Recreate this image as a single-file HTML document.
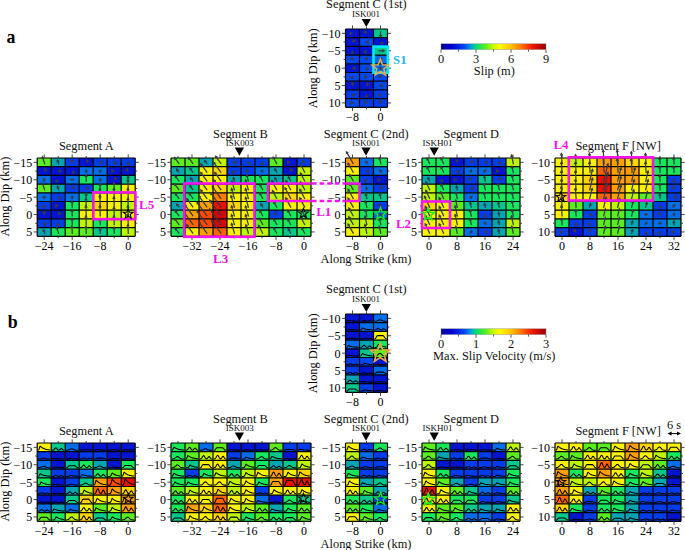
<!DOCTYPE html>
<html><head><meta charset="utf-8"><style>
html,body{margin:0;padding:0;background:#fff;}
svg{display:block;}
text{font-family:"Liberation Serif",serif;}
</style></head><body>
<svg width="685" height="550" viewBox="0 0 685 550">
<defs><linearGradient id="cbg" x1="0" x2="1" y1="0" y2="0"><stop offset="0.000" stop-color="rgb(0,0,150)"/><stop offset="0.100" stop-color="rgb(0,0,210)"/><stop offset="0.220" stop-color="rgb(0,70,245)"/><stop offset="0.280" stop-color="rgb(0,150,230)"/><stop offset="0.330" stop-color="rgb(0,220,120)"/><stop offset="0.420" stop-color="rgb(80,240,30)"/><stop offset="0.500" stop-color="rgb(200,250,0)"/><stop offset="0.560" stop-color="rgb(255,250,0)"/><stop offset="0.660" stop-color="rgb(255,200,0)"/><stop offset="0.760" stop-color="rgb(255,120,0)"/><stop offset="0.870" stop-color="rgb(240,20,0)"/><stop offset="1.000" stop-color="rgb(150,0,0)"/></linearGradient></defs>
<rect width="685" height="550" fill="#fff"/>
<rect x="345.50" y="29.00" width="14.00" height="8.70" fill="rgb(0,20,210)"/>
<rect x="359.50" y="29.00" width="14.00" height="8.70" fill="rgb(0,20,210)"/>
<rect x="373.50" y="29.00" width="14.00" height="8.70" fill="rgb(0,200,140)"/>
<rect x="345.50" y="37.70" width="14.00" height="8.70" fill="rgb(0,20,210)"/>
<rect x="359.50" y="37.70" width="14.00" height="8.70" fill="rgb(0,72,242)"/>
<rect x="373.50" y="37.70" width="14.00" height="8.70" fill="rgb(0,20,210)"/>
<rect x="345.50" y="46.40" width="14.00" height="8.70" fill="rgb(0,20,210)"/>
<rect x="359.50" y="46.40" width="14.00" height="8.70" fill="rgb(0,20,210)"/>
<rect x="373.50" y="46.40" width="14.00" height="8.70" fill="rgb(0,200,140)"/>
<rect x="345.50" y="55.10" width="14.00" height="8.70" fill="rgb(0,72,242)"/>
<rect x="359.50" y="55.10" width="14.00" height="8.70" fill="rgb(0,72,242)"/>
<rect x="373.50" y="55.10" width="14.00" height="8.70" fill="rgb(0,110,235)"/>
<rect x="345.50" y="63.80" width="14.00" height="8.70" fill="rgb(0,20,210)"/>
<rect x="359.50" y="63.80" width="14.00" height="8.70" fill="rgb(0,72,242)"/>
<rect x="373.50" y="63.80" width="14.00" height="8.70" fill="rgb(0,110,235)"/>
<rect x="345.50" y="72.50" width="14.00" height="8.70" fill="rgb(0,72,242)"/>
<rect x="359.50" y="72.50" width="14.00" height="8.70" fill="rgb(0,72,242)"/>
<rect x="373.50" y="72.50" width="14.00" height="8.70" fill="rgb(0,72,242)"/>
<rect x="345.50" y="81.20" width="14.00" height="8.70" fill="rgb(0,20,210)"/>
<rect x="359.50" y="81.20" width="14.00" height="8.70" fill="rgb(0,20,210)"/>
<rect x="373.50" y="81.20" width="14.00" height="8.70" fill="rgb(0,72,242)"/>
<rect x="345.50" y="89.90" width="14.00" height="8.70" fill="rgb(0,60,233)"/>
<rect x="359.50" y="89.90" width="14.00" height="8.70" fill="rgb(0,20,210)"/>
<rect x="373.50" y="89.90" width="14.00" height="8.70" fill="rgb(0,60,233)"/>
<rect x="345.50" y="98.60" width="14.00" height="8.70" fill="rgb(0,72,242)"/>
<rect x="359.50" y="98.60" width="14.00" height="8.70" fill="rgb(0,60,233)"/>
<rect x="373.50" y="98.60" width="14.00" height="8.70" fill="rgb(0,60,233)"/>
<path d="M345.50 29.00V107.30M359.50 29.00V107.30M373.50 29.00V107.30M387.50 29.00V107.30M345.50 29.00H387.50M345.50 37.70H387.50M345.50 46.40H387.50M345.50 55.10H387.50M345.50 63.80H387.50M345.50 72.50H387.50M345.50 81.20H387.50M345.50 89.90H387.50M345.50 98.60H387.50M345.50 107.30H387.50" stroke="#000" stroke-width="1.2" fill="none"/>
<path d="M345.50 33.35h-3.60M387.50 33.35h3.60M345.50 42.05h-2.00M387.50 42.05h2.00M345.50 50.75h-3.60M387.50 50.75h3.60M345.50 59.45h-2.00M387.50 59.45h2.00M345.50 68.15h-3.60M387.50 68.15h3.60M345.50 76.85h-2.00M387.50 76.85h2.00M345.50 85.55h-3.60M387.50 85.55h3.60M345.50 94.25h-2.00M387.50 94.25h2.00M345.50 102.95h-3.60M387.50 102.95h3.60M352.50 29.00v-3.60M352.50 107.30v3.60M366.50 29.00v-2.00M366.50 107.30v2.00M380.50 29.00v-3.60M380.50 107.30v3.60" stroke="#333" stroke-width="0.9" fill="none"/>
<text x="340.50" y="37.85" text-anchor="end" font-size="12">&#8722;10</text>
<text x="340.50" y="55.25" text-anchor="end" font-size="12">&#8722;5</text>
<text x="340.50" y="72.65" text-anchor="end" font-size="12">0</text>
<text x="340.50" y="90.05" text-anchor="end" font-size="12">5</text>
<text x="340.50" y="107.45" text-anchor="end" font-size="12">10</text>
<text x="352.50" y="121.30" text-anchor="middle" font-size="12">&#8722;8</text>
<text x="380.50" y="121.30" text-anchor="middle" font-size="12">0</text>
<polygon points="353.35,33.35 349.55,35.44 349.55,31.26" fill="rgb(58,58,64)"/>
<polygon points="367.10,33.95 362.94,32.74 365.89,29.79" fill="rgb(58,58,64)"/>
<line x1="380.50" y1="31.35" x2="380.50" y2="36.18" stroke="rgb(58,58,64)" stroke-width="1.25"/><polygon points="380.50,38.18 378.74,34.98 382.26,34.98" fill="rgb(58,58,64)"/>
<polygon points="351.90,42.65 353.11,38.49 356.06,41.44" fill="rgb(58,58,64)"/>
<polygon points="364.83,42.05 368.63,39.96 368.63,44.14" fill="rgb(58,58,64)"/>
<polygon points="379.90,41.45 384.06,42.66 381.11,45.61" fill="rgb(58,58,64)"/>
<polygon points="352.50,49.90 354.59,53.70 350.41,53.70" fill="rgb(58,58,64)"/>
<polygon points="367.10,50.15 365.89,54.31 362.94,51.36" fill="rgb(58,58,64)"/>
<line x1="378.50" y1="50.75" x2="383.33" y2="50.75" stroke="rgb(58,58,64)" stroke-width="1.25"/><polygon points="385.33,50.75 382.13,52.51 382.13,48.99" fill="rgb(58,58,64)"/>
<polygon points="353.68,60.63 349.51,59.42 352.47,56.46" fill="rgb(58,58,64)"/>
<polygon points="366.50,61.12 364.41,57.32 368.59,57.32" fill="rgb(58,58,64)"/>
<line x1="381.91" y1="58.04" x2="380.15" y2="59.80" stroke="rgb(58,58,64)" stroke-width="1.25"/><polygon points="378.73,61.22 379.75,57.71 382.24,60.20" fill="rgb(58,58,64)"/>
<polygon points="351.65,68.15 355.45,66.06 355.45,70.24" fill="rgb(58,58,64)"/>
<polygon points="365.32,66.97 369.49,68.18 366.53,71.14" fill="rgb(58,58,64)"/>
<line x1="380.50" y1="70.15" x2="380.50" y2="67.65" stroke="rgb(58,58,64)" stroke-width="1.25"/><polygon points="380.50,65.65 382.26,68.85 378.74,68.85" fill="rgb(58,58,64)"/>
<polygon points="353.68,75.67 352.47,79.84 349.51,76.88" fill="rgb(58,58,64)"/>
<polygon points="368.17,76.85 364.37,78.94 364.37,74.76" fill="rgb(58,58,64)"/>
<polygon points="381.68,78.03 377.51,76.82 380.47,73.86" fill="rgb(58,58,64)"/>
<polygon points="352.50,86.40 350.41,82.60 354.59,82.60" fill="rgb(58,58,64)"/>
<polygon points="365.90,86.15 367.11,81.99 370.06,84.94" fill="rgb(58,58,64)"/>
<polygon points="378.83,85.55 382.63,83.46 382.63,87.64" fill="rgb(58,58,64)"/>
<polygon points="351.49,93.24 355.65,94.45 352.70,97.40" fill="rgb(58,58,64)"/>
<polygon points="366.50,93.40 368.59,97.20 364.41,97.20" fill="rgb(58,58,64)"/>
<polygon points="381.51,93.24 380.30,97.40 377.35,94.45" fill="rgb(58,58,64)"/>
<polygon points="354.17,102.95 350.37,105.04 350.37,100.86" fill="rgb(58,58,64)"/>
<polygon points="367.51,103.96 363.35,102.75 366.30,99.80" fill="rgb(58,58,64)"/>
<polygon points="380.50,104.38 378.41,100.58 382.59,100.58" fill="rgb(58,58,64)"/>
<rect x="37.20" y="158.00" width="14.00" height="8.70" fill="rgb(90,238,30)"/>
<rect x="51.20" y="158.00" width="14.00" height="8.70" fill="rgb(0,165,180)"/>
<rect x="65.20" y="158.00" width="14.00" height="8.70" fill="rgb(0,60,233)"/>
<rect x="79.20" y="158.00" width="14.00" height="8.70" fill="rgb(0,20,210)"/>
<rect x="93.20" y="158.00" width="14.00" height="8.70" fill="rgb(0,60,233)"/>
<rect x="107.20" y="158.00" width="14.00" height="8.70" fill="rgb(0,60,233)"/>
<rect x="121.20" y="158.00" width="14.00" height="8.70" fill="rgb(0,60,233)"/>
<rect x="37.20" y="166.70" width="14.00" height="8.70" fill="rgb(0,20,210)"/>
<rect x="51.20" y="166.70" width="14.00" height="8.70" fill="rgb(0,20,210)"/>
<rect x="65.20" y="166.70" width="14.00" height="8.70" fill="rgb(0,20,210)"/>
<rect x="79.20" y="166.70" width="14.00" height="8.70" fill="rgb(0,110,235)"/>
<rect x="93.20" y="166.70" width="14.00" height="8.70" fill="rgb(0,110,235)"/>
<rect x="107.20" y="166.70" width="14.00" height="8.70" fill="rgb(0,20,210)"/>
<rect x="121.20" y="166.70" width="14.00" height="8.70" fill="rgb(0,20,210)"/>
<rect x="37.20" y="175.40" width="14.00" height="8.70" fill="rgb(0,110,235)"/>
<rect x="51.20" y="175.40" width="14.00" height="8.70" fill="rgb(0,20,210)"/>
<rect x="65.20" y="175.40" width="14.00" height="8.70" fill="rgb(0,110,235)"/>
<rect x="79.20" y="175.40" width="14.00" height="8.70" fill="rgb(22,232,92)"/>
<rect x="93.20" y="175.40" width="14.00" height="8.70" fill="rgb(0,110,235)"/>
<rect x="107.20" y="175.40" width="14.00" height="8.70" fill="rgb(0,20,210)"/>
<rect x="121.20" y="175.40" width="14.00" height="8.70" fill="rgb(0,200,140)"/>
<rect x="37.20" y="184.10" width="14.00" height="8.70" fill="rgb(90,238,30)"/>
<rect x="51.20" y="184.10" width="14.00" height="8.70" fill="rgb(0,165,180)"/>
<rect x="65.20" y="184.10" width="14.00" height="8.70" fill="rgb(0,60,233)"/>
<rect x="79.20" y="184.10" width="14.00" height="8.70" fill="rgb(0,60,233)"/>
<rect x="93.20" y="184.10" width="14.00" height="8.70" fill="rgb(22,232,92)"/>
<rect x="107.20" y="184.10" width="14.00" height="8.70" fill="rgb(90,238,30)"/>
<rect x="121.20" y="184.10" width="14.00" height="8.70" fill="rgb(250,242,0)"/>
<rect x="37.20" y="192.80" width="14.00" height="8.70" fill="rgb(0,110,235)"/>
<rect x="51.20" y="192.80" width="14.00" height="8.70" fill="rgb(0,60,233)"/>
<rect x="65.20" y="192.80" width="14.00" height="8.70" fill="rgb(0,110,235)"/>
<rect x="79.20" y="192.80" width="14.00" height="8.70" fill="rgb(0,200,140)"/>
<rect x="93.20" y="192.80" width="14.00" height="8.70" fill="rgb(250,242,0)"/>
<rect x="107.20" y="192.80" width="14.00" height="8.70" fill="rgb(250,242,0)"/>
<rect x="121.20" y="192.80" width="14.00" height="8.70" fill="rgb(250,242,0)"/>
<rect x="37.20" y="201.50" width="14.00" height="8.70" fill="rgb(0,60,233)"/>
<rect x="51.20" y="201.50" width="14.00" height="8.70" fill="rgb(0,20,210)"/>
<rect x="65.20" y="201.50" width="14.00" height="8.70" fill="rgb(22,232,92)"/>
<rect x="79.20" y="201.50" width="14.00" height="8.70" fill="rgb(190,245,0)"/>
<rect x="93.20" y="201.50" width="14.00" height="8.70" fill="rgb(255,212,0)"/>
<rect x="107.20" y="201.50" width="14.00" height="8.70" fill="rgb(250,242,0)"/>
<rect x="121.20" y="201.50" width="14.00" height="8.70" fill="rgb(190,245,0)"/>
<rect x="37.20" y="210.20" width="14.00" height="8.70" fill="rgb(0,20,210)"/>
<rect x="51.20" y="210.20" width="14.00" height="8.70" fill="rgb(0,20,210)"/>
<rect x="65.20" y="210.20" width="14.00" height="8.70" fill="rgb(22,232,92)"/>
<rect x="79.20" y="210.20" width="14.00" height="8.70" fill="rgb(250,242,0)"/>
<rect x="93.20" y="210.20" width="14.00" height="8.70" fill="rgb(250,242,0)"/>
<rect x="107.20" y="210.20" width="14.00" height="8.70" fill="rgb(190,245,0)"/>
<rect x="121.20" y="210.20" width="14.00" height="8.70" fill="rgb(250,242,0)"/>
<rect x="37.20" y="218.90" width="14.00" height="8.70" fill="rgb(0,60,233)"/>
<rect x="51.20" y="218.90" width="14.00" height="8.70" fill="rgb(0,60,233)"/>
<rect x="65.20" y="218.90" width="14.00" height="8.70" fill="rgb(22,232,92)"/>
<rect x="79.20" y="218.90" width="14.00" height="8.70" fill="rgb(190,245,0)"/>
<rect x="93.20" y="218.90" width="14.00" height="8.70" fill="rgb(22,232,92)"/>
<rect x="107.20" y="218.90" width="14.00" height="8.70" fill="rgb(190,245,0)"/>
<rect x="121.20" y="218.90" width="14.00" height="8.70" fill="rgb(250,242,0)"/>
<rect x="37.20" y="227.60" width="14.00" height="8.70" fill="rgb(0,165,180)"/>
<rect x="51.20" y="227.60" width="14.00" height="8.70" fill="rgb(22,232,92)"/>
<rect x="65.20" y="227.60" width="14.00" height="8.70" fill="rgb(90,238,30)"/>
<rect x="79.20" y="227.60" width="14.00" height="8.70" fill="rgb(90,238,30)"/>
<rect x="93.20" y="227.60" width="14.00" height="8.70" fill="rgb(0,200,140)"/>
<rect x="107.20" y="227.60" width="14.00" height="8.70" fill="rgb(22,232,92)"/>
<rect x="121.20" y="227.60" width="14.00" height="8.70" fill="rgb(190,245,0)"/>
<path d="M37.20 158.00V236.30M51.20 158.00V236.30M65.20 158.00V236.30M79.20 158.00V236.30M93.20 158.00V236.30M107.20 158.00V236.30M121.20 158.00V236.30M135.20 158.00V236.30M37.20 158.00H135.20M37.20 166.70H135.20M37.20 175.40H135.20M37.20 184.10H135.20M37.20 192.80H135.20M37.20 201.50H135.20M37.20 210.20H135.20M37.20 218.90H135.20M37.20 227.60H135.20M37.20 236.30H135.20" stroke="#000" stroke-width="1.2" fill="none"/>
<path d="M37.20 162.35h-3.60M135.20 162.35h3.60M37.20 171.05h-2.00M135.20 171.05h2.00M37.20 179.75h-3.60M135.20 179.75h3.60M37.20 188.45h-2.00M135.20 188.45h2.00M37.20 197.15h-3.60M135.20 197.15h3.60M37.20 205.85h-2.00M135.20 205.85h2.00M37.20 214.55h-3.60M135.20 214.55h3.60M37.20 223.25h-2.00M135.20 223.25h2.00M37.20 231.95h-3.60M135.20 231.95h3.60M44.20 158.00v-3.60M44.20 236.30v3.60M58.20 158.00v-2.00M58.20 236.30v2.00M72.20 158.00v-3.60M72.20 236.30v3.60M86.20 158.00v-2.00M86.20 236.30v2.00M100.20 158.00v-3.60M100.20 236.30v3.60M114.20 158.00v-2.00M114.20 236.30v2.00M128.20 158.00v-3.60M128.20 236.30v3.60" stroke="#333" stroke-width="0.9" fill="none"/>
<text x="32.20" y="166.85" text-anchor="end" font-size="12">&#8722;15</text>
<text x="32.20" y="184.25" text-anchor="end" font-size="12">&#8722;10</text>
<text x="32.20" y="201.65" text-anchor="end" font-size="12">&#8722;5</text>
<text x="32.20" y="219.05" text-anchor="end" font-size="12">0</text>
<text x="32.20" y="236.45" text-anchor="end" font-size="12">5</text>
<text x="44.20" y="250.30" text-anchor="middle" font-size="12">&#8722;24</text>
<text x="72.20" y="250.30" text-anchor="middle" font-size="12">&#8722;16</text>
<text x="100.20" y="250.30" text-anchor="middle" font-size="12">&#8722;8</text>
<text x="128.20" y="250.30" text-anchor="middle" font-size="12">0</text>
<line x1="44.82" y1="164.25" x2="42.60" y2="157.44" stroke="rgb(58,58,64)" stroke-width="1.25"/><polygon points="41.99,155.53 44.65,158.03 41.30,159.12" fill="rgb(58,58,64)"/>
<line x1="58.82" y1="164.25" x2="57.68" y2="160.76" stroke="rgb(58,58,64)" stroke-width="1.25"/><polygon points="57.07,158.86 59.73,161.36 56.38,162.45" fill="rgb(58,58,64)"/>
<polygon points="72.20,163.78 70.11,159.98 74.29,159.98" fill="rgb(58,58,64)"/>
<polygon points="85.60,162.95 86.81,158.79 89.76,161.74" fill="rgb(58,58,64)"/>
<polygon points="98.77,162.35 102.57,160.26 102.57,164.44" fill="rgb(58,58,64)"/>
<polygon points="113.19,161.34 117.35,162.55 114.40,165.50" fill="rgb(58,58,64)"/>
<polygon points="128.20,160.92 130.29,164.72 126.11,164.72" fill="rgb(58,58,64)"/>
<polygon points="43.60,171.65 44.81,167.49 47.76,170.44" fill="rgb(58,58,64)"/>
<polygon points="57.35,171.05 61.15,168.96 61.15,173.14" fill="rgb(58,58,64)"/>
<polygon points="71.60,170.45 75.76,171.66 72.81,174.61" fill="rgb(58,58,64)"/>
<line x1="86.20" y1="173.05" x2="86.20" y2="170.55" stroke="rgb(58,58,64)" stroke-width="1.25"/><polygon points="86.20,168.55 87.96,171.75 84.44,171.75" fill="rgb(58,58,64)"/>
<line x1="98.79" y1="172.46" x2="100.55" y2="170.70" stroke="rgb(58,58,64)" stroke-width="1.25"/><polygon points="101.97,169.28 100.95,172.79 98.46,170.30" fill="rgb(58,58,64)"/>
<polygon points="115.05,171.05 111.25,173.14 111.25,168.96" fill="rgb(58,58,64)"/>
<polygon points="128.80,171.65 124.64,170.44 127.59,167.49" fill="rgb(58,58,64)"/>
<line x1="44.20" y1="181.75" x2="44.20" y2="179.25" stroke="rgb(58,58,64)" stroke-width="1.25"/><polygon points="44.20,177.25 45.96,180.45 42.44,180.45" fill="rgb(58,58,64)"/>
<polygon points="58.80,179.15 57.59,183.31 54.64,180.36" fill="rgb(58,58,64)"/>
<line x1="70.20" y1="179.75" x2="72.70" y2="179.75" stroke="rgb(58,58,64)" stroke-width="1.25"/><polygon points="74.70,179.75 71.50,181.51 71.50,177.99" fill="rgb(58,58,64)"/>
<line x1="86.27" y1="181.75" x2="86.06" y2="175.75" stroke="rgb(58,58,64)" stroke-width="1.25"/><polygon points="85.99,173.75 87.86,176.89 84.34,177.01" fill="rgb(58,58,64)"/>
<line x1="100.20" y1="177.75" x2="100.20" y2="180.25" stroke="rgb(58,58,64)" stroke-width="1.25"/><polygon points="100.20,182.25 98.44,179.05 101.96,179.05" fill="rgb(58,58,64)"/>
<polygon points="113.60,180.35 114.81,176.19 117.76,179.14" fill="rgb(58,58,64)"/>
<line x1="128.27" y1="181.75" x2="128.10" y2="176.92" stroke="rgb(58,58,64)" stroke-width="1.25"/><polygon points="128.03,174.92 129.90,178.06 126.38,178.18" fill="rgb(58,58,64)"/>
<line x1="44.82" y1="190.35" x2="42.60" y2="183.54" stroke="rgb(58,58,64)" stroke-width="1.25"/><polygon points="41.99,181.63 44.65,184.13 41.30,185.22" fill="rgb(58,58,64)"/>
<line x1="58.82" y1="190.35" x2="57.68" y2="186.86" stroke="rgb(58,58,64)" stroke-width="1.25"/><polygon points="57.07,184.96 59.73,187.46 56.38,188.55" fill="rgb(58,58,64)"/>
<polygon points="71.19,189.46 72.40,185.30 75.35,188.25" fill="rgb(58,58,64)"/>
<polygon points="84.77,188.45 88.57,186.36 88.57,190.54" fill="rgb(58,58,64)"/>
<line x1="100.27" y1="190.45" x2="100.06" y2="184.45" stroke="rgb(58,58,64)" stroke-width="1.25"/><polygon points="99.99,182.45 101.86,185.59 98.34,185.71" fill="rgb(58,58,64)"/>
<line x1="114.27" y1="190.45" x2="114.02" y2="183.29" stroke="rgb(58,58,64)" stroke-width="1.25"/><polygon points="113.95,181.29 115.82,184.42 112.30,184.55" fill="rgb(58,58,64)"/>
<line x1="128.27" y1="190.45" x2="127.91" y2="180.25" stroke="rgb(58,58,64)" stroke-width="1.25"/><polygon points="127.84,178.26 129.71,181.39 126.20,181.52" fill="rgb(58,58,64)"/>
<line x1="46.20" y1="197.15" x2="43.70" y2="197.15" stroke="rgb(58,58,64)" stroke-width="1.25"/><polygon points="41.70,197.15 44.90,195.39 44.90,198.91" fill="rgb(58,58,64)"/>
<polygon points="57.19,196.14 61.35,197.35 58.40,200.30" fill="rgb(58,58,64)"/>
<line x1="72.20" y1="199.15" x2="72.20" y2="196.65" stroke="rgb(58,58,64)" stroke-width="1.25"/><polygon points="72.20,194.65 73.96,197.85 70.44,197.85" fill="rgb(58,58,64)"/>
<line x1="86.27" y1="199.15" x2="86.10" y2="194.32" stroke="rgb(58,58,64)" stroke-width="1.25"/><polygon points="86.03,192.32 87.90,195.46 84.38,195.58" fill="rgb(58,58,64)"/>
<line x1="100.27" y1="199.15" x2="99.91" y2="188.95" stroke="rgb(58,58,64)" stroke-width="1.25"/><polygon points="99.84,186.96 101.71,190.09 98.20,190.22" fill="rgb(58,58,64)"/>
<line x1="114.27" y1="199.15" x2="113.91" y2="188.95" stroke="rgb(58,58,64)" stroke-width="1.25"/><polygon points="113.84,186.96 115.71,190.09 112.20,190.22" fill="rgb(58,58,64)"/>
<line x1="128.27" y1="199.15" x2="127.91" y2="188.95" stroke="rgb(58,58,64)" stroke-width="1.25"/><polygon points="127.84,186.96 129.71,190.09 126.20,190.22" fill="rgb(58,58,64)"/>
<polygon points="45.21,204.84 44.00,209.00 41.05,206.05" fill="rgb(58,58,64)"/>
<polygon points="59.05,205.85 55.25,207.94 55.25,203.76" fill="rgb(58,58,64)"/>
<line x1="72.27" y1="207.85" x2="72.06" y2="201.85" stroke="rgb(58,58,64)" stroke-width="1.25"/><polygon points="71.99,199.85 73.86,202.99 70.34,203.11" fill="rgb(58,58,64)"/>
<line x1="86.27" y1="207.85" x2="85.96" y2="199.05" stroke="rgb(58,58,64)" stroke-width="1.25"/><polygon points="85.89,197.06 87.76,200.19 84.25,200.31" fill="rgb(58,58,64)"/>
<line x1="100.27" y1="207.85" x2="99.86" y2="196.02" stroke="rgb(58,58,64)" stroke-width="1.25"/><polygon points="99.79,194.02 101.66,197.16 98.14,197.28" fill="rgb(58,58,64)"/>
<line x1="114.27" y1="207.85" x2="113.91" y2="197.65" stroke="rgb(58,58,64)" stroke-width="1.25"/><polygon points="113.84,195.66 115.71,198.79 112.20,198.92" fill="rgb(58,58,64)"/>
<line x1="128.27" y1="207.85" x2="127.96" y2="199.05" stroke="rgb(58,58,64)" stroke-width="1.25"/><polygon points="127.89,197.06 129.76,200.19 126.25,200.31" fill="rgb(58,58,64)"/>
<polygon points="44.20,215.40 42.11,211.60 46.29,211.60" fill="rgb(58,58,64)"/>
<polygon points="57.60,215.15 58.81,210.99 61.76,213.94" fill="rgb(58,58,64)"/>
<line x1="72.27" y1="216.55" x2="72.06" y2="210.55" stroke="rgb(58,58,64)" stroke-width="1.25"/><polygon points="71.99,208.55 73.86,211.69 70.34,211.81" fill="rgb(58,58,64)"/>
<line x1="86.27" y1="216.55" x2="85.91" y2="206.35" stroke="rgb(58,58,64)" stroke-width="1.25"/><polygon points="85.84,204.36 87.71,207.49 84.20,207.62" fill="rgb(58,58,64)"/>
<line x1="100.27" y1="216.55" x2="99.91" y2="206.35" stroke="rgb(58,58,64)" stroke-width="1.25"/><polygon points="99.84,204.36 101.71,207.49 98.20,207.62" fill="rgb(58,58,64)"/>
<line x1="114.27" y1="216.55" x2="113.96" y2="207.75" stroke="rgb(58,58,64)" stroke-width="1.25"/><polygon points="113.89,205.76 115.76,208.89 112.25,209.01" fill="rgb(58,58,64)"/>
<line x1="128.27" y1="216.55" x2="127.91" y2="206.35" stroke="rgb(58,58,64)" stroke-width="1.25"/><polygon points="127.84,204.36 129.71,207.49 126.20,207.62" fill="rgb(58,58,64)"/>
<polygon points="43.19,222.24 47.35,223.45 44.40,226.40" fill="rgb(58,58,64)"/>
<polygon points="58.20,221.82 60.29,225.62 56.11,225.62" fill="rgb(58,58,64)"/>
<line x1="72.27" y1="225.25" x2="72.06" y2="219.25" stroke="rgb(58,58,64)" stroke-width="1.25"/><polygon points="71.99,217.25 73.86,220.39 70.34,220.51" fill="rgb(58,58,64)"/>
<line x1="86.27" y1="225.25" x2="85.96" y2="216.45" stroke="rgb(58,58,64)" stroke-width="1.25"/><polygon points="85.89,214.46 87.76,217.59 84.25,217.71" fill="rgb(58,58,64)"/>
<line x1="100.27" y1="225.25" x2="100.06" y2="219.25" stroke="rgb(58,58,64)" stroke-width="1.25"/><polygon points="99.99,217.25 101.86,220.39 98.34,220.51" fill="rgb(58,58,64)"/>
<line x1="114.27" y1="225.25" x2="113.96" y2="216.45" stroke="rgb(58,58,64)" stroke-width="1.25"/><polygon points="113.89,214.46 115.76,217.59 112.25,217.71" fill="rgb(58,58,64)"/>
<line x1="128.27" y1="225.25" x2="127.91" y2="215.05" stroke="rgb(58,58,64)" stroke-width="1.25"/><polygon points="127.84,213.06 129.71,216.19 126.20,216.32" fill="rgb(58,58,64)"/>
<line x1="44.82" y1="233.85" x2="43.68" y2="230.36" stroke="rgb(58,58,64)" stroke-width="1.25"/><polygon points="43.07,228.46 45.73,230.96 42.38,232.05" fill="rgb(58,58,64)"/>
<line x1="58.82" y1="233.85" x2="56.96" y2="228.15" stroke="rgb(58,58,64)" stroke-width="1.25"/><polygon points="56.35,226.24 59.01,228.74 55.66,229.83" fill="rgb(58,58,64)"/>
<line x1="72.27" y1="233.95" x2="72.02" y2="226.79" stroke="rgb(58,58,64)" stroke-width="1.25"/><polygon points="71.95,224.79 73.82,227.92 70.30,228.05" fill="rgb(58,58,64)"/>
<line x1="86.27" y1="233.95" x2="86.02" y2="226.79" stroke="rgb(58,58,64)" stroke-width="1.25"/><polygon points="85.95,224.79 87.82,227.92 84.30,228.05" fill="rgb(58,58,64)"/>
<line x1="100.27" y1="233.95" x2="100.10" y2="229.12" stroke="rgb(58,58,64)" stroke-width="1.25"/><polygon points="100.03,227.12 101.90,230.26 98.38,230.38" fill="rgb(58,58,64)"/>
<line x1="114.27" y1="233.95" x2="114.06" y2="227.95" stroke="rgb(58,58,64)" stroke-width="1.25"/><polygon points="113.99,225.95 115.86,229.09 112.34,229.21" fill="rgb(58,58,64)"/>
<line x1="128.27" y1="233.95" x2="127.96" y2="225.15" stroke="rgb(58,58,64)" stroke-width="1.25"/><polygon points="127.89,223.16 129.76,226.29 126.25,226.41" fill="rgb(58,58,64)"/>
<rect x="171.00" y="158.00" width="14.00" height="8.70" fill="rgb(90,238,30)"/>
<rect x="185.00" y="158.00" width="14.00" height="8.70" fill="rgb(90,238,30)"/>
<rect x="199.00" y="158.00" width="14.00" height="8.70" fill="rgb(0,165,180)"/>
<rect x="213.00" y="158.00" width="14.00" height="8.70" fill="rgb(190,245,0)"/>
<rect x="227.00" y="158.00" width="14.00" height="8.70" fill="rgb(0,60,233)"/>
<rect x="241.00" y="158.00" width="14.00" height="8.70" fill="rgb(0,60,233)"/>
<rect x="255.00" y="158.00" width="14.00" height="8.70" fill="rgb(0,60,233)"/>
<rect x="269.00" y="158.00" width="14.00" height="8.70" fill="rgb(90,238,30)"/>
<rect x="283.00" y="158.00" width="14.00" height="8.70" fill="rgb(0,20,210)"/>
<rect x="297.00" y="158.00" width="14.00" height="8.70" fill="rgb(0,60,233)"/>
<rect x="171.00" y="166.70" width="14.00" height="8.70" fill="rgb(0,165,180)"/>
<rect x="185.00" y="166.70" width="14.00" height="8.70" fill="rgb(0,200,140)"/>
<rect x="199.00" y="166.70" width="14.00" height="8.70" fill="rgb(250,242,0)"/>
<rect x="213.00" y="166.70" width="14.00" height="8.70" fill="rgb(255,212,0)"/>
<rect x="227.00" y="166.70" width="14.00" height="8.70" fill="rgb(0,60,233)"/>
<rect x="241.00" y="166.70" width="14.00" height="8.70" fill="rgb(0,60,233)"/>
<rect x="255.00" y="166.70" width="14.00" height="8.70" fill="rgb(0,110,235)"/>
<rect x="269.00" y="166.70" width="14.00" height="8.70" fill="rgb(0,165,180)"/>
<rect x="283.00" y="166.70" width="14.00" height="8.70" fill="rgb(0,20,210)"/>
<rect x="297.00" y="166.70" width="14.00" height="8.70" fill="rgb(190,245,0)"/>
<rect x="171.00" y="175.40" width="14.00" height="8.70" fill="rgb(22,232,92)"/>
<rect x="185.00" y="175.40" width="14.00" height="8.70" fill="rgb(0,165,180)"/>
<rect x="199.00" y="175.40" width="14.00" height="8.70" fill="rgb(250,242,0)"/>
<rect x="213.00" y="175.40" width="14.00" height="8.70" fill="rgb(250,242,0)"/>
<rect x="227.00" y="175.40" width="14.00" height="8.70" fill="rgb(0,165,180)"/>
<rect x="241.00" y="175.40" width="14.00" height="8.70" fill="rgb(22,232,92)"/>
<rect x="255.00" y="175.40" width="14.00" height="8.70" fill="rgb(22,232,92)"/>
<rect x="269.00" y="175.40" width="14.00" height="8.70" fill="rgb(0,165,180)"/>
<rect x="283.00" y="175.40" width="14.00" height="8.70" fill="rgb(0,200,140)"/>
<rect x="297.00" y="175.40" width="14.00" height="8.70" fill="rgb(190,245,0)"/>
<rect x="171.00" y="184.10" width="14.00" height="8.70" fill="rgb(90,238,30)"/>
<rect x="185.00" y="184.10" width="14.00" height="8.70" fill="rgb(0,200,140)"/>
<rect x="199.00" y="184.10" width="14.00" height="8.70" fill="rgb(250,242,0)"/>
<rect x="213.00" y="184.10" width="14.00" height="8.70" fill="rgb(255,212,0)"/>
<rect x="227.00" y="184.10" width="14.00" height="8.70" fill="rgb(190,245,0)"/>
<rect x="241.00" y="184.10" width="14.00" height="8.70" fill="rgb(250,242,0)"/>
<rect x="255.00" y="184.10" width="14.00" height="8.70" fill="rgb(22,232,92)"/>
<rect x="269.00" y="184.10" width="14.00" height="8.70" fill="rgb(250,242,0)"/>
<rect x="283.00" y="184.10" width="14.00" height="8.70" fill="rgb(250,242,0)"/>
<rect x="297.00" y="184.10" width="14.00" height="8.70" fill="rgb(190,245,0)"/>
<rect x="171.00" y="192.80" width="14.00" height="8.70" fill="rgb(22,232,92)"/>
<rect x="185.00" y="192.80" width="14.00" height="8.70" fill="rgb(22,232,92)"/>
<rect x="199.00" y="192.80" width="14.00" height="8.70" fill="rgb(250,242,0)"/>
<rect x="213.00" y="192.80" width="14.00" height="8.70" fill="rgb(255,125,0)"/>
<rect x="227.00" y="192.80" width="14.00" height="8.70" fill="rgb(250,242,0)"/>
<rect x="241.00" y="192.80" width="14.00" height="8.70" fill="rgb(250,242,0)"/>
<rect x="255.00" y="192.80" width="14.00" height="8.70" fill="rgb(22,232,92)"/>
<rect x="269.00" y="192.80" width="14.00" height="8.70" fill="rgb(190,245,0)"/>
<rect x="283.00" y="192.80" width="14.00" height="8.70" fill="rgb(255,212,0)"/>
<rect x="297.00" y="192.80" width="14.00" height="8.70" fill="rgb(250,242,0)"/>
<rect x="171.00" y="201.50" width="14.00" height="8.70" fill="rgb(0,165,180)"/>
<rect x="185.00" y="201.50" width="14.00" height="8.70" fill="rgb(250,242,0)"/>
<rect x="199.00" y="201.50" width="14.00" height="8.70" fill="rgb(255,160,0)"/>
<rect x="213.00" y="201.50" width="14.00" height="8.70" fill="rgb(235,15,0)"/>
<rect x="227.00" y="201.50" width="14.00" height="8.70" fill="rgb(255,212,0)"/>
<rect x="241.00" y="201.50" width="14.00" height="8.70" fill="rgb(250,242,0)"/>
<rect x="255.00" y="201.50" width="14.00" height="8.70" fill="rgb(0,165,180)"/>
<rect x="269.00" y="201.50" width="14.00" height="8.70" fill="rgb(22,232,92)"/>
<rect x="283.00" y="201.50" width="14.00" height="8.70" fill="rgb(250,242,0)"/>
<rect x="297.00" y="201.50" width="14.00" height="8.70" fill="rgb(250,242,0)"/>
<rect x="171.00" y="210.20" width="14.00" height="8.70" fill="rgb(22,232,92)"/>
<rect x="185.00" y="210.20" width="14.00" height="8.70" fill="rgb(255,160,0)"/>
<rect x="199.00" y="210.20" width="14.00" height="8.70" fill="rgb(255,72,0)"/>
<rect x="213.00" y="210.20" width="14.00" height="8.70" fill="rgb(218,0,0)"/>
<rect x="227.00" y="210.20" width="14.00" height="8.70" fill="rgb(250,242,0)"/>
<rect x="241.00" y="210.20" width="14.00" height="8.70" fill="rgb(250,242,0)"/>
<rect x="255.00" y="210.20" width="14.00" height="8.70" fill="rgb(22,232,92)"/>
<rect x="269.00" y="210.20" width="14.00" height="8.70" fill="rgb(0,60,233)"/>
<rect x="283.00" y="210.20" width="14.00" height="8.70" fill="rgb(22,232,92)"/>
<rect x="297.00" y="210.20" width="14.00" height="8.70" fill="rgb(22,232,92)"/>
<rect x="171.00" y="218.90" width="14.00" height="8.70" fill="rgb(90,238,30)"/>
<rect x="185.00" y="218.90" width="14.00" height="8.70" fill="rgb(255,100,0)"/>
<rect x="199.00" y="218.90" width="14.00" height="8.70" fill="rgb(255,72,0)"/>
<rect x="213.00" y="218.90" width="14.00" height="8.70" fill="rgb(218,0,0)"/>
<rect x="227.00" y="218.90" width="14.00" height="8.70" fill="rgb(250,242,0)"/>
<rect x="241.00" y="218.90" width="14.00" height="8.70" fill="rgb(250,242,0)"/>
<rect x="255.00" y="218.90" width="14.00" height="8.70" fill="rgb(90,238,30)"/>
<rect x="269.00" y="218.90" width="14.00" height="8.70" fill="rgb(22,232,92)"/>
<rect x="283.00" y="218.90" width="14.00" height="8.70" fill="rgb(22,232,92)"/>
<rect x="297.00" y="218.90" width="14.00" height="8.70" fill="rgb(190,245,0)"/>
<rect x="171.00" y="227.60" width="14.00" height="8.70" fill="rgb(22,232,92)"/>
<rect x="185.00" y="227.60" width="14.00" height="8.70" fill="rgb(250,242,0)"/>
<rect x="199.00" y="227.60" width="14.00" height="8.70" fill="rgb(255,160,0)"/>
<rect x="213.00" y="227.60" width="14.00" height="8.70" fill="rgb(255,100,0)"/>
<rect x="227.00" y="227.60" width="14.00" height="8.70" fill="rgb(250,242,0)"/>
<rect x="241.00" y="227.60" width="14.00" height="8.70" fill="rgb(190,245,0)"/>
<rect x="255.00" y="227.60" width="14.00" height="8.70" fill="rgb(190,245,0)"/>
<rect x="269.00" y="227.60" width="14.00" height="8.70" fill="rgb(22,232,92)"/>
<rect x="283.00" y="227.60" width="14.00" height="8.70" fill="rgb(0,200,140)"/>
<rect x="297.00" y="227.60" width="14.00" height="8.70" fill="rgb(22,232,92)"/>
<path d="M171.00 158.00V236.30M185.00 158.00V236.30M199.00 158.00V236.30M213.00 158.00V236.30M227.00 158.00V236.30M241.00 158.00V236.30M255.00 158.00V236.30M269.00 158.00V236.30M283.00 158.00V236.30M297.00 158.00V236.30M311.00 158.00V236.30M171.00 158.00H311.00M171.00 166.70H311.00M171.00 175.40H311.00M171.00 184.10H311.00M171.00 192.80H311.00M171.00 201.50H311.00M171.00 210.20H311.00M171.00 218.90H311.00M171.00 227.60H311.00M171.00 236.30H311.00" stroke="#000" stroke-width="1.2" fill="none"/>
<path d="M171.00 162.35h-3.60M311.00 162.35h3.60M171.00 171.05h-2.00M311.00 171.05h2.00M171.00 179.75h-3.60M311.00 179.75h3.60M171.00 188.45h-2.00M311.00 188.45h2.00M171.00 197.15h-3.60M311.00 197.15h3.60M171.00 205.85h-2.00M311.00 205.85h2.00M171.00 214.55h-3.60M311.00 214.55h3.60M171.00 223.25h-2.00M311.00 223.25h2.00M171.00 231.95h-3.60M311.00 231.95h3.60M178.00 158.00v-2.00M178.00 236.30v2.00M192.00 158.00v-3.60M192.00 236.30v3.60M206.00 158.00v-2.00M206.00 236.30v2.00M220.00 158.00v-3.60M220.00 236.30v3.60M234.00 158.00v-2.00M234.00 236.30v2.00M248.00 158.00v-3.60M248.00 236.30v3.60M262.00 158.00v-2.00M262.00 236.30v2.00M276.00 158.00v-3.60M276.00 236.30v3.60M290.00 158.00v-2.00M290.00 236.30v2.00M304.00 158.00v-3.60M304.00 236.30v3.60" stroke="#333" stroke-width="0.9" fill="none"/>
<text x="166.00" y="166.85" text-anchor="end" font-size="12">&#8722;15</text>
<text x="166.00" y="184.25" text-anchor="end" font-size="12">&#8722;10</text>
<text x="166.00" y="201.65" text-anchor="end" font-size="12">&#8722;5</text>
<text x="166.00" y="219.05" text-anchor="end" font-size="12">0</text>
<text x="166.00" y="236.45" text-anchor="end" font-size="12">5</text>
<text x="192.00" y="250.30" text-anchor="middle" font-size="12">&#8722;32</text>
<text x="220.00" y="250.30" text-anchor="middle" font-size="12">&#8722;24</text>
<text x="248.00" y="250.30" text-anchor="middle" font-size="12">&#8722;16</text>
<text x="276.00" y="250.30" text-anchor="middle" font-size="12">&#8722;8</text>
<text x="304.00" y="250.30" text-anchor="middle" font-size="12">0</text>
<line x1="179.18" y1="163.97" x2="174.96" y2="158.17" stroke="rgb(58,58,64)" stroke-width="1.25"/><polygon points="173.79,156.55 177.09,158.11 174.24,160.18" fill="rgb(58,58,64)"/>
<line x1="193.18" y1="163.97" x2="188.96" y2="158.17" stroke="rgb(58,58,64)" stroke-width="1.25"/><polygon points="187.79,156.55 191.09,158.11 188.24,160.18" fill="rgb(58,58,64)"/>
<line x1="207.18" y1="163.97" x2="205.02" y2="161.00" stroke="rgb(58,58,64)" stroke-width="1.25"/><polygon points="203.84,159.38 207.15,160.94 204.30,163.01" fill="rgb(58,58,64)"/>
<line x1="221.18" y1="163.97" x2="216.00" y2="156.85" stroke="rgb(58,58,64)" stroke-width="1.25"/><polygon points="214.83,155.23 218.13,156.79 215.28,158.85" fill="rgb(58,58,64)"/>
<polygon points="232.57,162.35 236.37,160.26 236.37,164.44" fill="rgb(58,58,64)"/>
<polygon points="246.99,161.34 251.15,162.55 248.20,165.50" fill="rgb(58,58,64)"/>
<polygon points="262.00,160.92 264.09,164.72 259.91,164.72" fill="rgb(58,58,64)"/>
<line x1="276.94" y1="164.12" x2="273.57" y2="157.79" stroke="rgb(58,58,64)" stroke-width="1.25"/><polygon points="272.64,156.02 275.69,158.02 272.58,159.67" fill="rgb(58,58,64)"/>
<polygon points="290.85,162.35 287.05,164.44 287.05,160.26" fill="rgb(58,58,64)"/>
<polygon points="305.01,163.36 300.85,162.15 303.80,159.20" fill="rgb(58,58,64)"/>
<line x1="179.18" y1="172.67" x2="177.02" y2="169.70" stroke="rgb(58,58,64)" stroke-width="1.25"/><polygon points="175.84,168.08 179.15,169.64 176.30,171.71" fill="rgb(58,58,64)"/>
<line x1="193.18" y1="172.67" x2="190.33" y2="168.76" stroke="rgb(58,58,64)" stroke-width="1.25"/><polygon points="189.16,167.14 192.46,168.69 189.62,170.76" fill="rgb(58,58,64)"/>
<line x1="207.18" y1="172.67" x2="201.18" y2="164.42" stroke="rgb(58,58,64)" stroke-width="1.25"/><polygon points="200.00,162.80 203.31,164.35 200.46,166.42" fill="rgb(58,58,64)"/>
<line x1="221.18" y1="172.67" x2="214.22" y2="163.09" stroke="rgb(58,58,64)" stroke-width="1.25"/><polygon points="213.04,161.48 216.35,163.03 213.50,165.10" fill="rgb(58,58,64)"/>
<polygon points="235.01,170.04 233.80,174.20 230.85,171.25" fill="rgb(58,58,64)"/>
<polygon points="249.43,171.05 245.63,173.14 245.63,168.96" fill="rgb(58,58,64)"/>
<line x1="260.59" y1="169.64" x2="262.35" y2="171.40" stroke="rgb(58,58,64)" stroke-width="1.25"/><polygon points="263.77,172.82 260.26,171.80 262.75,169.31" fill="rgb(58,58,64)"/>
<line x1="276.94" y1="172.82" x2="275.22" y2="169.58" stroke="rgb(58,58,64)" stroke-width="1.25"/><polygon points="274.28,167.81 277.33,169.81 274.23,171.46" fill="rgb(58,58,64)"/>
<polygon points="289.40,171.65 290.61,167.49 293.56,170.44" fill="rgb(58,58,64)"/>
<line x1="304.94" y1="172.82" x2="300.81" y2="165.05" stroke="rgb(58,58,64)" stroke-width="1.25"/><polygon points="299.87,163.28 302.92,165.28 299.82,166.93" fill="rgb(58,58,64)"/>
<line x1="179.18" y1="181.37" x2="175.65" y2="176.51" stroke="rgb(58,58,64)" stroke-width="1.25"/><polygon points="174.47,174.90 177.78,176.45 174.93,178.52" fill="rgb(58,58,64)"/>
<line x1="193.18" y1="181.37" x2="191.02" y2="178.40" stroke="rgb(58,58,64)" stroke-width="1.25"/><polygon points="189.84,176.78 193.15,178.34 190.30,180.41" fill="rgb(58,58,64)"/>
<line x1="207.18" y1="181.37" x2="201.18" y2="173.12" stroke="rgb(58,58,64)" stroke-width="1.25"/><polygon points="200.00,171.50 203.31,173.05 200.46,175.12" fill="rgb(58,58,64)"/>
<line x1="221.18" y1="181.37" x2="215.18" y2="173.12" stroke="rgb(58,58,64)" stroke-width="1.25"/><polygon points="214.00,171.50 217.31,173.05 214.46,175.12" fill="rgb(58,58,64)"/>
<line x1="234.55" y1="181.67" x2="233.54" y2="178.15" stroke="rgb(58,58,64)" stroke-width="1.25"/><polygon points="232.99,176.23 235.56,178.82 232.18,179.79" fill="rgb(58,58,64)"/>
<line x1="248.55" y1="181.67" x2="246.90" y2="175.90" stroke="rgb(58,58,64)" stroke-width="1.25"/><polygon points="246.35,173.98 248.92,176.57 245.54,177.54" fill="rgb(58,58,64)"/>
<line x1="262.94" y1="181.52" x2="260.12" y2="176.22" stroke="rgb(58,58,64)" stroke-width="1.25"/><polygon points="259.18,174.45 262.24,176.45 259.13,178.10" fill="rgb(58,58,64)"/>
<line x1="276.94" y1="181.52" x2="275.22" y2="178.28" stroke="rgb(58,58,64)" stroke-width="1.25"/><polygon points="274.28,176.51 277.33,178.51 274.23,180.16" fill="rgb(58,58,64)"/>
<line x1="290.94" y1="181.52" x2="288.67" y2="177.25" stroke="rgb(58,58,64)" stroke-width="1.25"/><polygon points="287.73,175.48 290.79,177.48 287.68,179.13" fill="rgb(58,58,64)"/>
<line x1="304.94" y1="181.52" x2="300.81" y2="173.75" stroke="rgb(58,58,64)" stroke-width="1.25"/><polygon points="299.87,171.98 302.92,173.98 299.82,175.63" fill="rgb(58,58,64)"/>
<line x1="179.18" y1="190.07" x2="174.96" y2="184.27" stroke="rgb(58,58,64)" stroke-width="1.25"/><polygon points="173.79,182.65 177.09,184.21 174.24,186.28" fill="rgb(58,58,64)"/>
<line x1="193.18" y1="190.07" x2="190.33" y2="186.16" stroke="rgb(58,58,64)" stroke-width="1.25"/><polygon points="189.16,184.54 192.46,186.09 189.62,188.16" fill="rgb(58,58,64)"/>
<line x1="207.18" y1="190.07" x2="201.18" y2="181.82" stroke="rgb(58,58,64)" stroke-width="1.25"/><polygon points="200.00,180.20 203.31,181.75 200.46,183.82" fill="rgb(58,58,64)"/>
<line x1="221.18" y1="190.07" x2="214.22" y2="180.49" stroke="rgb(58,58,64)" stroke-width="1.25"/><polygon points="213.04,178.88 216.35,180.43 213.50,182.50" fill="rgb(58,58,64)"/>
<line x1="234.55" y1="190.37" x2="232.13" y2="181.91" stroke="rgb(58,58,64)" stroke-width="1.25"/><polygon points="231.57,179.99 234.15,182.58 230.76,183.55" fill="rgb(58,58,64)"/>
<line x1="248.55" y1="190.37" x2="245.74" y2="180.57" stroke="rgb(58,58,64)" stroke-width="1.25"/><polygon points="245.19,178.65 247.76,181.24 244.38,182.21" fill="rgb(58,58,64)"/>
<line x1="262.94" y1="190.22" x2="260.12" y2="184.92" stroke="rgb(58,58,64)" stroke-width="1.25"/><polygon points="259.18,183.15 262.24,185.15 259.13,186.80" fill="rgb(58,58,64)"/>
<line x1="276.94" y1="190.22" x2="272.15" y2="181.21" stroke="rgb(58,58,64)" stroke-width="1.25"/><polygon points="271.21,179.44 274.27,181.44 271.16,183.10" fill="rgb(58,58,64)"/>
<line x1="290.94" y1="190.22" x2="286.15" y2="181.21" stroke="rgb(58,58,64)" stroke-width="1.25"/><polygon points="285.21,179.44 288.27,181.44 285.16,183.10" fill="rgb(58,58,64)"/>
<line x1="304.94" y1="190.22" x2="300.81" y2="182.45" stroke="rgb(58,58,64)" stroke-width="1.25"/><polygon points="299.87,180.68 302.92,182.68 299.82,184.33" fill="rgb(58,58,64)"/>
<line x1="179.18" y1="198.77" x2="175.65" y2="193.91" stroke="rgb(58,58,64)" stroke-width="1.25"/><polygon points="174.47,192.30 177.78,193.85 174.93,195.92" fill="rgb(58,58,64)"/>
<line x1="193.18" y1="198.77" x2="189.65" y2="193.91" stroke="rgb(58,58,64)" stroke-width="1.25"/><polygon points="188.47,192.30 191.78,193.85 188.93,195.92" fill="rgb(58,58,64)"/>
<line x1="207.18" y1="198.77" x2="201.18" y2="190.52" stroke="rgb(58,58,64)" stroke-width="1.25"/><polygon points="200.00,188.90 203.31,190.45 200.46,192.52" fill="rgb(58,58,64)"/>
<line x1="221.18" y1="198.77" x2="212.71" y2="187.12" stroke="rgb(58,58,64)" stroke-width="1.25"/><polygon points="211.54,185.50 214.84,187.05 211.99,189.12" fill="rgb(58,58,64)"/>
<line x1="234.55" y1="199.07" x2="231.74" y2="189.27" stroke="rgb(58,58,64)" stroke-width="1.25"/><polygon points="231.19,187.35 233.76,189.94 230.38,190.91" fill="rgb(58,58,64)"/>
<line x1="248.55" y1="199.07" x2="245.74" y2="189.27" stroke="rgb(58,58,64)" stroke-width="1.25"/><polygon points="245.19,187.35 247.76,189.94 244.38,190.91" fill="rgb(58,58,64)"/>
<line x1="262.94" y1="198.92" x2="260.12" y2="193.62" stroke="rgb(58,58,64)" stroke-width="1.25"/><polygon points="259.18,191.85 262.24,193.85 259.13,195.50" fill="rgb(58,58,64)"/>
<line x1="276.94" y1="198.92" x2="272.81" y2="191.15" stroke="rgb(58,58,64)" stroke-width="1.25"/><polygon points="271.87,189.38 274.92,191.38 271.82,193.03" fill="rgb(58,58,64)"/>
<line x1="290.94" y1="198.92" x2="285.38" y2="188.47" stroke="rgb(58,58,64)" stroke-width="1.25"/><polygon points="284.44,186.70 287.50,188.70 284.39,190.35" fill="rgb(58,58,64)"/>
<line x1="304.94" y1="198.92" x2="300.15" y2="189.91" stroke="rgb(58,58,64)" stroke-width="1.25"/><polygon points="299.21,188.14 302.27,190.14 299.16,191.80" fill="rgb(58,58,64)"/>
<line x1="179.18" y1="207.47" x2="177.02" y2="204.50" stroke="rgb(58,58,64)" stroke-width="1.25"/><polygon points="175.84,202.88 179.15,204.44 176.30,206.51" fill="rgb(58,58,64)"/>
<line x1="193.18" y1="207.47" x2="187.18" y2="199.22" stroke="rgb(58,58,64)" stroke-width="1.25"/><polygon points="186.00,197.60 189.31,199.15 186.46,201.22" fill="rgb(58,58,64)"/>
<line x1="207.18" y1="207.47" x2="199.26" y2="196.57" stroke="rgb(58,58,64)" stroke-width="1.25"/><polygon points="198.08,194.96 201.39,196.51 198.54,198.58" fill="rgb(58,58,64)"/>
<line x1="221.18" y1="207.47" x2="210.79" y2="193.18" stroke="rgb(58,58,64)" stroke-width="1.25"/><polygon points="209.62,191.56 212.92,193.11 210.07,195.18" fill="rgb(58,58,64)"/>
<line x1="234.55" y1="207.77" x2="231.29" y2="196.40" stroke="rgb(58,58,64)" stroke-width="1.25"/><polygon points="230.74,194.48 233.31,197.07 229.93,198.04" fill="rgb(58,58,64)"/>
<line x1="248.55" y1="207.77" x2="245.74" y2="197.97" stroke="rgb(58,58,64)" stroke-width="1.25"/><polygon points="245.19,196.05 247.76,198.64 244.38,199.61" fill="rgb(58,58,64)"/>
<line x1="262.94" y1="207.62" x2="261.22" y2="204.38" stroke="rgb(58,58,64)" stroke-width="1.25"/><polygon points="260.28,202.61 263.33,204.61 260.23,206.26" fill="rgb(58,58,64)"/>
<line x1="276.94" y1="207.62" x2="274.12" y2="202.32" stroke="rgb(58,58,64)" stroke-width="1.25"/><polygon points="273.18,200.55 276.24,202.55 273.13,204.20" fill="rgb(58,58,64)"/>
<line x1="290.94" y1="207.62" x2="286.15" y2="198.61" stroke="rgb(58,58,64)" stroke-width="1.25"/><polygon points="285.21,196.84 288.27,198.84 285.16,200.50" fill="rgb(58,58,64)"/>
<line x1="304.94" y1="207.62" x2="300.15" y2="198.61" stroke="rgb(58,58,64)" stroke-width="1.25"/><polygon points="299.21,196.84 302.27,198.84 299.16,200.50" fill="rgb(58,58,64)"/>
<line x1="179.18" y1="216.17" x2="175.65" y2="211.31" stroke="rgb(58,58,64)" stroke-width="1.25"/><polygon points="174.47,209.70 177.78,211.25 174.93,213.32" fill="rgb(58,58,64)"/>
<line x1="193.18" y1="216.17" x2="185.26" y2="205.27" stroke="rgb(58,58,64)" stroke-width="1.25"/><polygon points="184.08,203.66 187.39,205.21 184.54,207.28" fill="rgb(58,58,64)"/>
<line x1="207.18" y1="216.17" x2="197.48" y2="202.82" stroke="rgb(58,58,64)" stroke-width="1.25"/><polygon points="196.30,201.20 199.61,202.76 196.76,204.82" fill="rgb(58,58,64)"/>
<line x1="221.18" y1="216.17" x2="209.97" y2="200.74" stroke="rgb(58,58,64)" stroke-width="1.25"/><polygon points="208.79,199.12 212.10,200.68 209.25,202.75" fill="rgb(58,58,64)"/>
<line x1="234.55" y1="216.47" x2="231.74" y2="206.67" stroke="rgb(58,58,64)" stroke-width="1.25"/><polygon points="231.19,204.75 233.76,207.34 230.38,208.31" fill="rgb(58,58,64)"/>
<line x1="248.55" y1="216.47" x2="245.74" y2="206.67" stroke="rgb(58,58,64)" stroke-width="1.25"/><polygon points="245.19,204.75 247.76,207.34 244.38,208.31" fill="rgb(58,58,64)"/>
<line x1="262.94" y1="216.32" x2="260.12" y2="211.02" stroke="rgb(58,58,64)" stroke-width="1.25"/><polygon points="259.18,209.25 262.24,211.25 259.13,212.90" fill="rgb(58,58,64)"/>
<polygon points="277.01,215.56 272.85,214.35 275.80,211.40" fill="rgb(58,58,64)"/>
<line x1="290.94" y1="216.32" x2="288.12" y2="211.02" stroke="rgb(58,58,64)" stroke-width="1.25"/><polygon points="287.18,209.25 290.24,211.25 287.13,212.90" fill="rgb(58,58,64)"/>
<line x1="304.94" y1="216.32" x2="302.12" y2="211.02" stroke="rgb(58,58,64)" stroke-width="1.25"/><polygon points="301.18,209.25 304.24,211.25 301.13,212.90" fill="rgb(58,58,64)"/>
<line x1="179.18" y1="224.87" x2="174.96" y2="219.07" stroke="rgb(58,58,64)" stroke-width="1.25"/><polygon points="173.79,217.45 177.09,219.01 174.24,221.08" fill="rgb(58,58,64)"/>
<line x1="193.18" y1="224.87" x2="184.16" y2="212.46" stroke="rgb(58,58,64)" stroke-width="1.25"/><polygon points="182.99,210.85 186.29,212.40 183.44,214.47" fill="rgb(58,58,64)"/>
<line x1="207.18" y1="224.87" x2="197.48" y2="211.52" stroke="rgb(58,58,64)" stroke-width="1.25"/><polygon points="196.30,209.90 199.61,211.46 196.76,213.52" fill="rgb(58,58,64)"/>
<line x1="221.18" y1="224.87" x2="209.97" y2="209.44" stroke="rgb(58,58,64)" stroke-width="1.25"/><polygon points="208.79,207.82 212.10,209.38 209.25,211.45" fill="rgb(58,58,64)"/>
<line x1="234.55" y1="225.17" x2="231.74" y2="215.37" stroke="rgb(58,58,64)" stroke-width="1.25"/><polygon points="231.19,213.45 233.76,216.04 230.38,217.01" fill="rgb(58,58,64)"/>
<line x1="248.55" y1="225.17" x2="245.74" y2="215.37" stroke="rgb(58,58,64)" stroke-width="1.25"/><polygon points="245.19,213.45 247.76,216.04 244.38,217.01" fill="rgb(58,58,64)"/>
<line x1="262.94" y1="225.02" x2="259.57" y2="218.69" stroke="rgb(58,58,64)" stroke-width="1.25"/><polygon points="258.64,216.92 261.69,218.92 258.58,220.57" fill="rgb(58,58,64)"/>
<line x1="276.94" y1="225.02" x2="274.12" y2="219.72" stroke="rgb(58,58,64)" stroke-width="1.25"/><polygon points="273.18,217.95 276.24,219.95 273.13,221.60" fill="rgb(58,58,64)"/>
<line x1="290.94" y1="225.02" x2="288.12" y2="219.72" stroke="rgb(58,58,64)" stroke-width="1.25"/><polygon points="287.18,217.95 290.24,219.95 287.13,221.60" fill="rgb(58,58,64)"/>
<line x1="304.94" y1="225.02" x2="300.81" y2="217.25" stroke="rgb(58,58,64)" stroke-width="1.25"/><polygon points="299.87,215.48 302.92,217.48 299.82,219.13" fill="rgb(58,58,64)"/>
<line x1="179.18" y1="233.57" x2="175.65" y2="228.71" stroke="rgb(58,58,64)" stroke-width="1.25"/><polygon points="174.47,227.10 177.78,228.65 174.93,230.72" fill="rgb(58,58,64)"/>
<line x1="193.18" y1="233.57" x2="187.18" y2="225.32" stroke="rgb(58,58,64)" stroke-width="1.25"/><polygon points="186.00,223.70 189.31,225.25 186.46,227.32" fill="rgb(58,58,64)"/>
<line x1="207.18" y1="233.57" x2="199.26" y2="222.67" stroke="rgb(58,58,64)" stroke-width="1.25"/><polygon points="198.08,221.06 201.39,222.61 198.54,224.68" fill="rgb(58,58,64)"/>
<line x1="221.18" y1="233.57" x2="212.16" y2="221.16" stroke="rgb(58,58,64)" stroke-width="1.25"/><polygon points="210.99,219.55 214.29,221.10 211.44,223.17" fill="rgb(58,58,64)"/>
<line x1="234.55" y1="233.87" x2="231.74" y2="224.07" stroke="rgb(58,58,64)" stroke-width="1.25"/><polygon points="231.19,222.15 233.76,224.74 230.38,225.71" fill="rgb(58,58,64)"/>
<line x1="248.55" y1="233.87" x2="246.13" y2="225.41" stroke="rgb(58,58,64)" stroke-width="1.25"/><polygon points="245.57,223.49 248.15,226.08 244.76,227.05" fill="rgb(58,58,64)"/>
<line x1="262.94" y1="233.72" x2="258.81" y2="225.95" stroke="rgb(58,58,64)" stroke-width="1.25"/><polygon points="257.87,224.18 260.92,226.18 257.82,227.83" fill="rgb(58,58,64)"/>
<line x1="276.94" y1="233.72" x2="274.12" y2="228.42" stroke="rgb(58,58,64)" stroke-width="1.25"/><polygon points="273.18,226.65 276.24,228.65 273.13,230.30" fill="rgb(58,58,64)"/>
<line x1="290.94" y1="233.72" x2="288.67" y2="229.45" stroke="rgb(58,58,64)" stroke-width="1.25"/><polygon points="287.73,227.68 290.79,229.68 287.68,231.33" fill="rgb(58,58,64)"/>
<line x1="304.94" y1="233.72" x2="302.12" y2="228.42" stroke="rgb(58,58,64)" stroke-width="1.25"/><polygon points="301.18,226.65 304.24,228.65 301.13,230.30" fill="rgb(58,58,64)"/>
<rect x="345.50" y="158.00" width="14.00" height="8.70" fill="rgb(255,160,0)"/>
<rect x="359.50" y="158.00" width="14.00" height="8.70" fill="rgb(0,110,235)"/>
<rect x="373.50" y="158.00" width="14.00" height="8.70" fill="rgb(22,232,92)"/>
<rect x="345.50" y="166.70" width="14.00" height="8.70" fill="rgb(250,242,0)"/>
<rect x="359.50" y="166.70" width="14.00" height="8.70" fill="rgb(0,60,233)"/>
<rect x="373.50" y="166.70" width="14.00" height="8.70" fill="rgb(0,110,235)"/>
<rect x="345.50" y="175.40" width="14.00" height="8.70" fill="rgb(90,238,30)"/>
<rect x="359.50" y="175.40" width="14.00" height="8.70" fill="rgb(0,60,233)"/>
<rect x="373.50" y="175.40" width="14.00" height="8.70" fill="rgb(0,20,210)"/>
<rect x="345.50" y="184.10" width="14.00" height="8.70" fill="rgb(90,238,30)"/>
<rect x="359.50" y="184.10" width="14.00" height="8.70" fill="rgb(0,110,235)"/>
<rect x="373.50" y="184.10" width="14.00" height="8.70" fill="rgb(0,60,233)"/>
<rect x="345.50" y="192.80" width="14.00" height="8.70" fill="rgb(250,242,0)"/>
<rect x="359.50" y="192.80" width="14.00" height="8.70" fill="rgb(0,200,140)"/>
<rect x="373.50" y="192.80" width="14.00" height="8.70" fill="rgb(0,200,140)"/>
<rect x="345.50" y="201.50" width="14.00" height="8.70" fill="rgb(250,242,0)"/>
<rect x="359.50" y="201.50" width="14.00" height="8.70" fill="rgb(22,232,92)"/>
<rect x="373.50" y="201.50" width="14.00" height="8.70" fill="rgb(0,60,233)"/>
<rect x="345.50" y="210.20" width="14.00" height="8.70" fill="rgb(190,245,0)"/>
<rect x="359.50" y="210.20" width="14.00" height="8.70" fill="rgb(22,232,92)"/>
<rect x="373.50" y="210.20" width="14.00" height="8.70" fill="rgb(0,110,235)"/>
<rect x="345.50" y="218.90" width="14.00" height="8.70" fill="rgb(190,245,0)"/>
<rect x="359.50" y="218.90" width="14.00" height="8.70" fill="rgb(190,245,0)"/>
<rect x="373.50" y="218.90" width="14.00" height="8.70" fill="rgb(22,232,92)"/>
<rect x="345.50" y="227.60" width="14.00" height="8.70" fill="rgb(250,242,0)"/>
<rect x="359.50" y="227.60" width="14.00" height="8.70" fill="rgb(190,245,0)"/>
<rect x="373.50" y="227.60" width="14.00" height="8.70" fill="rgb(90,238,30)"/>
<path d="M345.50 158.00V236.30M359.50 158.00V236.30M373.50 158.00V236.30M387.50 158.00V236.30M345.50 158.00H387.50M345.50 166.70H387.50M345.50 175.40H387.50M345.50 184.10H387.50M345.50 192.80H387.50M345.50 201.50H387.50M345.50 210.20H387.50M345.50 218.90H387.50M345.50 227.60H387.50M345.50 236.30H387.50" stroke="#000" stroke-width="1.2" fill="none"/>
<path d="M345.50 162.35h-3.60M387.50 162.35h3.60M345.50 171.05h-2.00M387.50 171.05h2.00M345.50 179.75h-3.60M387.50 179.75h3.60M345.50 188.45h-2.00M387.50 188.45h2.00M345.50 197.15h-3.60M387.50 197.15h3.60M345.50 205.85h-2.00M387.50 205.85h2.00M345.50 214.55h-3.60M387.50 214.55h3.60M345.50 223.25h-2.00M387.50 223.25h2.00M345.50 231.95h-3.60M387.50 231.95h3.60M352.50 158.00v-3.60M352.50 236.30v3.60M366.50 158.00v-2.00M366.50 236.30v2.00M380.50 158.00v-3.60M380.50 236.30v3.60" stroke="#333" stroke-width="0.9" fill="none"/>
<text x="340.50" y="166.85" text-anchor="end" font-size="12">&#8722;15</text>
<text x="340.50" y="184.25" text-anchor="end" font-size="12">&#8722;10</text>
<text x="340.50" y="201.65" text-anchor="end" font-size="12">&#8722;5</text>
<text x="340.50" y="219.05" text-anchor="end" font-size="12">0</text>
<text x="340.50" y="236.45" text-anchor="end" font-size="12">5</text>
<text x="352.50" y="250.30" text-anchor="middle" font-size="12">&#8722;8</text>
<text x="380.50" y="250.30" text-anchor="middle" font-size="12">0</text>
<line x1="353.50" y1="164.08" x2="346.77" y2="152.42" stroke="rgb(58,58,64)" stroke-width="1.25"/><polygon points="345.77,150.69 348.89,152.58 345.84,154.34" fill="rgb(58,58,64)"/>
<line x1="365.09" y1="160.94" x2="366.85" y2="162.70" stroke="rgb(58,58,64)" stroke-width="1.25"/><polygon points="368.27,164.12 364.76,163.10 367.25,160.61" fill="rgb(58,58,64)"/>
<line x1="380.92" y1="164.31" x2="379.67" y2="158.44" stroke="rgb(58,58,64)" stroke-width="1.25"/><polygon points="379.25,156.48 381.64,159.25 378.20,159.98" fill="rgb(58,58,64)"/>
<line x1="353.50" y1="172.78" x2="348.40" y2="163.95" stroke="rgb(58,58,64)" stroke-width="1.25"/><polygon points="347.40,162.22 350.52,164.11 347.48,165.87" fill="rgb(58,58,64)"/>
<polygon points="365.07,171.05 368.87,168.96 368.87,173.14" fill="rgb(58,58,64)"/>
<line x1="381.91" y1="172.46" x2="380.15" y2="170.70" stroke="rgb(58,58,64)" stroke-width="1.25"/><polygon points="378.73,169.28 382.24,170.30 379.75,172.79" fill="rgb(58,58,64)"/>
<line x1="353.50" y1="181.48" x2="349.92" y2="175.28" stroke="rgb(58,58,64)" stroke-width="1.25"/><polygon points="348.92,173.54 352.04,175.43 348.99,177.19" fill="rgb(58,58,64)"/>
<polygon points="367.51,178.74 366.30,182.90 363.35,179.95" fill="rgb(58,58,64)"/>
<polygon points="381.35,179.75 377.55,181.84 377.55,177.66" fill="rgb(58,58,64)"/>
<line x1="353.50" y1="190.18" x2="349.92" y2="183.98" stroke="rgb(58,58,64)" stroke-width="1.25"/><polygon points="348.92,182.24 352.04,184.13 348.99,185.89" fill="rgb(58,58,64)"/>
<line x1="366.50" y1="186.45" x2="366.50" y2="188.95" stroke="rgb(58,58,64)" stroke-width="1.25"/><polygon points="366.50,190.95 364.74,187.75 368.26,187.75" fill="rgb(58,58,64)"/>
<polygon points="379.49,189.46 380.70,185.30 383.65,188.25" fill="rgb(58,58,64)"/>
<line x1="353.50" y1="198.88" x2="348.40" y2="190.05" stroke="rgb(58,58,64)" stroke-width="1.25"/><polygon points="347.40,188.32 350.52,190.21 347.48,191.97" fill="rgb(58,58,64)"/>
<line x1="366.92" y1="199.11" x2="365.91" y2="194.38" stroke="rgb(58,58,64)" stroke-width="1.25"/><polygon points="365.50,192.42 367.88,195.19 364.44,195.92" fill="rgb(58,58,64)"/>
<line x1="380.92" y1="199.11" x2="379.91" y2="194.38" stroke="rgb(58,58,64)" stroke-width="1.25"/><polygon points="379.50,192.42 381.88,195.19 378.44,195.92" fill="rgb(58,58,64)"/>
<line x1="353.50" y1="207.58" x2="348.40" y2="198.75" stroke="rgb(58,58,64)" stroke-width="1.25"/><polygon points="347.40,197.02 350.52,198.91 347.48,200.67" fill="rgb(58,58,64)"/>
<line x1="366.92" y1="207.81" x2="365.67" y2="201.94" stroke="rgb(58,58,64)" stroke-width="1.25"/><polygon points="365.25,199.98 367.64,202.75 364.20,203.48" fill="rgb(58,58,64)"/>
<polygon points="381.51,206.86 377.35,205.65 380.30,202.70" fill="rgb(58,58,64)"/>
<line x1="353.50" y1="216.28" x2="349.10" y2="208.66" stroke="rgb(58,58,64)" stroke-width="1.25"/><polygon points="348.10,206.93 351.22,208.82 348.18,210.58" fill="rgb(58,58,64)"/>
<line x1="366.92" y1="216.51" x2="365.67" y2="210.64" stroke="rgb(58,58,64)" stroke-width="1.25"/><polygon points="365.25,208.68 367.64,211.45 364.20,212.18" fill="rgb(58,58,64)"/>
<line x1="382.50" y1="214.55" x2="380.00" y2="214.55" stroke="rgb(58,58,64)" stroke-width="1.25"/><polygon points="378.00,214.55 381.20,212.79 381.20,216.31" fill="rgb(58,58,64)"/>
<line x1="353.50" y1="224.98" x2="349.10" y2="217.36" stroke="rgb(58,58,64)" stroke-width="1.25"/><polygon points="348.10,215.63 351.22,217.52 348.18,219.28" fill="rgb(58,58,64)"/>
<line x1="366.92" y1="225.21" x2="365.09" y2="216.60" stroke="rgb(58,58,64)" stroke-width="1.25"/><polygon points="364.67,214.64 367.06,217.41 363.61,218.14" fill="rgb(58,58,64)"/>
<line x1="380.92" y1="225.21" x2="379.67" y2="219.34" stroke="rgb(58,58,64)" stroke-width="1.25"/><polygon points="379.25,217.38 381.64,220.15 378.20,220.88" fill="rgb(58,58,64)"/>
<line x1="353.50" y1="233.68" x2="348.40" y2="224.85" stroke="rgb(58,58,64)" stroke-width="1.25"/><polygon points="347.40,223.12 350.52,225.01 347.48,226.77" fill="rgb(58,58,64)"/>
<line x1="366.92" y1="233.91" x2="365.09" y2="225.30" stroke="rgb(58,58,64)" stroke-width="1.25"/><polygon points="364.67,223.34 367.06,226.11 363.61,226.84" fill="rgb(58,58,64)"/>
<line x1="380.92" y1="233.91" x2="379.43" y2="226.90" stroke="rgb(58,58,64)" stroke-width="1.25"/><polygon points="379.01,224.94 381.40,227.70 377.95,228.44" fill="rgb(58,58,64)"/>
<rect x="422.00" y="158.00" width="14.00" height="8.70" fill="rgb(22,232,92)"/>
<rect x="436.00" y="158.00" width="14.00" height="8.70" fill="rgb(22,232,92)"/>
<rect x="450.00" y="158.00" width="14.00" height="8.70" fill="rgb(0,20,210)"/>
<rect x="464.00" y="158.00" width="14.00" height="8.70" fill="rgb(0,60,233)"/>
<rect x="478.00" y="158.00" width="14.00" height="8.70" fill="rgb(0,60,233)"/>
<rect x="492.00" y="158.00" width="14.00" height="8.70" fill="rgb(0,60,233)"/>
<rect x="506.00" y="158.00" width="14.00" height="8.70" fill="rgb(190,245,0)"/>
<rect x="422.00" y="166.70" width="14.00" height="8.70" fill="rgb(22,232,92)"/>
<rect x="436.00" y="166.70" width="14.00" height="8.70" fill="rgb(22,232,92)"/>
<rect x="450.00" y="166.70" width="14.00" height="8.70" fill="rgb(0,60,233)"/>
<rect x="464.00" y="166.70" width="14.00" height="8.70" fill="rgb(0,110,235)"/>
<rect x="478.00" y="166.70" width="14.00" height="8.70" fill="rgb(0,110,235)"/>
<rect x="492.00" y="166.70" width="14.00" height="8.70" fill="rgb(0,20,210)"/>
<rect x="506.00" y="166.70" width="14.00" height="8.70" fill="rgb(22,232,92)"/>
<rect x="422.00" y="175.40" width="14.00" height="8.70" fill="rgb(0,165,180)"/>
<rect x="436.00" y="175.40" width="14.00" height="8.70" fill="rgb(0,20,210)"/>
<rect x="450.00" y="175.40" width="14.00" height="8.70" fill="rgb(0,20,210)"/>
<rect x="464.00" y="175.40" width="14.00" height="8.70" fill="rgb(0,60,233)"/>
<rect x="478.00" y="175.40" width="14.00" height="8.70" fill="rgb(0,200,140)"/>
<rect x="492.00" y="175.40" width="14.00" height="8.70" fill="rgb(0,60,233)"/>
<rect x="506.00" y="175.40" width="14.00" height="8.70" fill="rgb(22,232,92)"/>
<rect x="422.00" y="184.10" width="14.00" height="8.70" fill="rgb(190,245,0)"/>
<rect x="436.00" y="184.10" width="14.00" height="8.70" fill="rgb(22,232,92)"/>
<rect x="450.00" y="184.10" width="14.00" height="8.70" fill="rgb(0,165,180)"/>
<rect x="464.00" y="184.10" width="14.00" height="8.70" fill="rgb(0,60,233)"/>
<rect x="478.00" y="184.10" width="14.00" height="8.70" fill="rgb(22,232,92)"/>
<rect x="492.00" y="184.10" width="14.00" height="8.70" fill="rgb(22,232,92)"/>
<rect x="506.00" y="184.10" width="14.00" height="8.70" fill="rgb(22,232,92)"/>
<rect x="422.00" y="192.80" width="14.00" height="8.70" fill="rgb(190,245,0)"/>
<rect x="436.00" y="192.80" width="14.00" height="8.70" fill="rgb(90,238,30)"/>
<rect x="450.00" y="192.80" width="14.00" height="8.70" fill="rgb(22,232,92)"/>
<rect x="464.00" y="192.80" width="14.00" height="8.70" fill="rgb(0,110,235)"/>
<rect x="478.00" y="192.80" width="14.00" height="8.70" fill="rgb(22,232,92)"/>
<rect x="492.00" y="192.80" width="14.00" height="8.70" fill="rgb(22,232,92)"/>
<rect x="506.00" y="192.80" width="14.00" height="8.70" fill="rgb(22,232,92)"/>
<rect x="422.00" y="201.50" width="14.00" height="8.70" fill="rgb(255,212,0)"/>
<rect x="436.00" y="201.50" width="14.00" height="8.70" fill="rgb(250,242,0)"/>
<rect x="450.00" y="201.50" width="14.00" height="8.70" fill="rgb(90,238,30)"/>
<rect x="464.00" y="201.50" width="14.00" height="8.70" fill="rgb(0,200,140)"/>
<rect x="478.00" y="201.50" width="14.00" height="8.70" fill="rgb(0,165,180)"/>
<rect x="492.00" y="201.50" width="14.00" height="8.70" fill="rgb(0,200,140)"/>
<rect x="506.00" y="201.50" width="14.00" height="8.70" fill="rgb(22,232,92)"/>
<rect x="422.00" y="210.20" width="14.00" height="8.70" fill="rgb(250,242,0)"/>
<rect x="436.00" y="210.20" width="14.00" height="8.70" fill="rgb(250,242,0)"/>
<rect x="450.00" y="210.20" width="14.00" height="8.70" fill="rgb(250,242,0)"/>
<rect x="464.00" y="210.20" width="14.00" height="8.70" fill="rgb(22,232,92)"/>
<rect x="478.00" y="210.20" width="14.00" height="8.70" fill="rgb(0,60,233)"/>
<rect x="492.00" y="210.20" width="14.00" height="8.70" fill="rgb(0,165,180)"/>
<rect x="506.00" y="210.20" width="14.00" height="8.70" fill="rgb(22,232,92)"/>
<rect x="422.00" y="218.90" width="14.00" height="8.70" fill="rgb(250,242,0)"/>
<rect x="436.00" y="218.90" width="14.00" height="8.70" fill="rgb(250,242,0)"/>
<rect x="450.00" y="218.90" width="14.00" height="8.70" fill="rgb(250,242,0)"/>
<rect x="464.00" y="218.90" width="14.00" height="8.70" fill="rgb(22,232,92)"/>
<rect x="478.00" y="218.90" width="14.00" height="8.70" fill="rgb(0,110,235)"/>
<rect x="492.00" y="218.90" width="14.00" height="8.70" fill="rgb(0,165,180)"/>
<rect x="506.00" y="218.90" width="14.00" height="8.70" fill="rgb(190,245,0)"/>
<rect x="422.00" y="227.60" width="14.00" height="8.70" fill="rgb(250,242,0)"/>
<rect x="436.00" y="227.60" width="14.00" height="8.70" fill="rgb(250,242,0)"/>
<rect x="450.00" y="227.60" width="14.00" height="8.70" fill="rgb(90,238,30)"/>
<rect x="464.00" y="227.60" width="14.00" height="8.70" fill="rgb(0,110,235)"/>
<rect x="478.00" y="227.60" width="14.00" height="8.70" fill="rgb(0,60,233)"/>
<rect x="492.00" y="227.60" width="14.00" height="8.70" fill="rgb(0,165,180)"/>
<rect x="506.00" y="227.60" width="14.00" height="8.70" fill="rgb(90,238,30)"/>
<path d="M422.00 158.00V236.30M436.00 158.00V236.30M450.00 158.00V236.30M464.00 158.00V236.30M478.00 158.00V236.30M492.00 158.00V236.30M506.00 158.00V236.30M520.00 158.00V236.30M422.00 158.00H520.00M422.00 166.70H520.00M422.00 175.40H520.00M422.00 184.10H520.00M422.00 192.80H520.00M422.00 201.50H520.00M422.00 210.20H520.00M422.00 218.90H520.00M422.00 227.60H520.00M422.00 236.30H520.00" stroke="#000" stroke-width="1.2" fill="none"/>
<path d="M422.00 162.35h-3.60M520.00 162.35h3.60M422.00 171.05h-2.00M520.00 171.05h2.00M422.00 179.75h-3.60M520.00 179.75h3.60M422.00 188.45h-2.00M520.00 188.45h2.00M422.00 197.15h-3.60M520.00 197.15h3.60M422.00 205.85h-2.00M520.00 205.85h2.00M422.00 214.55h-3.60M520.00 214.55h3.60M422.00 223.25h-2.00M520.00 223.25h2.00M422.00 231.95h-3.60M520.00 231.95h3.60M429.00 158.00v-3.60M429.00 236.30v3.60M443.00 158.00v-2.00M443.00 236.30v2.00M457.00 158.00v-3.60M457.00 236.30v3.60M471.00 158.00v-2.00M471.00 236.30v2.00M485.00 158.00v-3.60M485.00 236.30v3.60M499.00 158.00v-2.00M499.00 236.30v2.00M513.00 158.00v-3.60M513.00 236.30v3.60" stroke="#333" stroke-width="0.9" fill="none"/>
<text x="417.00" y="166.85" text-anchor="end" font-size="12">&#8722;15</text>
<text x="417.00" y="184.25" text-anchor="end" font-size="12">&#8722;10</text>
<text x="417.00" y="201.65" text-anchor="end" font-size="12">&#8722;5</text>
<text x="417.00" y="219.05" text-anchor="end" font-size="12">0</text>
<text x="417.00" y="236.45" text-anchor="end" font-size="12">5</text>
<text x="429.00" y="250.30" text-anchor="middle" font-size="12">0</text>
<text x="457.00" y="250.30" text-anchor="middle" font-size="12">8</text>
<text x="485.00" y="250.30" text-anchor="middle" font-size="12">16</text>
<text x="513.00" y="250.30" text-anchor="middle" font-size="12">24</text>
<line x1="429.85" y1="164.16" x2="427.31" y2="158.72" stroke="rgb(58,58,64)" stroke-width="1.25"/><polygon points="426.46,156.91 429.41,159.07 426.22,160.56" fill="rgb(58,58,64)"/>
<line x1="443.85" y1="164.16" x2="441.31" y2="158.72" stroke="rgb(58,58,64)" stroke-width="1.25"/><polygon points="440.46,156.91 443.41,159.07 440.22,160.56" fill="rgb(58,58,64)"/>
<polygon points="457.00,163.20 454.91,159.40 459.09,159.40" fill="rgb(58,58,64)"/>
<polygon points="469.99,163.36 471.20,159.20 474.15,162.15" fill="rgb(58,58,64)"/>
<polygon points="483.57,162.35 487.37,160.26 487.37,164.44" fill="rgb(58,58,64)"/>
<polygon points="497.99,161.34 502.15,162.55 499.20,165.50" fill="rgb(58,58,64)"/>
<line x1="513.42" y1="164.31" x2="511.59" y2="155.70" stroke="rgb(58,58,64)" stroke-width="1.25"/><polygon points="511.17,153.74 513.56,156.51 510.11,157.24" fill="rgb(58,58,64)"/>
<line x1="429.85" y1="172.86" x2="427.31" y2="167.42" stroke="rgb(58,58,64)" stroke-width="1.25"/><polygon points="426.46,165.61 429.41,167.77 426.22,169.26" fill="rgb(58,58,64)"/>
<line x1="443.85" y1="172.86" x2="441.31" y2="167.42" stroke="rgb(58,58,64)" stroke-width="1.25"/><polygon points="440.46,165.61 443.41,167.77 440.22,169.26" fill="rgb(58,58,64)"/>
<polygon points="455.99,170.04 460.15,171.25 457.20,174.20" fill="rgb(58,58,64)"/>
<line x1="471.00" y1="173.05" x2="471.00" y2="170.55" stroke="rgb(58,58,64)" stroke-width="1.25"/><polygon points="471.00,168.55 472.76,171.75 469.24,171.75" fill="rgb(58,58,64)"/>
<line x1="483.59" y1="172.46" x2="485.35" y2="170.70" stroke="rgb(58,58,64)" stroke-width="1.25"/><polygon points="486.77,169.28 485.75,172.79 483.26,170.30" fill="rgb(58,58,64)"/>
<polygon points="499.85,171.05 496.05,173.14 496.05,168.96" fill="rgb(58,58,64)"/>
<line x1="513.42" y1="173.01" x2="512.17" y2="167.14" stroke="rgb(58,58,64)" stroke-width="1.25"/><polygon points="511.75,165.18 514.14,167.95 510.70,168.68" fill="rgb(58,58,64)"/>
<line x1="429.85" y1="181.56" x2="428.30" y2="178.24" stroke="rgb(58,58,64)" stroke-width="1.25"/><polygon points="427.45,176.43 430.40,178.58 427.21,180.07" fill="rgb(58,58,64)"/>
<polygon points="443.60,179.15 442.39,183.31 439.44,180.36" fill="rgb(58,58,64)"/>
<polygon points="457.85,179.75 454.05,181.84 454.05,177.66" fill="rgb(58,58,64)"/>
<polygon points="472.01,180.76 467.85,179.55 470.80,176.60" fill="rgb(58,58,64)"/>
<line x1="485.42" y1="181.71" x2="484.41" y2="176.98" stroke="rgb(58,58,64)" stroke-width="1.25"/><polygon points="484.00,175.02 486.38,177.79 482.94,178.52" fill="rgb(58,58,64)"/>
<polygon points="497.99,180.76 499.20,176.60 502.15,179.55" fill="rgb(58,58,64)"/>
<line x1="513.42" y1="181.71" x2="512.17" y2="175.84" stroke="rgb(58,58,64)" stroke-width="1.25"/><polygon points="511.75,173.88 514.14,176.65 510.70,177.38" fill="rgb(58,58,64)"/>
<line x1="429.85" y1="190.26" x2="426.13" y2="182.29" stroke="rgb(58,58,64)" stroke-width="1.25"/><polygon points="425.28,180.47 428.23,182.63 425.04,184.12" fill="rgb(58,58,64)"/>
<line x1="443.85" y1="190.26" x2="441.31" y2="184.82" stroke="rgb(58,58,64)" stroke-width="1.25"/><polygon points="440.46,183.01 443.41,185.17 440.22,186.66" fill="rgb(58,58,64)"/>
<line x1="457.42" y1="190.41" x2="456.65" y2="186.82" stroke="rgb(58,58,64)" stroke-width="1.25"/><polygon points="456.24,184.86 458.62,187.63 455.18,188.36" fill="rgb(58,58,64)"/>
<polygon points="469.57,188.45 473.37,186.36 473.37,190.54" fill="rgb(58,58,64)"/>
<line x1="485.42" y1="190.41" x2="484.17" y2="184.54" stroke="rgb(58,58,64)" stroke-width="1.25"/><polygon points="483.75,182.58 486.14,185.35 482.70,186.08" fill="rgb(58,58,64)"/>
<line x1="499.42" y1="190.41" x2="498.17" y2="184.54" stroke="rgb(58,58,64)" stroke-width="1.25"/><polygon points="497.75,182.58 500.14,185.35 496.70,186.08" fill="rgb(58,58,64)"/>
<line x1="513.42" y1="190.41" x2="512.17" y2="184.54" stroke="rgb(58,58,64)" stroke-width="1.25"/><polygon points="511.75,182.58 514.14,185.35 510.70,186.08" fill="rgb(58,58,64)"/>
<line x1="429.85" y1="198.96" x2="426.13" y2="190.99" stroke="rgb(58,58,64)" stroke-width="1.25"/><polygon points="425.28,189.17 428.23,191.33 425.04,192.82" fill="rgb(58,58,64)"/>
<line x1="443.85" y1="198.96" x2="440.82" y2="192.47" stroke="rgb(58,58,64)" stroke-width="1.25"/><polygon points="439.97,190.65 442.92,192.81 439.73,194.30" fill="rgb(58,58,64)"/>
<line x1="457.42" y1="199.11" x2="456.17" y2="193.24" stroke="rgb(58,58,64)" stroke-width="1.25"/><polygon points="455.75,191.28 458.14,194.05 454.70,194.78" fill="rgb(58,58,64)"/>
<line x1="469.59" y1="198.56" x2="471.35" y2="196.80" stroke="rgb(58,58,64)" stroke-width="1.25"/><polygon points="472.77,195.38 471.75,198.89 469.26,196.40" fill="rgb(58,58,64)"/>
<line x1="485.42" y1="199.11" x2="484.17" y2="193.24" stroke="rgb(58,58,64)" stroke-width="1.25"/><polygon points="483.75,191.28 486.14,194.05 482.70,194.78" fill="rgb(58,58,64)"/>
<line x1="499.42" y1="199.11" x2="498.17" y2="193.24" stroke="rgb(58,58,64)" stroke-width="1.25"/><polygon points="497.75,191.28 500.14,194.05 496.70,194.78" fill="rgb(58,58,64)"/>
<line x1="513.42" y1="199.11" x2="512.17" y2="193.24" stroke="rgb(58,58,64)" stroke-width="1.25"/><polygon points="511.75,191.28 514.14,194.05 510.70,194.78" fill="rgb(58,58,64)"/>
<line x1="429.85" y1="207.66" x2="424.84" y2="196.94" stroke="rgb(58,58,64)" stroke-width="1.25"/><polygon points="424.00,195.13 426.95,197.28 423.76,198.77" fill="rgb(58,58,64)"/>
<line x1="443.85" y1="207.66" x2="439.53" y2="198.42" stroke="rgb(58,58,64)" stroke-width="1.25"/><polygon points="438.69,196.61 441.64,198.76 438.45,200.25" fill="rgb(58,58,64)"/>
<line x1="457.42" y1="207.81" x2="455.93" y2="200.80" stroke="rgb(58,58,64)" stroke-width="1.25"/><polygon points="455.51,198.84 457.90,201.60 454.45,202.34" fill="rgb(58,58,64)"/>
<line x1="471.42" y1="207.81" x2="470.41" y2="203.08" stroke="rgb(58,58,64)" stroke-width="1.25"/><polygon points="470.00,201.12 472.38,203.89 468.94,204.62" fill="rgb(58,58,64)"/>
<line x1="485.42" y1="207.81" x2="484.65" y2="204.22" stroke="rgb(58,58,64)" stroke-width="1.25"/><polygon points="484.24,202.26 486.62,205.03 483.18,205.76" fill="rgb(58,58,64)"/>
<line x1="499.42" y1="207.81" x2="498.41" y2="203.08" stroke="rgb(58,58,64)" stroke-width="1.25"/><polygon points="498.00,201.12 500.38,203.89 496.94,204.62" fill="rgb(58,58,64)"/>
<line x1="513.42" y1="207.81" x2="512.17" y2="201.94" stroke="rgb(58,58,64)" stroke-width="1.25"/><polygon points="511.75,199.98 514.14,202.75 510.70,203.48" fill="rgb(58,58,64)"/>
<line x1="429.85" y1="216.36" x2="425.53" y2="207.12" stroke="rgb(58,58,64)" stroke-width="1.25"/><polygon points="424.69,205.31 427.64,207.46 424.45,208.95" fill="rgb(58,58,64)"/>
<line x1="443.85" y1="216.36" x2="439.53" y2="207.12" stroke="rgb(58,58,64)" stroke-width="1.25"/><polygon points="438.69,205.31 441.64,207.46 438.45,208.95" fill="rgb(58,58,64)"/>
<line x1="457.42" y1="216.51" x2="455.30" y2="206.53" stroke="rgb(58,58,64)" stroke-width="1.25"/><polygon points="454.88,204.57 457.27,207.34 453.82,208.07" fill="rgb(58,58,64)"/>
<line x1="471.42" y1="216.51" x2="470.17" y2="210.64" stroke="rgb(58,58,64)" stroke-width="1.25"/><polygon points="469.75,208.68 472.14,211.45 468.70,212.18" fill="rgb(58,58,64)"/>
<polygon points="485.00,213.12 487.09,216.92 482.91,216.92" fill="rgb(58,58,64)"/>
<line x1="499.42" y1="216.51" x2="498.65" y2="212.92" stroke="rgb(58,58,64)" stroke-width="1.25"/><polygon points="498.24,210.96 500.62,213.73 497.18,214.46" fill="rgb(58,58,64)"/>
<line x1="513.42" y1="216.51" x2="512.17" y2="210.64" stroke="rgb(58,58,64)" stroke-width="1.25"/><polygon points="511.75,208.68 514.14,211.45 510.70,212.18" fill="rgb(58,58,64)"/>
<line x1="429.85" y1="225.06" x2="425.53" y2="215.82" stroke="rgb(58,58,64)" stroke-width="1.25"/><polygon points="424.69,214.01 427.64,216.16 424.45,217.65" fill="rgb(58,58,64)"/>
<line x1="443.85" y1="225.06" x2="439.53" y2="215.82" stroke="rgb(58,58,64)" stroke-width="1.25"/><polygon points="438.69,214.01 441.64,216.16 438.45,217.65" fill="rgb(58,58,64)"/>
<line x1="457.42" y1="225.21" x2="455.30" y2="215.23" stroke="rgb(58,58,64)" stroke-width="1.25"/><polygon points="454.88,213.27 457.27,216.04 453.82,216.77" fill="rgb(58,58,64)"/>
<line x1="471.42" y1="225.21" x2="470.17" y2="219.34" stroke="rgb(58,58,64)" stroke-width="1.25"/><polygon points="469.75,217.38 472.14,220.15 468.70,220.88" fill="rgb(58,58,64)"/>
<line x1="483.59" y1="221.84" x2="485.35" y2="223.60" stroke="rgb(58,58,64)" stroke-width="1.25"/><polygon points="486.77,225.02 483.26,224.00 485.75,221.51" fill="rgb(58,58,64)"/>
<line x1="499.42" y1="225.21" x2="498.65" y2="221.62" stroke="rgb(58,58,64)" stroke-width="1.25"/><polygon points="498.24,219.66 500.62,222.43 497.18,223.16" fill="rgb(58,58,64)"/>
<line x1="513.42" y1="225.21" x2="511.59" y2="216.60" stroke="rgb(58,58,64)" stroke-width="1.25"/><polygon points="511.17,214.64 513.56,217.41 510.11,218.14" fill="rgb(58,58,64)"/>
<line x1="429.85" y1="233.76" x2="425.53" y2="224.52" stroke="rgb(58,58,64)" stroke-width="1.25"/><polygon points="424.69,222.71 427.64,224.86 424.45,226.35" fill="rgb(58,58,64)"/>
<line x1="443.85" y1="233.76" x2="439.53" y2="224.52" stroke="rgb(58,58,64)" stroke-width="1.25"/><polygon points="438.69,222.71 441.64,224.86 438.45,226.35" fill="rgb(58,58,64)"/>
<line x1="457.42" y1="233.91" x2="455.93" y2="226.90" stroke="rgb(58,58,64)" stroke-width="1.25"/><polygon points="455.51,224.94 457.90,227.70 454.45,228.44" fill="rgb(58,58,64)"/>
<line x1="472.41" y1="230.54" x2="470.65" y2="232.30" stroke="rgb(58,58,64)" stroke-width="1.25"/><polygon points="469.23,233.72 470.25,230.21 472.74,232.70" fill="rgb(58,58,64)"/>
<polygon points="483.57,231.95 487.37,229.86 487.37,234.04" fill="rgb(58,58,64)"/>
<line x1="499.42" y1="233.91" x2="498.65" y2="230.32" stroke="rgb(58,58,64)" stroke-width="1.25"/><polygon points="498.24,228.36 500.62,231.13 497.18,231.86" fill="rgb(58,58,64)"/>
<line x1="513.42" y1="233.91" x2="511.93" y2="226.90" stroke="rgb(58,58,64)" stroke-width="1.25"/><polygon points="511.51,224.94 513.90,227.70 510.45,228.44" fill="rgb(58,58,64)"/>
<rect x="555.00" y="158.00" width="14.00" height="8.70" fill="rgb(250,242,0)"/>
<rect x="569.00" y="158.00" width="14.00" height="8.70" fill="rgb(190,245,0)"/>
<rect x="583.00" y="158.00" width="14.00" height="8.70" fill="rgb(250,242,0)"/>
<rect x="597.00" y="158.00" width="14.00" height="8.70" fill="rgb(255,160,0)"/>
<rect x="611.00" y="158.00" width="14.00" height="8.70" fill="rgb(255,160,0)"/>
<rect x="625.00" y="158.00" width="14.00" height="8.70" fill="rgb(255,212,0)"/>
<rect x="639.00" y="158.00" width="14.00" height="8.70" fill="rgb(250,242,0)"/>
<rect x="653.00" y="158.00" width="14.00" height="8.70" fill="rgb(22,232,92)"/>
<rect x="667.00" y="158.00" width="14.00" height="8.70" fill="rgb(22,232,92)"/>
<rect x="555.00" y="166.70" width="14.00" height="8.70" fill="rgb(250,242,0)"/>
<rect x="569.00" y="166.70" width="14.00" height="8.70" fill="rgb(250,242,0)"/>
<rect x="583.00" y="166.70" width="14.00" height="8.70" fill="rgb(250,242,0)"/>
<rect x="597.00" y="166.70" width="14.00" height="8.70" fill="rgb(255,100,0)"/>
<rect x="611.00" y="166.70" width="14.00" height="8.70" fill="rgb(255,160,0)"/>
<rect x="625.00" y="166.70" width="14.00" height="8.70" fill="rgb(255,160,0)"/>
<rect x="639.00" y="166.70" width="14.00" height="8.70" fill="rgb(250,242,0)"/>
<rect x="653.00" y="166.70" width="14.00" height="8.70" fill="rgb(22,232,92)"/>
<rect x="667.00" y="166.70" width="14.00" height="8.70" fill="rgb(22,232,92)"/>
<rect x="555.00" y="175.40" width="14.00" height="8.70" fill="rgb(250,242,0)"/>
<rect x="569.00" y="175.40" width="14.00" height="8.70" fill="rgb(250,242,0)"/>
<rect x="583.00" y="175.40" width="14.00" height="8.70" fill="rgb(255,212,0)"/>
<rect x="597.00" y="175.40" width="14.00" height="8.70" fill="rgb(235,15,0)"/>
<rect x="611.00" y="175.40" width="14.00" height="8.70" fill="rgb(255,160,0)"/>
<rect x="625.00" y="175.40" width="14.00" height="8.70" fill="rgb(255,160,0)"/>
<rect x="639.00" y="175.40" width="14.00" height="8.70" fill="rgb(250,242,0)"/>
<rect x="653.00" y="175.40" width="14.00" height="8.70" fill="rgb(22,232,92)"/>
<rect x="667.00" y="175.40" width="14.00" height="8.70" fill="rgb(0,60,233)"/>
<rect x="555.00" y="184.10" width="14.00" height="8.70" fill="rgb(250,242,0)"/>
<rect x="569.00" y="184.10" width="14.00" height="8.70" fill="rgb(250,242,0)"/>
<rect x="583.00" y="184.10" width="14.00" height="8.70" fill="rgb(255,212,0)"/>
<rect x="597.00" y="184.10" width="14.00" height="8.70" fill="rgb(235,15,0)"/>
<rect x="611.00" y="184.10" width="14.00" height="8.70" fill="rgb(255,160,0)"/>
<rect x="625.00" y="184.10" width="14.00" height="8.70" fill="rgb(250,242,0)"/>
<rect x="639.00" y="184.10" width="14.00" height="8.70" fill="rgb(250,242,0)"/>
<rect x="653.00" y="184.10" width="14.00" height="8.70" fill="rgb(22,232,92)"/>
<rect x="667.00" y="184.10" width="14.00" height="8.70" fill="rgb(0,60,233)"/>
<rect x="555.00" y="192.80" width="14.00" height="8.70" fill="rgb(255,212,0)"/>
<rect x="569.00" y="192.80" width="14.00" height="8.70" fill="rgb(250,242,0)"/>
<rect x="583.00" y="192.80" width="14.00" height="8.70" fill="rgb(250,242,0)"/>
<rect x="597.00" y="192.80" width="14.00" height="8.70" fill="rgb(255,100,0)"/>
<rect x="611.00" y="192.80" width="14.00" height="8.70" fill="rgb(255,160,0)"/>
<rect x="625.00" y="192.80" width="14.00" height="8.70" fill="rgb(190,245,0)"/>
<rect x="639.00" y="192.80" width="14.00" height="8.70" fill="rgb(90,238,30)"/>
<rect x="653.00" y="192.80" width="14.00" height="8.70" fill="rgb(0,200,140)"/>
<rect x="667.00" y="192.80" width="14.00" height="8.70" fill="rgb(0,60,233)"/>
<rect x="555.00" y="201.50" width="14.00" height="8.70" fill="rgb(250,242,0)"/>
<rect x="569.00" y="201.50" width="14.00" height="8.70" fill="rgb(90,238,30)"/>
<rect x="583.00" y="201.50" width="14.00" height="8.70" fill="rgb(0,165,180)"/>
<rect x="597.00" y="201.50" width="14.00" height="8.70" fill="rgb(250,242,0)"/>
<rect x="611.00" y="201.50" width="14.00" height="8.70" fill="rgb(190,245,0)"/>
<rect x="625.00" y="201.50" width="14.00" height="8.70" fill="rgb(22,232,92)"/>
<rect x="639.00" y="201.50" width="14.00" height="8.70" fill="rgb(0,200,140)"/>
<rect x="653.00" y="201.50" width="14.00" height="8.70" fill="rgb(0,60,233)"/>
<rect x="667.00" y="201.50" width="14.00" height="8.70" fill="rgb(0,110,235)"/>
<rect x="555.00" y="210.20" width="14.00" height="8.70" fill="rgb(250,242,0)"/>
<rect x="569.00" y="210.20" width="14.00" height="8.70" fill="rgb(22,232,92)"/>
<rect x="583.00" y="210.20" width="14.00" height="8.70" fill="rgb(0,60,233)"/>
<rect x="597.00" y="210.20" width="14.00" height="8.70" fill="rgb(90,238,30)"/>
<rect x="611.00" y="210.20" width="14.00" height="8.70" fill="rgb(90,238,30)"/>
<rect x="625.00" y="210.20" width="14.00" height="8.70" fill="rgb(22,232,92)"/>
<rect x="639.00" y="210.20" width="14.00" height="8.70" fill="rgb(0,110,235)"/>
<rect x="653.00" y="210.20" width="14.00" height="8.70" fill="rgb(0,60,233)"/>
<rect x="667.00" y="210.20" width="14.00" height="8.70" fill="rgb(0,110,235)"/>
<rect x="555.00" y="218.90" width="14.00" height="8.70" fill="rgb(22,232,92)"/>
<rect x="569.00" y="218.90" width="14.00" height="8.70" fill="rgb(0,60,233)"/>
<rect x="583.00" y="218.90" width="14.00" height="8.70" fill="rgb(0,60,233)"/>
<rect x="597.00" y="218.90" width="14.00" height="8.70" fill="rgb(90,238,30)"/>
<rect x="611.00" y="218.90" width="14.00" height="8.70" fill="rgb(90,238,30)"/>
<rect x="625.00" y="218.90" width="14.00" height="8.70" fill="rgb(0,165,180)"/>
<rect x="639.00" y="218.90" width="14.00" height="8.70" fill="rgb(0,110,235)"/>
<rect x="653.00" y="218.90" width="14.00" height="8.70" fill="rgb(0,110,235)"/>
<rect x="667.00" y="218.90" width="14.00" height="8.70" fill="rgb(0,165,180)"/>
<rect x="555.00" y="227.60" width="14.00" height="8.70" fill="rgb(0,60,233)"/>
<rect x="569.00" y="227.60" width="14.00" height="8.70" fill="rgb(0,20,210)"/>
<rect x="583.00" y="227.60" width="14.00" height="8.70" fill="rgb(0,60,233)"/>
<rect x="597.00" y="227.60" width="14.00" height="8.70" fill="rgb(90,238,30)"/>
<rect x="611.00" y="227.60" width="14.00" height="8.70" fill="rgb(90,238,30)"/>
<rect x="625.00" y="227.60" width="14.00" height="8.70" fill="rgb(0,165,180)"/>
<rect x="639.00" y="227.60" width="14.00" height="8.70" fill="rgb(0,60,233)"/>
<rect x="653.00" y="227.60" width="14.00" height="8.70" fill="rgb(0,60,233)"/>
<rect x="667.00" y="227.60" width="14.00" height="8.70" fill="rgb(0,60,233)"/>
<path d="M555.00 158.00V236.30M569.00 158.00V236.30M583.00 158.00V236.30M597.00 158.00V236.30M611.00 158.00V236.30M625.00 158.00V236.30M639.00 158.00V236.30M653.00 158.00V236.30M667.00 158.00V236.30M681.00 158.00V236.30M555.00 158.00H681.00M555.00 166.70H681.00M555.00 175.40H681.00M555.00 184.10H681.00M555.00 192.80H681.00M555.00 201.50H681.00M555.00 210.20H681.00M555.00 218.90H681.00M555.00 227.60H681.00M555.00 236.30H681.00" stroke="#000" stroke-width="1.2" fill="none"/>
<path d="M555.00 162.35h-3.60M681.00 162.35h3.60M555.00 171.05h-2.00M681.00 171.05h2.00M555.00 179.75h-3.60M681.00 179.75h3.60M555.00 188.45h-2.00M681.00 188.45h2.00M555.00 197.15h-3.60M681.00 197.15h3.60M555.00 205.85h-2.00M681.00 205.85h2.00M555.00 214.55h-3.60M681.00 214.55h3.60M555.00 223.25h-2.00M681.00 223.25h2.00M555.00 231.95h-3.60M681.00 231.95h3.60M562.00 158.00v-3.60M562.00 236.30v3.60M576.00 158.00v-2.00M576.00 236.30v2.00M590.00 158.00v-3.60M590.00 236.30v3.60M604.00 158.00v-2.00M604.00 236.30v2.00M618.00 158.00v-3.60M618.00 236.30v3.60M632.00 158.00v-2.00M632.00 236.30v2.00M646.00 158.00v-3.60M646.00 236.30v3.60M660.00 158.00v-2.00M660.00 236.30v2.00M674.00 158.00v-3.60M674.00 236.30v3.60" stroke="#333" stroke-width="0.9" fill="none"/>
<text x="550.00" y="166.85" text-anchor="end" font-size="12">&#8722;10</text>
<text x="550.00" y="184.25" text-anchor="end" font-size="12">&#8722;5</text>
<text x="550.00" y="201.65" text-anchor="end" font-size="12">0</text>
<text x="550.00" y="219.05" text-anchor="end" font-size="12">5</text>
<text x="550.00" y="236.45" text-anchor="end" font-size="12">10</text>
<text x="562.00" y="250.30" text-anchor="middle" font-size="12">0</text>
<text x="590.00" y="250.30" text-anchor="middle" font-size="12">8</text>
<text x="618.00" y="250.30" text-anchor="middle" font-size="12">16</text>
<text x="646.00" y="250.30" text-anchor="middle" font-size="12">24</text>
<text x="674.00" y="250.30" text-anchor="middle" font-size="12">32</text>
<line x1="562.14" y1="164.35" x2="561.43" y2="154.17" stroke="rgb(58,58,64)" stroke-width="1.25"/><polygon points="561.29,152.17 563.27,155.24 559.76,155.49" fill="rgb(58,58,64)"/>
<line x1="576.14" y1="164.35" x2="575.53" y2="155.57" stroke="rgb(58,58,64)" stroke-width="1.25"/><polygon points="575.39,153.57 577.37,156.64 573.85,156.89" fill="rgb(58,58,64)"/>
<line x1="590.14" y1="164.35" x2="589.43" y2="154.17" stroke="rgb(58,58,64)" stroke-width="1.25"/><polygon points="589.29,152.17 591.27,155.24 587.76,155.49" fill="rgb(58,58,64)"/>
<line x1="604.14" y1="164.35" x2="603.20" y2="150.91" stroke="rgb(58,58,64)" stroke-width="1.25"/><polygon points="603.06,148.92 605.04,151.99 601.53,152.23" fill="rgb(58,58,64)"/>
<line x1="618.14" y1="164.35" x2="617.20" y2="150.91" stroke="rgb(58,58,64)" stroke-width="1.25"/><polygon points="617.06,148.92 619.04,151.99 615.53,152.23" fill="rgb(58,58,64)"/>
<line x1="632.14" y1="164.35" x2="631.31" y2="152.54" stroke="rgb(58,58,64)" stroke-width="1.25"/><polygon points="631.17,150.55 633.15,153.61 629.64,153.86" fill="rgb(58,58,64)"/>
<line x1="646.14" y1="164.35" x2="645.43" y2="154.17" stroke="rgb(58,58,64)" stroke-width="1.25"/><polygon points="645.29,152.17 647.27,155.24 643.76,155.49" fill="rgb(58,58,64)"/>
<line x1="660.14" y1="164.35" x2="659.72" y2="158.36" stroke="rgb(58,58,64)" stroke-width="1.25"/><polygon points="659.58,156.36 661.56,159.43 658.05,159.68" fill="rgb(58,58,64)"/>
<line x1="674.14" y1="164.35" x2="673.72" y2="158.36" stroke="rgb(58,58,64)" stroke-width="1.25"/><polygon points="673.58,156.36 675.56,159.43 672.05,159.68" fill="rgb(58,58,64)"/>
<line x1="562.14" y1="173.05" x2="561.43" y2="162.87" stroke="rgb(58,58,64)" stroke-width="1.25"/><polygon points="561.29,160.87 563.27,163.94 559.76,164.19" fill="rgb(58,58,64)"/>
<line x1="576.14" y1="173.05" x2="575.43" y2="162.87" stroke="rgb(58,58,64)" stroke-width="1.25"/><polygon points="575.29,160.87 577.27,163.94 573.76,164.19" fill="rgb(58,58,64)"/>
<line x1="590.14" y1="173.05" x2="589.43" y2="162.87" stroke="rgb(58,58,64)" stroke-width="1.25"/><polygon points="589.29,160.87 591.27,163.94 587.76,164.19" fill="rgb(58,58,64)"/>
<line x1="604.14" y1="173.05" x2="603.07" y2="157.75" stroke="rgb(58,58,64)" stroke-width="1.25"/><polygon points="602.93,155.75 604.91,158.82 601.40,159.07" fill="rgb(58,58,64)"/>
<line x1="618.14" y1="173.05" x2="617.20" y2="159.61" stroke="rgb(58,58,64)" stroke-width="1.25"/><polygon points="617.06,157.62 619.04,160.69 615.53,160.93" fill="rgb(58,58,64)"/>
<line x1="632.14" y1="173.05" x2="631.20" y2="159.61" stroke="rgb(58,58,64)" stroke-width="1.25"/><polygon points="631.06,157.62 633.04,160.69 629.53,160.93" fill="rgb(58,58,64)"/>
<line x1="646.14" y1="173.05" x2="645.43" y2="162.87" stroke="rgb(58,58,64)" stroke-width="1.25"/><polygon points="645.29,160.87 647.27,163.94 643.76,164.19" fill="rgb(58,58,64)"/>
<line x1="660.14" y1="173.05" x2="659.72" y2="167.06" stroke="rgb(58,58,64)" stroke-width="1.25"/><polygon points="659.58,165.06 661.56,168.13 658.05,168.38" fill="rgb(58,58,64)"/>
<line x1="674.14" y1="173.05" x2="673.72" y2="167.06" stroke="rgb(58,58,64)" stroke-width="1.25"/><polygon points="673.58,165.06 675.56,168.13 672.05,168.38" fill="rgb(58,58,64)"/>
<line x1="562.14" y1="181.75" x2="561.43" y2="171.57" stroke="rgb(58,58,64)" stroke-width="1.25"/><polygon points="561.29,169.57 563.27,172.64 559.76,172.89" fill="rgb(58,58,64)"/>
<line x1="576.14" y1="181.75" x2="575.43" y2="171.57" stroke="rgb(58,58,64)" stroke-width="1.25"/><polygon points="575.29,169.57 577.27,172.64 573.76,172.89" fill="rgb(58,58,64)"/>
<line x1="589.52" y1="181.69" x2="592.38" y2="170.21" stroke="rgb(58,58,64)" stroke-width="1.25"/><polygon points="592.86,168.27 593.80,171.80 590.38,170.95" fill="rgb(58,58,64)"/>
<line x1="603.52" y1="181.69" x2="607.79" y2="164.55" stroke="rgb(58,58,64)" stroke-width="1.25"/><polygon points="608.27,162.61 609.21,166.14 605.79,165.29" fill="rgb(58,58,64)"/>
<line x1="617.52" y1="181.69" x2="620.77" y2="168.62" stroke="rgb(58,58,64)" stroke-width="1.25"/><polygon points="621.26,166.68 622.19,170.21 618.78,169.36" fill="rgb(58,58,64)"/>
<line x1="631.52" y1="181.69" x2="634.77" y2="168.62" stroke="rgb(58,58,64)" stroke-width="1.25"/><polygon points="635.26,166.68 636.19,170.21 632.78,169.36" fill="rgb(58,58,64)"/>
<line x1="645.52" y1="181.69" x2="647.98" y2="171.79" stroke="rgb(58,58,64)" stroke-width="1.25"/><polygon points="648.47,169.85 649.40,173.38 645.99,172.53" fill="rgb(58,58,64)"/>
<line x1="660.14" y1="181.75" x2="659.72" y2="175.76" stroke="rgb(58,58,64)" stroke-width="1.25"/><polygon points="659.58,173.76 661.56,176.83 658.05,177.08" fill="rgb(58,58,64)"/>
<polygon points="674.00,178.32 676.09,182.12 671.91,182.12" fill="rgb(58,58,64)"/>
<line x1="562.14" y1="190.45" x2="561.43" y2="180.27" stroke="rgb(58,58,64)" stroke-width="1.25"/><polygon points="561.29,178.27 563.27,181.34 559.76,181.59" fill="rgb(58,58,64)"/>
<line x1="576.14" y1="190.45" x2="575.43" y2="180.27" stroke="rgb(58,58,64)" stroke-width="1.25"/><polygon points="575.29,178.27 577.27,181.34 573.76,181.59" fill="rgb(58,58,64)"/>
<line x1="589.52" y1="190.39" x2="592.38" y2="178.91" stroke="rgb(58,58,64)" stroke-width="1.25"/><polygon points="592.86,176.97 593.80,180.50 590.38,179.65" fill="rgb(58,58,64)"/>
<line x1="603.52" y1="190.39" x2="607.79" y2="173.25" stroke="rgb(58,58,64)" stroke-width="1.25"/><polygon points="608.27,171.31 609.21,174.84 605.79,173.99" fill="rgb(58,58,64)"/>
<line x1="617.52" y1="190.39" x2="620.77" y2="177.32" stroke="rgb(58,58,64)" stroke-width="1.25"/><polygon points="621.26,175.38 622.19,178.91 618.78,178.06" fill="rgb(58,58,64)"/>
<line x1="631.52" y1="190.39" x2="633.98" y2="180.49" stroke="rgb(58,58,64)" stroke-width="1.25"/><polygon points="634.47,178.55 635.40,182.08 631.99,181.23" fill="rgb(58,58,64)"/>
<line x1="645.52" y1="190.39" x2="647.98" y2="180.49" stroke="rgb(58,58,64)" stroke-width="1.25"/><polygon points="648.47,178.55 649.40,182.08 645.99,181.23" fill="rgb(58,58,64)"/>
<line x1="660.14" y1="190.45" x2="659.72" y2="184.46" stroke="rgb(58,58,64)" stroke-width="1.25"/><polygon points="659.58,182.46 661.56,185.53 658.05,185.78" fill="rgb(58,58,64)"/>
<polygon points="675.01,189.46 670.85,188.25 673.80,185.30" fill="rgb(58,58,64)"/>
<line x1="562.14" y1="199.15" x2="561.31" y2="187.34" stroke="rgb(58,58,64)" stroke-width="1.25"/><polygon points="561.17,185.35 563.15,188.41 559.64,188.66" fill="rgb(58,58,64)"/>
<line x1="576.14" y1="199.15" x2="575.43" y2="188.97" stroke="rgb(58,58,64)" stroke-width="1.25"/><polygon points="575.29,186.97 577.27,190.04 573.76,190.29" fill="rgb(58,58,64)"/>
<line x1="589.52" y1="199.09" x2="591.98" y2="189.19" stroke="rgb(58,58,64)" stroke-width="1.25"/><polygon points="592.47,187.25 593.40,190.78 589.99,189.93" fill="rgb(58,58,64)"/>
<line x1="603.52" y1="199.09" x2="607.23" y2="184.21" stroke="rgb(58,58,64)" stroke-width="1.25"/><polygon points="607.71,182.27 608.64,185.80 605.23,184.95" fill="rgb(58,58,64)"/>
<line x1="617.52" y1="199.09" x2="620.77" y2="186.02" stroke="rgb(58,58,64)" stroke-width="1.25"/><polygon points="621.26,184.08 622.19,187.61 618.78,186.76" fill="rgb(58,58,64)"/>
<line x1="631.52" y1="199.09" x2="633.65" y2="190.55" stroke="rgb(58,58,64)" stroke-width="1.25"/><polygon points="634.13,188.61 635.06,192.14 631.65,191.29" fill="rgb(58,58,64)"/>
<line x1="645.52" y1="199.09" x2="647.25" y2="192.14" stroke="rgb(58,58,64)" stroke-width="1.25"/><polygon points="647.73,190.20 648.67,193.73 645.25,192.88" fill="rgb(58,58,64)"/>
<line x1="660.14" y1="199.15" x2="659.80" y2="194.32" stroke="rgb(58,58,64)" stroke-width="1.25"/><polygon points="659.66,192.33 661.64,195.40 658.13,195.64" fill="rgb(58,58,64)"/>
<polygon points="672.57,197.15 676.37,195.06 676.37,199.24" fill="rgb(58,58,64)"/>
<line x1="562.14" y1="207.85" x2="561.43" y2="197.67" stroke="rgb(58,58,64)" stroke-width="1.25"/><polygon points="561.29,195.67 563.27,198.74 559.76,198.99" fill="rgb(58,58,64)"/>
<line x1="576.14" y1="207.85" x2="575.64" y2="200.70" stroke="rgb(58,58,64)" stroke-width="1.25"/><polygon points="575.50,198.70 577.48,201.77 573.97,202.02" fill="rgb(58,58,64)"/>
<line x1="589.52" y1="207.79" x2="590.40" y2="204.23" stroke="rgb(58,58,64)" stroke-width="1.25"/><polygon points="590.89,202.29 591.82,205.82 588.41,204.97" fill="rgb(58,58,64)"/>
<line x1="603.52" y1="207.79" x2="605.98" y2="197.89" stroke="rgb(58,58,64)" stroke-width="1.25"/><polygon points="606.47,195.95 607.40,199.48 603.99,198.63" fill="rgb(58,58,64)"/>
<line x1="617.52" y1="207.79" x2="619.65" y2="199.25" stroke="rgb(58,58,64)" stroke-width="1.25"/><polygon points="620.13,197.31 621.06,200.84 617.65,199.99" fill="rgb(58,58,64)"/>
<line x1="631.52" y1="207.79" x2="632.97" y2="201.97" stroke="rgb(58,58,64)" stroke-width="1.25"/><polygon points="633.45,200.03 634.39,203.56 630.97,202.71" fill="rgb(58,58,64)"/>
<line x1="645.52" y1="207.79" x2="646.69" y2="203.10" stroke="rgb(58,58,64)" stroke-width="1.25"/><polygon points="647.17,201.16 648.10,204.69 644.69,203.84" fill="rgb(58,58,64)"/>
<polygon points="660.00,204.42 662.09,208.22 657.91,208.22" fill="rgb(58,58,64)"/>
<line x1="672.59" y1="207.26" x2="674.35" y2="205.50" stroke="rgb(58,58,64)" stroke-width="1.25"/><polygon points="675.77,204.08 674.75,207.59 672.26,205.10" fill="rgb(58,58,64)"/>
<line x1="562.14" y1="216.55" x2="561.43" y2="206.37" stroke="rgb(58,58,64)" stroke-width="1.25"/><polygon points="561.29,204.37 563.27,207.44 559.76,207.69" fill="rgb(58,58,64)"/>
<line x1="576.14" y1="216.55" x2="575.72" y2="210.56" stroke="rgb(58,58,64)" stroke-width="1.25"/><polygon points="575.58,208.56 577.56,211.63 574.05,211.88" fill="rgb(58,58,64)"/>
<polygon points="588.57,214.55 592.37,212.46 592.37,216.64" fill="rgb(58,58,64)"/>
<line x1="603.52" y1="216.49" x2="605.25" y2="209.54" stroke="rgb(58,58,64)" stroke-width="1.25"/><polygon points="605.73,207.60 606.67,211.13 603.25,210.28" fill="rgb(58,58,64)"/>
<line x1="617.52" y1="216.49" x2="619.25" y2="209.54" stroke="rgb(58,58,64)" stroke-width="1.25"/><polygon points="619.73,207.60 620.67,211.13 617.25,210.28" fill="rgb(58,58,64)"/>
<line x1="631.52" y1="216.49" x2="632.97" y2="210.67" stroke="rgb(58,58,64)" stroke-width="1.25"/><polygon points="633.45,208.73 634.39,212.26 630.97,211.41" fill="rgb(58,58,64)"/>
<line x1="644.00" y1="214.55" x2="646.50" y2="214.55" stroke="rgb(58,58,64)" stroke-width="1.25"/><polygon points="648.50,214.55 645.30,216.31 645.30,212.79" fill="rgb(58,58,64)"/>
<polygon points="661.01,215.56 656.85,214.35 659.80,211.40" fill="rgb(58,58,64)"/>
<line x1="674.00" y1="212.55" x2="674.00" y2="215.05" stroke="rgb(58,58,64)" stroke-width="1.25"/><polygon points="674.00,217.05 672.24,213.85 675.76,213.85" fill="rgb(58,58,64)"/>
<line x1="562.14" y1="225.25" x2="561.72" y2="219.26" stroke="rgb(58,58,64)" stroke-width="1.25"/><polygon points="561.58,217.26 563.56,220.33 560.05,220.58" fill="rgb(58,58,64)"/>
<polygon points="576.00,221.82 578.09,225.62 573.91,225.62" fill="rgb(58,58,64)"/>
<polygon points="591.01,222.24 589.80,226.40 586.85,223.45" fill="rgb(58,58,64)"/>
<line x1="603.52" y1="225.19" x2="605.25" y2="218.24" stroke="rgb(58,58,64)" stroke-width="1.25"/><polygon points="605.73,216.30 606.67,219.83 603.25,218.98" fill="rgb(58,58,64)"/>
<line x1="617.52" y1="225.19" x2="619.25" y2="218.24" stroke="rgb(58,58,64)" stroke-width="1.25"/><polygon points="619.73,216.30 620.67,219.83 617.25,218.98" fill="rgb(58,58,64)"/>
<line x1="631.52" y1="225.19" x2="632.40" y2="221.63" stroke="rgb(58,58,64)" stroke-width="1.25"/><polygon points="632.89,219.69 633.82,223.22 630.41,222.37" fill="rgb(58,58,64)"/>
<line x1="647.41" y1="221.84" x2="645.65" y2="223.60" stroke="rgb(58,58,64)" stroke-width="1.25"/><polygon points="644.23,225.02 645.25,221.51 647.74,224.00" fill="rgb(58,58,64)"/>
<line x1="662.00" y1="223.25" x2="659.50" y2="223.25" stroke="rgb(58,58,64)" stroke-width="1.25"/><polygon points="657.50,223.25 660.70,221.49 660.70,225.01" fill="rgb(58,58,64)"/>
<line x1="674.14" y1="225.25" x2="673.88" y2="221.59" stroke="rgb(58,58,64)" stroke-width="1.25"/><polygon points="673.74,219.59 675.72,222.66 672.21,222.91" fill="rgb(58,58,64)"/>
<polygon points="563.43,231.95 559.63,234.04 559.63,229.86" fill="rgb(58,58,64)"/>
<polygon points="576.60,232.55 572.44,231.34 575.39,228.39" fill="rgb(58,58,64)"/>
<polygon points="590.00,233.38 587.91,229.58 592.09,229.58" fill="rgb(58,58,64)"/>
<line x1="603.52" y1="233.89" x2="605.25" y2="226.94" stroke="rgb(58,58,64)" stroke-width="1.25"/><polygon points="605.73,225.00 606.67,228.53 603.25,227.68" fill="rgb(58,58,64)"/>
<line x1="617.52" y1="233.89" x2="619.25" y2="226.94" stroke="rgb(58,58,64)" stroke-width="1.25"/><polygon points="619.73,225.00 620.67,228.53 617.25,227.68" fill="rgb(58,58,64)"/>
<line x1="631.52" y1="233.89" x2="632.40" y2="230.33" stroke="rgb(58,58,64)" stroke-width="1.25"/><polygon points="632.89,228.39 633.82,231.92 630.41,231.07" fill="rgb(58,58,64)"/>
<polygon points="646.00,230.52 648.09,234.32 643.91,234.32" fill="rgb(58,58,64)"/>
<polygon points="661.01,230.94 659.80,235.10 656.85,232.15" fill="rgb(58,58,64)"/>
<polygon points="675.43,231.95 671.63,234.04 671.63,229.86" fill="rgb(58,58,64)"/>
<text x="366.30" y="8.30" text-anchor="middle" font-size="12.4" fill="#111">Segment C (1st)</text>
<text x="366.00" y="16.60" text-anchor="middle" font-size="9" fill="#111">ISK001</text>
<polygon points="361.70,18.90 370.90,18.90 366.30,27.10" fill="#000"/>
<text x="86.30" y="150.20" text-anchor="middle" font-size="12.4" fill="#111">Segment A</text>
<text x="240.40" y="137.80" text-anchor="middle" font-size="12.4" fill="#111">Segment B</text>
<text x="239.70" y="146.00" text-anchor="middle" font-size="9" fill="#111">ISK003</text>
<polygon points="234.80,147.60 244.00,147.60 239.40,155.80" fill="#000"/>
<text x="366.20" y="137.80" text-anchor="middle" font-size="12.4" fill="#111">Segment C (2nd)</text>
<text x="366.00" y="146.00" text-anchor="middle" font-size="9" fill="#111">ISK001</text>
<polygon points="361.40,147.60 370.60,147.60 366.00,155.80" fill="#000"/>
<text x="471.30" y="137.80" text-anchor="middle" font-size="12.4" fill="#111">Segment D</text>
<text x="437.50" y="146.00" text-anchor="middle" font-size="9" fill="#111">ISKH01</text>
<polygon points="429.60,147.60 438.80,147.60 434.20,155.80" fill="#000"/>
<text x="618.10" y="149.50" text-anchor="middle" font-size="12.4" fill="#111">Segment F [NW]</text>
<text transform="translate(9.0,196.60) rotate(-90)" text-anchor="middle" font-size="12.4">Along Dip (km)</text>
<text transform="translate(316.7,68.30) rotate(-90)" text-anchor="middle" font-size="12.4">Along Dip (km)</text>
<text x="366.00" y="262.80" text-anchor="middle" font-size="12.4" fill="#111">Along Strike (km)</text>
<rect x="441" y="43.80" width="105" height="5.8" fill="url(#cbg)" stroke="#888" stroke-width="0.4"/>
<path d="M441.00 49.60v3.20M458.50 49.60v2.00M476.00 49.60v3.20M493.50 49.60v2.00M511.00 49.60v3.20M528.50 49.60v2.00M546.00 49.60v3.20" stroke="#333" stroke-width="0.8"/>
<text x="441.00" y="62.80" text-anchor="middle" font-size="12.4" fill="#111">0</text>
<text x="476.00" y="62.80" text-anchor="middle" font-size="12.4" fill="#111">3</text>
<text x="511.00" y="62.80" text-anchor="middle" font-size="12.4" fill="#111">6</text>
<text x="546.00" y="62.80" text-anchor="middle" font-size="12.4" fill="#111">9</text>
<text x="494.30" y="75.20" text-anchor="middle" font-size="12.4" fill="#111">Slip (m)</text>
<rect x="345.50" y="314.00" width="14.00" height="8.70" fill="rgb(0,20,210)"/>
<rect x="359.50" y="314.00" width="14.00" height="8.70" fill="rgb(0,20,210)"/>
<rect x="373.50" y="314.00" width="14.00" height="8.70" fill="rgb(0,110,235)"/>
<rect x="345.50" y="322.70" width="14.00" height="8.70" fill="rgb(0,20,210)"/>
<rect x="359.50" y="322.70" width="14.00" height="8.70" fill="rgb(0,110,235)"/>
<rect x="373.50" y="322.70" width="14.00" height="8.70" fill="rgb(0,110,235)"/>
<rect x="345.50" y="331.40" width="14.00" height="8.70" fill="rgb(0,20,210)"/>
<rect x="359.50" y="331.40" width="14.00" height="8.70" fill="rgb(0,20,210)"/>
<rect x="373.50" y="331.40" width="14.00" height="8.70" fill="rgb(250,242,0)"/>
<rect x="345.50" y="340.10" width="14.00" height="8.70" fill="rgb(0,110,235)"/>
<rect x="359.50" y="340.10" width="14.00" height="8.70" fill="rgb(0,165,180)"/>
<rect x="373.50" y="340.10" width="14.00" height="8.70" fill="rgb(22,232,92)"/>
<rect x="345.50" y="348.80" width="14.00" height="8.70" fill="rgb(0,20,210)"/>
<rect x="359.50" y="348.80" width="14.00" height="8.70" fill="rgb(0,200,140)"/>
<rect x="373.50" y="348.80" width="14.00" height="8.70" fill="rgb(90,238,30)"/>
<rect x="345.50" y="357.50" width="14.00" height="8.70" fill="rgb(0,60,233)"/>
<rect x="359.50" y="357.50" width="14.00" height="8.70" fill="rgb(0,72,242)"/>
<rect x="373.50" y="357.50" width="14.00" height="8.70" fill="rgb(0,20,210)"/>
<rect x="345.50" y="366.20" width="14.00" height="8.70" fill="rgb(0,60,233)"/>
<rect x="359.50" y="366.20" width="14.00" height="8.70" fill="rgb(0,20,210)"/>
<rect x="373.50" y="366.20" width="14.00" height="8.70" fill="rgb(0,110,235)"/>
<rect x="345.50" y="374.90" width="14.00" height="8.70" fill="rgb(0,165,180)"/>
<rect x="359.50" y="374.90" width="14.00" height="8.70" fill="rgb(0,20,210)"/>
<rect x="373.50" y="374.90" width="14.00" height="8.70" fill="rgb(0,20,210)"/>
<rect x="345.50" y="383.60" width="14.00" height="8.70" fill="rgb(0,200,140)"/>
<rect x="359.50" y="383.60" width="14.00" height="8.70" fill="rgb(0,60,233)"/>
<rect x="373.50" y="383.60" width="14.00" height="8.70" fill="rgb(0,20,210)"/>
<path d="M345.50 314.00V392.30M359.50 314.00V392.30M373.50 314.00V392.30M387.50 314.00V392.30M345.50 314.00H387.50M345.50 322.70H387.50M345.50 331.40H387.50M345.50 340.10H387.50M345.50 348.80H387.50M345.50 357.50H387.50M345.50 366.20H387.50M345.50 374.90H387.50M345.50 383.60H387.50M345.50 392.30H387.50" stroke="#000" stroke-width="1.2" fill="none"/>
<path d="M345.50 318.35h-3.60M387.50 318.35h3.60M345.50 327.05h-2.00M387.50 327.05h2.00M345.50 335.75h-3.60M387.50 335.75h3.60M345.50 344.45h-2.00M387.50 344.45h2.00M345.50 353.15h-3.60M387.50 353.15h3.60M345.50 361.85h-2.00M387.50 361.85h2.00M345.50 370.55h-3.60M387.50 370.55h3.60M345.50 379.25h-2.00M387.50 379.25h2.00M345.50 387.95h-3.60M387.50 387.95h3.60M352.50 314.00v-3.60M352.50 392.30v3.60M366.50 314.00v-2.00M366.50 392.30v2.00M380.50 314.00v-3.60M380.50 392.30v3.60" stroke="#333" stroke-width="0.9" fill="none"/>
<text x="340.50" y="322.85" text-anchor="end" font-size="12">&#8722;10</text>
<text x="340.50" y="340.25" text-anchor="end" font-size="12">&#8722;5</text>
<text x="340.50" y="357.65" text-anchor="end" font-size="12">0</text>
<text x="340.50" y="375.05" text-anchor="end" font-size="12">5</text>
<text x="340.50" y="392.45" text-anchor="end" font-size="12">10</text>
<text x="352.50" y="406.30" text-anchor="middle" font-size="12">&#8722;8</text>
<text x="380.50" y="406.30" text-anchor="middle" font-size="12">0</text>
<polyline points="346.4,321.3 346.9,321.2 347.4,321.0 347.9,320.7 348.4,320.5 348.9,320.6 349.4,320.7 350.0,320.7 350.5,320.8 351.0,320.9 351.5,320.9 352.0,321.0 352.5,321.0 353.0,321.0 353.5,321.1 354.0,321.1 354.5,321.1 355.0,321.1 355.5,321.2 356.1,321.2 356.6,321.2 357.1,321.2 357.6,321.2 358.1,321.2 358.6,321.2" fill="none" stroke="#000" stroke-width="1.05" stroke-linejoin="round"/>
<polyline points="360.4,321.3 360.9,321.3 361.4,321.3 361.9,321.2 362.4,321.0 362.9,320.9 363.4,320.7 364.0,320.6 364.5,320.6 365.0,320.8 365.5,321.0 366.0,321.1 366.5,321.2 367.0,321.3 367.5,321.2 368.0,321.2 368.5,321.0 369.0,320.8 369.5,320.8 370.1,320.8 370.6,321.0 371.1,321.2 371.6,321.2 372.1,321.3 372.6,321.3" fill="none" stroke="#000" stroke-width="1.05" stroke-linejoin="round"/>
<polyline points="374.4,321.3 374.9,321.3 375.4,321.2 375.9,321.2 376.4,321.1 376.9,320.9 377.4,320.7 378.0,320.5 378.5,320.2 379.0,320.0 379.5,319.8 380.0,319.8 380.5,319.9 381.0,320.1 381.5,320.3 382.0,320.6 382.5,320.8 383.0,321.0 383.5,321.1 384.1,321.2 384.6,321.3 385.1,321.3 385.6,321.3 386.1,321.3 386.6,321.3" fill="none" stroke="#000" stroke-width="1.05" stroke-linejoin="round"/>
<polyline points="346.4,330.0 346.9,330.0 347.4,330.0 347.9,330.0 348.4,329.9 348.9,329.9 349.4,329.8 350.0,329.7 350.5,329.5 351.0,329.4 351.5,329.4 352.0,329.4 352.5,329.4 353.0,329.5 353.5,329.6 354.0,329.7 354.5,329.8 355.0,329.9 355.5,329.9 356.1,330.0 356.6,330.0 357.1,330.0 357.6,330.0 358.1,330.0 358.6,330.0" fill="none" stroke="#000" stroke-width="1.05" stroke-linejoin="round"/>
<polyline points="360.4,330.0 360.9,329.8 361.4,329.4 361.9,328.7 362.4,328.1 362.9,328.2 363.4,328.5 364.0,328.6 364.5,328.8 365.0,329.0 365.5,329.1 366.0,329.2 366.5,329.3 367.0,329.4 367.5,329.5 368.0,329.5 368.5,329.6 369.0,329.6 369.5,329.7 370.1,329.7 370.6,329.8 371.1,329.8 371.6,329.8 372.1,329.8 372.6,329.9" fill="none" stroke="#000" stroke-width="1.05" stroke-linejoin="round"/>
<polyline points="374.4,330.0 374.9,330.0 375.4,329.9 375.9,329.7 376.4,329.4 376.9,328.9 377.4,328.5 378.0,328.3 378.5,328.4 379.0,328.8 379.5,329.2 380.0,329.6 380.5,329.8 381.0,329.9 381.5,329.9 382.0,329.7 382.5,329.3 383.0,328.9 383.5,328.7 384.1,328.9 384.6,329.3 385.1,329.7 385.6,329.9 386.1,330.0 386.6,330.0" fill="none" stroke="#000" stroke-width="1.05" stroke-linejoin="round"/>
<polyline points="346.4,338.7 346.9,338.7 347.4,338.7 347.9,338.7 348.4,338.6 348.9,338.6 349.4,338.5 350.0,338.4 350.5,338.2 351.0,338.1 351.5,338.1 352.0,338.1 352.5,338.1 353.0,338.2 353.5,338.3 354.0,338.4 354.5,338.5 355.0,338.6 355.5,338.6 356.1,338.7 356.6,338.7 357.1,338.7 357.6,338.7 358.1,338.7 358.6,338.7" fill="none" stroke="#000" stroke-width="1.05" stroke-linejoin="round"/>
<polyline points="360.4,338.7 360.9,338.7 361.4,338.7 361.9,338.7 362.4,338.7 362.9,338.6 363.4,338.4 364.0,338.1 364.5,337.9 365.0,338.0 365.5,338.1 366.0,338.1 366.5,338.2 367.0,338.3 367.5,338.3 368.0,338.4 368.5,338.4 369.0,338.4 369.5,338.5 370.1,338.5 370.6,338.5 371.1,338.5 371.6,338.6 372.1,338.6 372.6,338.6" fill="none" stroke="#000" stroke-width="1.05" stroke-linejoin="round"/>
<polyline points="374.4,338.7 374.9,338.7 375.4,338.6 375.9,337.8 376.4,336.9 376.9,336.0 377.4,335.6 378.0,335.6 378.5,335.6 379.0,335.6 379.5,335.6 380.0,335.6 380.5,335.6 381.0,335.6 381.5,335.6 382.0,335.6 382.5,335.6 383.0,335.6 383.5,336.0 384.1,336.7 384.6,337.3 385.1,338.0 385.6,338.6 386.1,338.7 386.6,338.7" fill="none" stroke="#000" stroke-width="1.05" stroke-linejoin="round"/>
<polyline points="346.4,347.4 346.9,347.2 347.4,346.8 347.9,346.1 348.4,345.5 348.9,345.6 349.4,345.9 350.0,346.0 350.5,346.2 351.0,346.4 351.5,346.5 352.0,346.6 352.5,346.7 353.0,346.8 353.5,346.9 354.0,346.9 354.5,347.0 355.0,347.0 355.5,347.1 356.1,347.1 356.6,347.2 357.1,347.2 357.6,347.2 358.1,347.2 358.6,347.3" fill="none" stroke="#000" stroke-width="1.05" stroke-linejoin="round"/>
<polyline points="360.4,347.4 360.9,347.4 361.4,347.3 361.9,347.1 362.4,346.7 362.9,346.1 363.4,345.6 364.0,345.3 364.5,345.5 365.0,345.9 365.5,346.5 366.0,346.9 366.5,347.2 367.0,347.3 367.5,347.2 368.0,347.0 368.5,346.6 369.0,346.1 369.5,345.9 370.1,346.1 370.6,346.6 371.1,347.0 371.6,347.2 372.1,347.4 372.6,347.4" fill="none" stroke="#000" stroke-width="1.05" stroke-linejoin="round"/>
<polyline points="374.4,347.4 374.9,347.4 375.4,347.4 375.9,347.4 376.4,347.3 376.9,347.0 377.4,346.3 378.0,345.1 378.5,344.4 379.0,344.7 379.5,345.0 380.0,345.3 380.5,345.6 381.0,345.8 381.5,346.0 382.0,346.1 382.5,346.3 383.0,346.4 383.5,346.6 384.1,346.7 384.6,346.7 385.1,346.8 385.6,346.9 386.1,347.0 386.6,347.0" fill="none" stroke="#000" stroke-width="1.05" stroke-linejoin="round"/>
<polyline points="346.4,356.1 346.9,356.1 347.4,356.1 347.9,356.0 348.4,355.8 348.9,355.5 349.4,355.3 350.0,355.4 350.5,355.5 351.0,355.5 351.5,355.6 352.0,355.7 352.5,355.7 353.0,355.8 353.5,355.8 354.0,355.8 354.5,355.9 355.0,355.9 355.5,355.9 356.1,355.9 356.6,356.0 357.1,356.0 357.6,356.0 358.1,356.0 358.6,356.0" fill="none" stroke="#000" stroke-width="1.05" stroke-linejoin="round"/>
<polyline points="360.4,356.1 360.9,355.8 361.4,355.3 361.9,354.3 362.4,353.5 362.9,353.7 363.4,354.0 364.0,354.2 364.5,354.4 365.0,354.6 365.5,354.8 366.0,355.0 366.5,355.1 367.0,355.2 367.5,355.3 368.0,355.4 368.5,355.5 369.0,355.6 369.5,355.6 370.1,355.7 370.6,355.8 371.1,355.8 371.6,355.8 372.1,355.9 372.6,355.9" fill="none" stroke="#000" stroke-width="1.05" stroke-linejoin="round"/>
<polyline points="374.4,356.1 374.9,356.1 375.4,356.0 375.9,355.9 376.4,355.7 376.9,355.5 377.4,355.1 378.0,354.6 378.5,354.2 379.0,353.7 379.5,353.4 380.0,353.4 380.5,353.5 381.0,353.9 381.5,354.3 382.0,354.8 382.5,355.3 383.0,355.6 383.5,355.8 384.1,356.0 384.6,356.0 385.1,356.1 385.6,356.1 386.1,356.1 386.6,356.1" fill="none" stroke="#000" stroke-width="1.05" stroke-linejoin="round"/>
<polyline points="346.4,364.8 346.9,364.8 347.4,364.7 347.9,364.6 348.4,364.4 348.9,364.2 349.4,363.9 350.0,363.7 350.5,363.8 351.0,364.0 351.5,364.3 352.0,364.6 352.5,364.7 353.0,364.7 353.5,364.7 354.0,364.6 354.5,364.4 355.0,364.1 355.5,364.0 356.1,364.1 356.6,364.4 357.1,364.6 357.6,364.7 358.1,364.8 358.6,364.8" fill="none" stroke="#000" stroke-width="1.05" stroke-linejoin="round"/>
<polyline points="360.4,364.8 360.9,364.8 361.4,364.8 361.9,364.8 362.4,364.8 362.9,364.6 363.4,364.2 364.0,363.6 364.5,363.3 365.0,363.4 365.5,363.6 366.0,363.7 366.5,363.9 367.0,364.0 367.5,364.1 368.0,364.2 368.5,364.2 369.0,364.3 369.5,364.4 370.1,364.4 370.6,364.5 371.1,364.5 371.6,364.5 372.1,364.6 372.6,364.6" fill="none" stroke="#000" stroke-width="1.05" stroke-linejoin="round"/>
<polyline points="374.4,364.8 374.9,364.8 375.4,364.8 375.9,364.7 376.4,364.5 376.9,364.4 377.4,364.2 378.0,364.1 378.5,364.1 379.0,364.3 379.5,364.5 380.0,364.6 380.5,364.7 381.0,364.8 381.5,364.7 382.0,364.7 382.5,364.5 383.0,364.3 383.5,364.3 384.1,364.3 384.6,364.5 385.1,364.7 385.6,364.7 386.1,364.8 386.6,364.8" fill="none" stroke="#000" stroke-width="1.05" stroke-linejoin="round"/>
<polyline points="346.4,373.5 346.9,373.5 347.4,373.4 347.9,373.3 348.4,373.1 348.9,372.9 349.4,372.6 350.0,372.4 350.5,372.5 351.0,372.7 351.5,373.0 352.0,373.3 352.5,373.4 353.0,373.4 353.5,373.4 354.0,373.3 354.5,373.1 355.0,372.8 355.5,372.7 356.1,372.8 356.6,373.1 357.1,373.3 357.6,373.4 358.1,373.5 358.6,373.5" fill="none" stroke="#000" stroke-width="1.05" stroke-linejoin="round"/>
<polyline points="360.4,373.5 360.9,373.5 361.4,373.5 361.9,373.4 362.4,373.2 362.9,373.1 363.4,372.9 364.0,372.8 364.5,372.8 365.0,373.0 365.5,373.2 366.0,373.3 366.5,373.4 367.0,373.5 367.5,373.4 368.0,373.4 368.5,373.2 369.0,373.0 369.5,373.0 370.1,373.0 370.6,373.2 371.1,373.4 371.6,373.4 372.1,373.5 372.6,373.5" fill="none" stroke="#000" stroke-width="1.05" stroke-linejoin="round"/>
<polyline points="374.4,373.5 374.9,373.5 375.4,373.5 375.9,373.1 376.4,372.7 376.9,372.3 377.4,372.1 378.0,372.1 378.5,372.1 379.0,372.1 379.5,372.1 380.0,372.1 380.5,372.1 381.0,372.1 381.5,372.1 382.0,372.1 382.5,372.1 383.0,372.1 383.5,372.3 384.1,372.6 384.6,372.9 385.1,373.2 385.6,373.5 386.1,373.5 386.6,373.5" fill="none" stroke="#000" stroke-width="1.05" stroke-linejoin="round"/>
<polyline points="346.4,382.2 346.9,382.2 347.4,382.1 347.9,381.9 348.4,381.5 348.9,380.9 349.4,380.4 350.0,380.1 350.5,380.3 351.0,380.7 351.5,381.3 352.0,381.7 352.5,382.0 353.0,382.1 353.5,382.0 354.0,381.8 354.5,381.4 355.0,380.9 355.5,380.7 356.1,380.9 356.6,381.4 357.1,381.8 357.6,382.0 358.1,382.2 358.6,382.2" fill="none" stroke="#000" stroke-width="1.05" stroke-linejoin="round"/>
<polyline points="360.4,382.2 360.9,382.1 361.4,381.9 361.9,381.6 362.4,381.4 362.9,381.5 363.4,381.6 364.0,381.6 364.5,381.7 365.0,381.8 365.5,381.8 366.0,381.9 366.5,381.9 367.0,381.9 367.5,382.0 368.0,382.0 368.5,382.0 369.0,382.0 369.5,382.1 370.1,382.1 370.6,382.1 371.1,382.1 371.6,382.1 372.1,382.1 372.6,382.1" fill="none" stroke="#000" stroke-width="1.05" stroke-linejoin="round"/>
<polyline points="374.4,382.2 374.9,382.2 375.4,382.2 375.9,382.2 376.4,382.2 376.9,382.1 377.4,381.9 378.0,381.6 378.5,381.4 379.0,381.5 379.5,381.6 380.0,381.6 380.5,381.7 381.0,381.8 381.5,381.8 382.0,381.9 382.5,381.9 383.0,381.9 383.5,382.0 384.1,382.0 384.6,382.0 385.1,382.0 385.6,382.1 386.1,382.1 386.6,382.1" fill="none" stroke="#000" stroke-width="1.05" stroke-linejoin="round"/>
<polyline points="346.4,390.9 346.9,390.9 347.4,390.9 347.9,390.3 348.4,389.7 348.9,389.2 349.4,388.9 350.0,388.9 350.5,388.9 351.0,388.9 351.5,388.9 352.0,388.9 352.5,388.9 353.0,388.9 353.5,388.9 354.0,388.9 354.5,388.9 355.0,388.9 355.5,389.2 356.1,389.6 356.6,390.0 357.1,390.4 357.6,390.9 358.1,390.9 358.6,390.9" fill="none" stroke="#000" stroke-width="1.05" stroke-linejoin="round"/>
<polyline points="360.4,390.9 360.9,390.9 361.4,390.9 361.9,390.9 362.4,390.9 362.9,390.8 363.4,390.5 364.0,390.0 364.5,389.7 365.0,389.8 365.5,390.0 366.0,390.1 366.5,390.2 367.0,390.3 367.5,390.4 368.0,390.4 368.5,390.5 369.0,390.5 369.5,390.6 370.1,390.6 370.6,390.6 371.1,390.7 371.6,390.7 372.1,390.7 372.6,390.8" fill="none" stroke="#000" stroke-width="1.05" stroke-linejoin="round"/>
<polyline points="374.4,390.9 374.9,390.9 375.4,390.9 375.9,390.9 376.4,390.8 376.9,390.8 377.4,390.7 378.0,390.6 378.5,390.4 379.0,390.3 379.5,390.3 380.0,390.3 380.5,390.3 381.0,390.4 381.5,390.5 382.0,390.6 382.5,390.7 383.0,390.8 383.5,390.8 384.1,390.9 384.6,390.9 385.1,390.9 385.6,390.9 386.1,390.9 386.6,390.9" fill="none" stroke="#000" stroke-width="1.05" stroke-linejoin="round"/>
<rect x="37.20" y="443.00" width="14.00" height="8.70" fill="rgb(250,242,0)"/>
<rect x="51.20" y="443.00" width="14.00" height="8.70" fill="rgb(0,200,140)"/>
<rect x="65.20" y="443.00" width="14.00" height="8.70" fill="rgb(0,110,235)"/>
<rect x="79.20" y="443.00" width="14.00" height="8.70" fill="rgb(0,20,210)"/>
<rect x="93.20" y="443.00" width="14.00" height="8.70" fill="rgb(0,20,210)"/>
<rect x="107.20" y="443.00" width="14.00" height="8.70" fill="rgb(0,20,210)"/>
<rect x="121.20" y="443.00" width="14.00" height="8.70" fill="rgb(0,20,210)"/>
<rect x="37.20" y="451.70" width="14.00" height="8.70" fill="rgb(0,60,233)"/>
<rect x="51.20" y="451.70" width="14.00" height="8.70" fill="rgb(0,20,210)"/>
<rect x="65.20" y="451.70" width="14.00" height="8.70" fill="rgb(0,20,210)"/>
<rect x="79.20" y="451.70" width="14.00" height="8.70" fill="rgb(0,60,233)"/>
<rect x="93.20" y="451.70" width="14.00" height="8.70" fill="rgb(0,60,233)"/>
<rect x="107.20" y="451.70" width="14.00" height="8.70" fill="rgb(0,20,210)"/>
<rect x="121.20" y="451.70" width="14.00" height="8.70" fill="rgb(0,20,210)"/>
<rect x="37.20" y="460.40" width="14.00" height="8.70" fill="rgb(0,110,235)"/>
<rect x="51.20" y="460.40" width="14.00" height="8.70" fill="rgb(0,20,210)"/>
<rect x="65.20" y="460.40" width="14.00" height="8.70" fill="rgb(0,200,140)"/>
<rect x="79.20" y="460.40" width="14.00" height="8.70" fill="rgb(22,232,92)"/>
<rect x="93.20" y="460.40" width="14.00" height="8.70" fill="rgb(0,165,180)"/>
<rect x="107.20" y="460.40" width="14.00" height="8.70" fill="rgb(0,20,210)"/>
<rect x="121.20" y="460.40" width="14.00" height="8.70" fill="rgb(22,232,92)"/>
<rect x="37.20" y="469.10" width="14.00" height="8.70" fill="rgb(0,200,140)"/>
<rect x="51.20" y="469.10" width="14.00" height="8.70" fill="rgb(0,60,233)"/>
<rect x="65.20" y="469.10" width="14.00" height="8.70" fill="rgb(0,60,233)"/>
<rect x="79.20" y="469.10" width="14.00" height="8.70" fill="rgb(0,110,235)"/>
<rect x="93.20" y="469.10" width="14.00" height="8.70" fill="rgb(22,232,92)"/>
<rect x="107.20" y="469.10" width="14.00" height="8.70" fill="rgb(90,238,30)"/>
<rect x="121.20" y="469.10" width="14.00" height="8.70" fill="rgb(250,242,0)"/>
<rect x="37.20" y="477.80" width="14.00" height="8.70" fill="rgb(22,232,92)"/>
<rect x="51.20" y="477.80" width="14.00" height="8.70" fill="rgb(0,20,210)"/>
<rect x="65.20" y="477.80" width="14.00" height="8.70" fill="rgb(0,60,233)"/>
<rect x="79.20" y="477.80" width="14.00" height="8.70" fill="rgb(0,200,140)"/>
<rect x="93.20" y="477.80" width="14.00" height="8.70" fill="rgb(255,160,0)"/>
<rect x="107.20" y="477.80" width="14.00" height="8.70" fill="rgb(255,72,0)"/>
<rect x="121.20" y="477.80" width="14.00" height="8.70" fill="rgb(235,15,0)"/>
<rect x="37.20" y="486.50" width="14.00" height="8.70" fill="rgb(0,60,233)"/>
<rect x="51.20" y="486.50" width="14.00" height="8.70" fill="rgb(0,20,210)"/>
<rect x="65.20" y="486.50" width="14.00" height="8.70" fill="rgb(0,165,180)"/>
<rect x="79.20" y="486.50" width="14.00" height="8.70" fill="rgb(190,245,0)"/>
<rect x="93.20" y="486.50" width="14.00" height="8.70" fill="rgb(255,100,0)"/>
<rect x="107.20" y="486.50" width="14.00" height="8.70" fill="rgb(255,160,0)"/>
<rect x="121.20" y="486.50" width="14.00" height="8.70" fill="rgb(255,212,0)"/>
<rect x="37.20" y="495.20" width="14.00" height="8.70" fill="rgb(0,20,210)"/>
<rect x="51.20" y="495.20" width="14.00" height="8.70" fill="rgb(0,20,210)"/>
<rect x="65.20" y="495.20" width="14.00" height="8.70" fill="rgb(0,200,140)"/>
<rect x="79.20" y="495.20" width="14.00" height="8.70" fill="rgb(255,212,0)"/>
<rect x="93.20" y="495.20" width="14.00" height="8.70" fill="rgb(250,242,0)"/>
<rect x="107.20" y="495.20" width="14.00" height="8.70" fill="rgb(250,242,0)"/>
<rect x="121.20" y="495.20" width="14.00" height="8.70" fill="rgb(255,160,0)"/>
<rect x="37.20" y="503.90" width="14.00" height="8.70" fill="rgb(0,110,235)"/>
<rect x="51.20" y="503.90" width="14.00" height="8.70" fill="rgb(0,165,180)"/>
<rect x="65.20" y="503.90" width="14.00" height="8.70" fill="rgb(0,110,235)"/>
<rect x="79.20" y="503.90" width="14.00" height="8.70" fill="rgb(250,242,0)"/>
<rect x="93.20" y="503.90" width="14.00" height="8.70" fill="rgb(90,238,30)"/>
<rect x="107.20" y="503.90" width="14.00" height="8.70" fill="rgb(190,245,0)"/>
<rect x="121.20" y="503.90" width="14.00" height="8.70" fill="rgb(255,160,0)"/>
<rect x="37.20" y="512.60" width="14.00" height="8.70" fill="rgb(90,238,30)"/>
<rect x="51.20" y="512.60" width="14.00" height="8.70" fill="rgb(22,232,92)"/>
<rect x="65.20" y="512.60" width="14.00" height="8.70" fill="rgb(190,245,0)"/>
<rect x="79.20" y="512.60" width="14.00" height="8.70" fill="rgb(255,212,0)"/>
<rect x="93.20" y="512.60" width="14.00" height="8.70" fill="rgb(0,200,140)"/>
<rect x="107.20" y="512.60" width="14.00" height="8.70" fill="rgb(22,232,92)"/>
<rect x="121.20" y="512.60" width="14.00" height="8.70" fill="rgb(90,238,30)"/>
<path d="M37.20 443.00V521.30M51.20 443.00V521.30M65.20 443.00V521.30M79.20 443.00V521.30M93.20 443.00V521.30M107.20 443.00V521.30M121.20 443.00V521.30M135.20 443.00V521.30M37.20 443.00H135.20M37.20 451.70H135.20M37.20 460.40H135.20M37.20 469.10H135.20M37.20 477.80H135.20M37.20 486.50H135.20M37.20 495.20H135.20M37.20 503.90H135.20M37.20 512.60H135.20M37.20 521.30H135.20" stroke="#000" stroke-width="1.2" fill="none"/>
<path d="M37.20 447.35h-3.60M135.20 447.35h3.60M37.20 456.05h-2.00M135.20 456.05h2.00M37.20 464.75h-3.60M135.20 464.75h3.60M37.20 473.45h-2.00M135.20 473.45h2.00M37.20 482.15h-3.60M135.20 482.15h3.60M37.20 490.85h-2.00M135.20 490.85h2.00M37.20 499.55h-3.60M135.20 499.55h3.60M37.20 508.25h-2.00M135.20 508.25h2.00M37.20 516.95h-3.60M135.20 516.95h3.60M44.20 443.00v-3.60M44.20 521.30v3.60M58.20 443.00v-2.00M58.20 521.30v2.00M72.20 443.00v-3.60M72.20 521.30v3.60M86.20 443.00v-2.00M86.20 521.30v2.00M100.20 443.00v-3.60M100.20 521.30v3.60M114.20 443.00v-2.00M114.20 521.30v2.00M128.20 443.00v-3.60M128.20 521.30v3.60" stroke="#333" stroke-width="0.9" fill="none"/>
<text x="32.20" y="451.85" text-anchor="end" font-size="12">&#8722;15</text>
<text x="32.20" y="469.25" text-anchor="end" font-size="12">&#8722;10</text>
<text x="32.20" y="486.65" text-anchor="end" font-size="12">&#8722;5</text>
<text x="32.20" y="504.05" text-anchor="end" font-size="12">0</text>
<text x="32.20" y="521.45" text-anchor="end" font-size="12">5</text>
<text x="44.20" y="535.30" text-anchor="middle" font-size="12">&#8722;24</text>
<text x="72.20" y="535.30" text-anchor="middle" font-size="12">&#8722;16</text>
<text x="100.20" y="535.30" text-anchor="middle" font-size="12">&#8722;8</text>
<text x="128.20" y="535.30" text-anchor="middle" font-size="12">0</text>
<polyline points="38.1,450.2 38.6,449.9 39.1,449.0 39.6,447.4 40.1,446.2 40.6,446.5 41.1,446.9 41.7,447.4 42.2,447.7 42.7,448.0 43.2,448.3 43.7,448.6 44.2,448.8 44.7,449.0 45.2,449.1 45.7,449.3 46.2,449.4 46.7,449.5 47.2,449.6 47.8,449.7 48.3,449.8 48.8,449.8 49.3,449.9 49.8,449.9 50.3,450.0" fill="none" stroke="#000" stroke-width="1.05" stroke-linejoin="round"/>
<polyline points="52.1,450.3 52.6,450.3 53.1,450.2 53.6,449.9 54.1,449.5 54.6,448.8 55.1,448.2 55.7,447.9 56.2,448.0 56.7,448.6 57.2,449.2 57.7,449.8 58.2,450.1 58.7,450.2 59.2,450.1 59.7,449.8 60.2,449.3 60.7,448.8 61.2,448.6 61.8,448.8 62.3,449.3 62.8,449.8 63.3,450.1 63.8,450.3 64.3,450.3" fill="none" stroke="#000" stroke-width="1.05" stroke-linejoin="round"/>
<polyline points="66.1,450.3 66.6,450.3 67.1,450.2 67.6,450.2 68.1,450.1 68.6,449.9 69.2,449.7 69.7,449.5 70.2,449.2 70.7,449.0 71.2,448.8 71.7,448.8 72.2,448.9 72.7,449.1 73.2,449.3 73.7,449.6 74.2,449.8 74.7,450.0 75.2,450.1 75.8,450.2 76.3,450.3 76.8,450.3 77.3,450.3 77.8,450.3 78.3,450.3" fill="none" stroke="#000" stroke-width="1.05" stroke-linejoin="round"/>
<polyline points="80.1,450.3 80.6,450.3 81.1,450.3 81.6,450.1 82.1,450.0 82.6,449.8 83.2,449.7 83.7,449.7 84.2,449.7 84.7,449.7 85.2,449.7 85.7,449.7 86.2,449.7 86.7,449.7 87.2,449.7 87.7,449.7 88.2,449.7 88.7,449.7 89.2,449.8 89.8,449.9 90.3,450.0 90.8,450.2 91.3,450.3 91.8,450.3 92.3,450.3" fill="none" stroke="#000" stroke-width="1.05" stroke-linejoin="round"/>
<polyline points="94.1,450.3 94.6,450.3 95.1,450.3 95.6,450.2 96.1,450.0 96.6,449.7 97.2,449.5 97.7,449.6 98.2,449.7 98.7,449.7 99.2,449.8 99.7,449.9 100.2,449.9 100.7,450.0 101.2,450.0 101.7,450.0 102.2,450.1 102.7,450.1 103.2,450.1 103.8,450.1 104.3,450.2 104.8,450.2 105.3,450.2 105.8,450.2 106.3,450.2" fill="none" stroke="#000" stroke-width="1.05" stroke-linejoin="round"/>
<polyline points="108.1,450.3 108.6,450.3 109.1,450.3 109.6,450.3 110.1,450.3 110.6,450.2 111.2,450.0 111.7,449.7 112.2,449.5 112.7,449.6 113.2,449.7 113.7,449.7 114.2,449.8 114.7,449.9 115.2,449.9 115.7,450.0 116.2,450.0 116.7,450.0 117.2,450.1 117.8,450.1 118.3,450.1 118.8,450.1 119.3,450.2 119.8,450.2 120.3,450.2" fill="none" stroke="#000" stroke-width="1.05" stroke-linejoin="round"/>
<polyline points="122.1,450.3 122.6,450.3 123.1,450.3 123.6,450.2 124.1,450.0 124.6,449.9 125.2,449.7 125.7,449.6 126.2,449.6 126.7,449.8 127.2,450.0 127.7,450.1 128.2,450.2 128.7,450.3 129.2,450.2 129.7,450.2 130.2,450.0 130.7,449.8 131.2,449.8 131.8,449.8 132.3,450.0 132.8,450.2 133.3,450.2 133.8,450.3 134.3,450.3" fill="none" stroke="#000" stroke-width="1.05" stroke-linejoin="round"/>
<polyline points="38.1,459.0 38.6,459.0 39.1,459.0 39.6,458.9 40.1,458.9 40.6,458.8 41.1,458.7 41.7,458.5 42.2,458.3 42.7,458.2 43.2,458.1 43.7,458.1 44.2,458.1 44.7,458.2 45.2,458.4 45.7,458.6 46.2,458.7 46.7,458.8 47.2,458.9 47.8,458.9 48.3,459.0 48.8,459.0 49.3,459.0 49.8,459.0 50.3,459.0" fill="none" stroke="#000" stroke-width="1.05" stroke-linejoin="round"/>
<polyline points="52.1,459.0 52.6,458.9 53.1,458.7 53.6,458.4 54.1,458.2 54.6,458.3 55.1,458.4 55.7,458.4 56.2,458.5 56.7,458.6 57.2,458.6 57.7,458.7 58.2,458.7 58.7,458.7 59.2,458.8 59.7,458.8 60.2,458.8 60.7,458.8 61.2,458.9 61.8,458.9 62.3,458.9 62.8,458.9 63.3,458.9 63.8,458.9 64.3,458.9" fill="none" stroke="#000" stroke-width="1.05" stroke-linejoin="round"/>
<polyline points="66.1,459.0 66.6,459.0 67.1,459.0 67.6,458.9 68.1,458.7 68.6,458.6 69.2,458.4 69.7,458.3 70.2,458.3 70.7,458.5 71.2,458.7 71.7,458.8 72.2,458.9 72.7,459.0 73.2,458.9 73.7,458.9 74.2,458.7 74.7,458.5 75.2,458.5 75.8,458.5 76.3,458.7 76.8,458.9 77.3,458.9 77.8,459.0 78.3,459.0" fill="none" stroke="#000" stroke-width="1.05" stroke-linejoin="round"/>
<polyline points="80.1,459.0 80.6,459.0 81.1,458.9 81.6,458.8 82.1,458.6 82.6,458.4 83.2,458.1 83.7,457.9 84.2,458.0 84.7,458.2 85.2,458.5 85.7,458.8 86.2,458.9 86.7,458.9 87.2,458.9 87.7,458.8 88.2,458.6 88.7,458.3 89.2,458.2 89.8,458.3 90.3,458.6 90.8,458.8 91.3,458.9 91.8,459.0 92.3,459.0" fill="none" stroke="#000" stroke-width="1.05" stroke-linejoin="round"/>
<polyline points="94.1,459.0 94.6,459.0 95.1,459.0 95.6,458.7 96.1,458.5 96.6,458.2 97.2,458.1 97.7,458.1 98.2,458.1 98.7,458.1 99.2,458.1 99.7,458.1 100.2,458.1 100.7,458.1 101.2,458.1 101.7,458.1 102.2,458.1 102.7,458.1 103.2,458.3 103.8,458.4 104.3,458.6 104.8,458.8 105.3,459.0 105.8,459.0 106.3,459.0" fill="none" stroke="#000" stroke-width="1.05" stroke-linejoin="round"/>
<polyline points="108.1,459.0 108.6,459.0 109.1,459.0 109.6,459.0 110.1,459.0 110.6,458.9 111.2,458.7 111.7,458.4 112.2,458.2 112.7,458.3 113.2,458.4 113.7,458.4 114.2,458.5 114.7,458.6 115.2,458.6 115.7,458.7 116.2,458.7 116.7,458.7 117.2,458.8 117.8,458.8 118.3,458.8 118.8,458.8 119.3,458.9 119.8,458.9 120.3,458.9" fill="none" stroke="#000" stroke-width="1.05" stroke-linejoin="round"/>
<polyline points="122.1,459.0 122.6,459.0 123.1,459.0 123.6,459.0 124.1,458.9 124.6,458.9 125.2,458.8 125.7,458.7 126.2,458.5 126.7,458.4 127.2,458.4 127.7,458.4 128.2,458.4 128.7,458.5 129.2,458.6 129.7,458.7 130.2,458.8 130.7,458.9 131.2,458.9 131.8,459.0 132.3,459.0 132.8,459.0 133.3,459.0 133.8,459.0 134.3,459.0" fill="none" stroke="#000" stroke-width="1.05" stroke-linejoin="round"/>
<polyline points="38.1,467.7 38.6,467.7 39.1,467.6 39.6,467.6 40.1,467.5 40.6,467.3 41.1,467.1 41.7,466.9 42.2,466.6 42.7,466.4 43.2,466.2 43.7,466.2 44.2,466.3 44.7,466.5 45.2,466.7 45.7,467.0 46.2,467.2 46.7,467.4 47.2,467.5 47.8,467.6 48.3,467.7 48.8,467.7 49.3,467.7 49.8,467.7 50.3,467.7" fill="none" stroke="#000" stroke-width="1.05" stroke-linejoin="round"/>
<polyline points="52.1,467.7 52.6,467.7 53.1,467.7 53.6,467.7 54.1,467.7 54.6,467.6 55.1,467.4 55.7,467.1 56.2,466.9 56.7,467.0 57.2,467.1 57.7,467.1 58.2,467.2 58.7,467.3 59.2,467.3 59.7,467.4 60.2,467.4 60.7,467.4 61.2,467.5 61.8,467.5 62.3,467.5 62.8,467.5 63.3,467.6 63.8,467.6 64.3,467.6" fill="none" stroke="#000" stroke-width="1.05" stroke-linejoin="round"/>
<polyline points="66.1,467.7 66.6,467.7 67.1,467.7 67.6,467.1 68.1,466.5 68.6,466.0 69.2,465.7 69.7,465.7 70.2,465.7 70.7,465.7 71.2,465.7 71.7,465.7 72.2,465.7 72.7,465.7 73.2,465.7 73.7,465.7 74.2,465.7 74.7,465.7 75.2,466.0 75.8,466.4 76.3,466.8 76.8,467.2 77.3,467.7 77.8,467.7 78.3,467.7" fill="none" stroke="#000" stroke-width="1.05" stroke-linejoin="round"/>
<polyline points="80.1,467.7 80.6,467.6 81.1,467.5 81.6,467.3 82.1,466.7 82.6,466.0 83.2,465.3 83.7,465.0 84.2,465.1 84.7,465.7 85.2,466.5 85.7,467.1 86.2,467.4 86.7,467.6 87.2,467.5 87.7,467.1 88.2,466.6 88.7,466.0 89.2,465.7 89.8,466.0 90.3,466.6 90.8,467.2 91.3,467.5 91.8,467.6 92.3,467.7" fill="none" stroke="#000" stroke-width="1.05" stroke-linejoin="round"/>
<polyline points="94.1,467.7 94.6,467.7 95.1,467.6 95.6,467.6 96.1,467.5 96.6,467.3 97.2,467.0 97.7,466.7 98.2,466.4 98.7,466.1 99.2,465.9 99.7,465.9 100.2,466.0 100.7,466.2 101.2,466.5 101.7,466.8 102.2,467.1 102.7,467.4 103.2,467.5 103.8,467.6 104.3,467.7 104.8,467.7 105.3,467.7 105.8,467.7 106.3,467.7" fill="none" stroke="#000" stroke-width="1.05" stroke-linejoin="round"/>
<polyline points="108.1,467.7 108.6,467.7 109.1,467.7 109.6,467.7 110.1,467.7 110.6,467.6 111.2,467.4 111.7,467.1 112.2,466.9 112.7,467.0 113.2,467.1 113.7,467.1 114.2,467.2 114.7,467.3 115.2,467.3 115.7,467.4 116.2,467.4 116.7,467.4 117.2,467.5 117.8,467.5 118.3,467.5 118.8,467.5 119.3,467.6 119.8,467.6 120.3,467.6" fill="none" stroke="#000" stroke-width="1.05" stroke-linejoin="round"/>
<polyline points="122.1,467.7 122.6,467.7 123.1,467.6 123.6,467.0 124.1,466.4 124.6,465.7 125.2,465.4 125.7,465.4 126.2,465.4 126.7,465.4 127.2,465.4 127.7,465.4 128.2,465.4 128.7,465.4 129.2,465.4 129.7,465.4 130.2,465.4 130.7,465.4 131.2,465.8 131.8,466.2 132.3,466.7 132.8,467.2 133.3,467.7 133.8,467.7 134.3,467.7" fill="none" stroke="#000" stroke-width="1.05" stroke-linejoin="round"/>
<polyline points="38.1,476.4 38.6,476.1 39.1,475.6 39.6,474.6 40.1,473.8 40.6,474.0 41.1,474.3 41.7,474.5 42.2,474.7 42.7,474.9 43.2,475.1 43.7,475.3 44.2,475.4 44.7,475.5 45.2,475.6 45.7,475.7 46.2,475.8 46.7,475.9 47.2,475.9 47.8,476.0 48.3,476.1 48.8,476.1 49.3,476.1 49.8,476.2 50.3,476.2" fill="none" stroke="#000" stroke-width="1.05" stroke-linejoin="round"/>
<polyline points="52.1,476.4 52.6,476.4 53.1,476.3 53.6,476.2 54.1,476.0 54.6,475.8 55.1,475.5 55.7,475.3 56.2,475.4 56.7,475.6 57.2,475.9 57.7,476.2 58.2,476.3 58.7,476.3 59.2,476.3 59.7,476.2 60.2,476.0 60.7,475.7 61.2,475.6 61.8,475.7 62.3,476.0 62.8,476.2 63.3,476.3 63.8,476.4 64.3,476.4" fill="none" stroke="#000" stroke-width="1.05" stroke-linejoin="round"/>
<polyline points="66.1,476.4 66.6,476.4 67.1,476.4 67.6,476.4 68.1,476.4 68.6,476.3 69.2,476.0 69.7,475.5 70.2,475.2 70.7,475.3 71.2,475.5 71.7,475.6 72.2,475.7 72.7,475.8 73.2,475.9 73.7,475.9 74.2,476.0 74.7,476.0 75.2,476.1 75.8,476.1 76.3,476.1 76.8,476.2 77.3,476.2 77.8,476.2 78.3,476.3" fill="none" stroke="#000" stroke-width="1.05" stroke-linejoin="round"/>
<polyline points="80.1,476.4 80.6,476.2 81.1,475.8 81.6,475.1 82.1,474.5 82.6,474.6 83.2,474.9 83.7,475.0 84.2,475.2 84.7,475.4 85.2,475.5 85.7,475.6 86.2,475.7 86.7,475.8 87.2,475.9 87.7,475.9 88.2,476.0 88.7,476.0 89.2,476.1 89.8,476.1 90.3,476.2 90.8,476.2 91.3,476.2 91.8,476.2 92.3,476.3" fill="none" stroke="#000" stroke-width="1.05" stroke-linejoin="round"/>
<polyline points="94.1,476.4 94.6,476.3 95.1,476.2 95.6,476.0 96.1,475.4 96.6,474.7 97.2,474.0 97.7,473.7 98.2,473.8 98.7,474.4 99.2,475.2 99.7,475.8 100.2,476.1 100.7,476.3 101.2,476.2 101.7,475.8 102.2,475.3 102.7,474.7 103.2,474.4 103.8,474.7 104.3,475.3 104.8,475.9 105.3,476.2 105.8,476.3 106.3,476.4" fill="none" stroke="#000" stroke-width="1.05" stroke-linejoin="round"/>
<polyline points="108.1,476.4 108.6,476.4 109.1,476.4 109.6,476.4 110.1,476.3 110.6,476.0 111.2,475.1 111.7,473.8 112.2,473.0 112.7,473.3 113.2,473.7 113.7,474.0 114.2,474.3 114.7,474.6 115.2,474.8 115.7,475.0 116.2,475.2 116.7,475.3 117.2,475.4 117.8,475.6 118.3,475.7 118.8,475.8 119.3,475.8 119.8,475.9 120.3,476.0" fill="none" stroke="#000" stroke-width="1.05" stroke-linejoin="round"/>
<polyline points="122.1,476.3 122.6,476.0 123.1,475.1 123.6,473.5 124.1,472.3 124.6,472.6 125.2,473.0 125.7,473.5 126.2,473.8 126.7,474.1 127.2,474.4 127.7,474.7 128.2,474.9 128.7,475.1 129.2,475.2 129.7,475.4 130.2,475.5 130.7,475.6 131.2,475.7 131.8,475.8 132.3,475.9 132.8,475.9 133.3,476.0 133.8,476.0 134.3,476.1" fill="none" stroke="#000" stroke-width="1.05" stroke-linejoin="round"/>
<polyline points="38.1,485.1 38.6,485.1 39.1,485.0 39.6,484.8 40.1,484.1 40.6,482.9 41.1,482.1 41.7,482.3 42.2,482.7 42.7,483.0 43.2,483.2 43.7,483.5 44.2,483.7 44.7,483.8 45.2,484.0 45.7,484.1 46.2,484.2 46.7,484.3 47.2,484.4 47.8,484.5 48.3,484.6 48.8,484.7 49.3,484.7 49.8,484.8 50.3,484.8" fill="none" stroke="#000" stroke-width="1.05" stroke-linejoin="round"/>
<polyline points="52.1,485.1 52.6,485.0 53.1,484.8 53.6,484.5 54.1,484.3 54.6,484.4 55.1,484.5 55.7,484.5 56.2,484.6 56.7,484.7 57.2,484.7 57.7,484.8 58.2,484.8 58.7,484.8 59.2,484.9 59.7,484.9 60.2,484.9 60.7,484.9 61.2,485.0 61.8,485.0 62.3,485.0 62.8,485.0 63.3,485.0 63.8,485.0 64.3,485.0" fill="none" stroke="#000" stroke-width="1.05" stroke-linejoin="round"/>
<polyline points="66.1,485.1 66.6,485.1 67.1,485.1 67.6,485.0 68.1,485.0 68.6,484.9 69.2,484.8 69.7,484.6 70.2,484.4 70.7,484.3 71.2,484.2 71.7,484.2 72.2,484.2 72.7,484.3 73.2,484.5 73.7,484.7 74.2,484.8 74.7,484.9 75.2,485.0 75.8,485.0 76.3,485.1 76.8,485.1 77.3,485.1 77.8,485.1 78.3,485.1" fill="none" stroke="#000" stroke-width="1.05" stroke-linejoin="round"/>
<polyline points="80.1,485.1 80.6,485.1 81.1,485.0 81.6,484.9 82.1,484.8 82.6,484.6 83.2,484.3 83.7,484.0 84.2,483.6 84.7,483.2 85.2,483.0 85.7,483.0 86.2,483.1 86.7,483.4 87.2,483.7 87.7,484.1 88.2,484.4 88.7,484.7 89.2,484.9 89.8,485.0 90.3,485.0 90.8,485.1 91.3,485.1 91.8,485.1 92.3,485.1" fill="none" stroke="#000" stroke-width="1.05" stroke-linejoin="round"/>
<polyline points="94.1,485.0 94.6,484.6 95.1,483.5 95.6,481.7 96.1,480.3 96.6,480.6 97.2,481.1 97.7,481.6 98.2,482.0 98.7,482.4 99.2,482.7 99.7,483.0 100.2,483.3 100.7,483.5 101.2,483.7 101.7,483.9 102.2,484.0 102.7,484.2 103.2,484.3 103.8,484.4 104.3,484.5 104.8,484.5 105.3,484.6 105.8,484.7 106.3,484.7" fill="none" stroke="#000" stroke-width="1.05" stroke-linejoin="round"/>
<polyline points="108.1,485.1 108.6,485.1 109.1,485.1 109.6,485.1 110.1,485.0 110.6,484.4 111.2,482.9 111.7,480.6 112.2,479.1 112.7,479.7 113.2,480.3 113.7,480.9 114.2,481.4 114.7,481.9 115.2,482.3 115.7,482.6 116.2,482.9 116.7,483.2 117.2,483.4 117.8,483.6 118.3,483.8 118.8,484.0 119.3,484.1 119.8,484.2 120.3,484.3" fill="none" stroke="#000" stroke-width="1.05" stroke-linejoin="round"/>
<polyline points="122.1,485.1 122.6,485.1 123.1,485.0 123.6,484.4 124.1,482.9 124.6,480.5 125.2,478.8 125.7,479.3 126.2,480.0 126.7,480.6 127.2,481.2 127.7,481.6 128.2,482.1 128.7,482.4 129.2,482.8 129.7,483.0 130.2,483.3 130.7,483.5 131.2,483.7 131.8,483.9 132.3,484.0 132.8,484.2 133.3,484.3 133.8,484.4 134.3,484.5" fill="none" stroke="#000" stroke-width="1.05" stroke-linejoin="round"/>
<polyline points="38.1,493.8 38.6,493.8 39.1,493.7 39.6,493.6 40.1,493.4 40.6,493.2 41.1,492.9 41.7,492.7 42.2,492.8 42.7,493.0 43.2,493.3 43.7,493.6 44.2,493.7 44.7,493.7 45.2,493.7 45.7,493.6 46.2,493.4 46.7,493.1 47.2,493.0 47.8,493.1 48.3,493.4 48.8,493.6 49.3,493.7 49.8,493.8 50.3,493.8" fill="none" stroke="#000" stroke-width="1.05" stroke-linejoin="round"/>
<polyline points="52.1,493.8 52.6,493.8 53.1,493.8 53.6,493.8 54.1,493.8 54.6,493.7 55.1,493.5 55.7,493.2 56.2,493.0 56.7,493.1 57.2,493.2 57.7,493.2 58.2,493.3 58.7,493.4 59.2,493.4 59.7,493.5 60.2,493.5 60.7,493.5 61.2,493.6 61.8,493.6 62.3,493.6 62.8,493.6 63.3,493.7 63.8,493.7 64.3,493.7" fill="none" stroke="#000" stroke-width="1.05" stroke-linejoin="round"/>
<polyline points="66.1,493.8 66.6,493.8 67.1,493.7 67.6,493.5 68.1,493.1 68.6,492.5 69.2,492.0 69.7,491.7 70.2,491.9 70.7,492.3 71.2,492.9 71.7,493.3 72.2,493.6 72.7,493.7 73.2,493.6 73.7,493.4 74.2,493.0 74.7,492.5 75.2,492.3 75.8,492.5 76.3,493.0 76.8,493.4 77.3,493.6 77.8,493.8 78.3,493.8" fill="none" stroke="#000" stroke-width="1.05" stroke-linejoin="round"/>
<polyline points="80.1,493.8 80.6,493.8 81.1,493.8 81.6,493.8 82.1,493.7 82.6,493.4 83.2,492.4 83.7,491.0 84.2,490.0 84.7,490.4 85.2,490.8 85.7,491.2 86.2,491.5 86.7,491.8 87.2,492.0 87.7,492.2 88.2,492.4 88.7,492.6 89.2,492.7 89.8,492.9 90.3,493.0 90.8,493.1 91.3,493.2 91.8,493.2 92.3,493.3" fill="none" stroke="#000" stroke-width="1.05" stroke-linejoin="round"/>
<polyline points="94.1,493.8 94.6,493.7 95.1,493.5 95.6,493.0 96.1,492.0 96.6,490.7 97.2,489.4 97.7,488.7 98.2,489.0 98.7,490.1 99.2,491.5 99.7,492.6 100.2,493.3 100.7,493.5 101.2,493.4 101.7,492.8 102.2,491.7 102.7,490.6 103.2,490.1 103.8,490.6 104.3,491.7 104.8,492.8 105.3,493.4 105.8,493.7 106.3,493.8" fill="none" stroke="#000" stroke-width="1.05" stroke-linejoin="round"/>
<polyline points="108.1,493.8 108.6,493.8 109.1,493.8 109.6,493.8 110.1,493.7 110.6,493.2 111.2,492.0 111.7,490.1 112.2,488.9 112.7,489.4 113.2,489.9 113.7,490.4 114.2,490.8 114.7,491.2 115.2,491.5 115.7,491.8 116.2,492.0 116.7,492.2 117.2,492.4 117.8,492.6 118.3,492.7 118.8,492.9 119.3,493.0 119.8,493.1 120.3,493.2" fill="none" stroke="#000" stroke-width="1.05" stroke-linejoin="round"/>
<polyline points="122.1,493.8 122.6,493.7 123.1,493.5 123.6,493.1 124.1,492.4 124.6,491.3 125.2,490.3 125.7,489.7 126.2,490.0 126.7,490.9 127.2,492.0 127.7,492.9 128.2,493.4 128.7,493.6 129.2,493.5 129.7,493.0 130.2,492.1 130.7,491.2 131.2,490.8 131.8,491.2 132.3,492.1 132.8,493.0 133.3,493.5 133.8,493.7 134.3,493.8" fill="none" stroke="#000" stroke-width="1.05" stroke-linejoin="round"/>
<polyline points="38.1,502.5 38.6,502.5 39.1,502.5 39.6,502.4 40.1,502.2 40.6,502.1 41.1,501.9 41.7,501.8 42.2,501.8 42.7,502.0 43.2,502.2 43.7,502.3 44.2,502.4 44.7,502.5 45.2,502.4 45.7,502.4 46.2,502.2 46.7,502.0 47.2,502.0 47.8,502.0 48.3,502.2 48.8,502.4 49.3,502.4 49.8,502.5 50.3,502.5" fill="none" stroke="#000" stroke-width="1.05" stroke-linejoin="round"/>
<polyline points="52.1,502.5 52.6,502.5 53.1,502.5 53.6,502.4 54.1,502.2 54.6,502.1 55.1,501.9 55.7,501.8 56.2,501.8 56.7,502.0 57.2,502.2 57.7,502.3 58.2,502.4 58.7,502.5 59.2,502.4 59.7,502.4 60.2,502.2 60.7,502.0 61.2,502.0 61.8,502.0 62.3,502.2 62.8,502.4 63.3,502.4 63.8,502.5 64.3,502.5" fill="none" stroke="#000" stroke-width="1.05" stroke-linejoin="round"/>
<polyline points="66.1,502.5 66.6,502.5 67.1,502.5 67.6,501.9 68.1,501.3 68.6,500.8 69.2,500.5 69.7,500.5 70.2,500.5 70.7,500.5 71.2,500.5 71.7,500.5 72.2,500.5 72.7,500.5 73.2,500.5 73.7,500.5 74.2,500.5 74.7,500.5 75.2,500.8 75.8,501.2 76.3,501.6 76.8,502.0 77.3,502.5 77.8,502.5 78.3,502.5" fill="none" stroke="#000" stroke-width="1.05" stroke-linejoin="round"/>
<polyline points="80.1,502.5 80.6,502.5 81.1,502.4 81.6,501.5 82.1,500.5 82.6,499.6 83.2,499.1 83.7,499.1 84.2,499.1 84.7,499.1 85.2,499.1 85.7,499.1 86.2,499.1 86.7,499.1 87.2,499.1 87.7,499.1 88.2,499.1 88.7,499.1 89.2,499.6 89.8,500.3 90.3,501.0 90.8,501.7 91.3,502.4 91.8,502.5 92.3,502.5" fill="none" stroke="#000" stroke-width="1.05" stroke-linejoin="round"/>
<polyline points="94.1,502.5 94.6,502.5 95.1,502.4 95.6,502.1 96.1,501.1 96.6,499.5 97.2,498.4 97.7,498.7 98.2,499.2 98.7,499.6 99.2,499.9 99.7,500.3 100.2,500.5 100.7,500.8 101.2,501.0 101.7,501.2 102.2,501.3 102.7,501.5 103.2,501.6 103.8,501.7 104.3,501.8 104.8,501.9 105.3,502.0 105.8,502.0 106.3,502.1" fill="none" stroke="#000" stroke-width="1.05" stroke-linejoin="round"/>
<polyline points="108.1,502.5 108.6,502.5 109.1,502.5 109.6,502.5 110.1,502.4 110.6,502.0 111.2,501.0 111.7,499.4 112.2,498.3 112.7,498.8 113.2,499.2 113.7,499.6 114.2,500.0 114.7,500.3 115.2,500.5 115.7,500.8 116.2,501.0 116.7,501.2 117.2,501.3 117.8,501.5 118.3,501.6 118.8,501.7 119.3,501.8 119.8,501.9 120.3,502.0" fill="none" stroke="#000" stroke-width="1.05" stroke-linejoin="round"/>
<polyline points="122.1,502.4 122.6,502.0 123.1,500.9 123.6,499.1 124.1,497.7 124.6,498.0 125.2,498.5 125.7,499.0 126.2,499.4 126.7,499.8 127.2,500.1 127.7,500.4 128.2,500.7 128.7,500.9 129.2,501.1 129.7,501.3 130.2,501.4 130.7,501.6 131.2,501.7 131.8,501.8 132.3,501.9 132.8,501.9 133.3,502.0 133.8,502.1 134.3,502.1" fill="none" stroke="#000" stroke-width="1.05" stroke-linejoin="round"/>
<polyline points="38.1,511.2 38.6,511.2 39.1,511.1 39.6,510.9 40.1,510.6 40.6,510.1 41.1,509.7 41.7,509.5 42.2,509.6 42.7,510.0 43.2,510.4 43.7,510.8 44.2,511.0 44.7,511.1 45.2,511.1 45.7,510.9 46.2,510.5 46.7,510.1 47.2,509.9 47.8,510.1 48.3,510.5 48.8,510.9 49.3,511.1 49.8,511.2 50.3,511.2" fill="none" stroke="#000" stroke-width="1.05" stroke-linejoin="round"/>
<polyline points="52.1,511.2 52.6,511.0 53.1,510.5 53.6,509.6 54.1,508.9 54.6,509.1 55.1,509.4 55.7,509.6 56.2,509.8 56.7,509.9 57.2,510.1 57.7,510.2 58.2,510.4 58.7,510.5 59.2,510.5 59.7,510.6 60.2,510.7 60.7,510.8 61.2,510.8 61.8,510.9 62.3,510.9 62.8,510.9 63.3,511.0 63.8,511.0 64.3,511.0" fill="none" stroke="#000" stroke-width="1.05" stroke-linejoin="round"/>
<polyline points="66.1,511.2 66.6,511.2 67.1,511.2 67.6,511.2 68.1,511.2 68.6,511.0 69.2,510.5 69.7,509.8 70.2,509.3 70.7,509.5 71.2,509.7 71.7,509.9 72.2,510.0 72.7,510.2 73.2,510.3 73.7,510.4 74.2,510.5 74.7,510.6 75.2,510.7 75.8,510.7 76.3,510.8 76.8,510.8 77.3,510.9 77.8,510.9 78.3,511.0" fill="none" stroke="#000" stroke-width="1.05" stroke-linejoin="round"/>
<polyline points="80.1,511.2 80.6,511.1 81.1,511.0 81.6,510.6 82.1,509.9 82.6,508.9 83.2,508.0 83.7,507.5 84.2,507.7 84.7,508.5 85.2,509.5 85.7,510.3 86.2,510.8 86.7,511.0 87.2,510.9 87.7,510.4 88.2,509.7 88.7,508.8 89.2,508.5 89.8,508.8 90.3,509.7 90.8,510.5 91.3,510.9 91.8,511.1 92.3,511.2" fill="none" stroke="#000" stroke-width="1.05" stroke-linejoin="round"/>
<polyline points="94.1,511.1 94.6,510.9 95.1,510.1 95.6,508.8 96.1,507.8 96.6,508.1 97.2,508.4 97.7,508.8 98.2,509.1 98.7,509.3 99.2,509.6 99.7,509.8 100.2,509.9 100.7,510.1 101.2,510.2 101.7,510.3 102.2,510.5 102.7,510.5 103.2,510.6 103.8,510.7 104.3,510.8 104.8,510.8 105.3,510.9 105.8,510.9 106.3,510.9" fill="none" stroke="#000" stroke-width="1.05" stroke-linejoin="round"/>
<polyline points="108.1,511.2 108.6,511.2 109.1,511.2 109.6,511.2 110.1,511.1 110.6,510.8 111.2,509.8 111.7,508.4 112.2,507.4 112.7,507.8 113.2,508.2 113.7,508.6 114.2,508.9 114.7,509.2 115.2,509.4 115.7,509.6 116.2,509.8 116.7,510.0 117.2,510.1 117.8,510.3 118.3,510.4 118.8,510.5 119.3,510.6 119.8,510.6 120.3,510.7" fill="none" stroke="#000" stroke-width="1.05" stroke-linejoin="round"/>
<polyline points="122.1,511.2 122.6,511.1 123.1,510.9 123.6,510.5 124.1,509.7 124.6,508.5 125.2,507.4 125.7,506.8 126.2,507.0 126.7,508.0 127.2,509.2 127.7,510.2 128.2,510.8 128.7,511.0 129.2,510.8 129.7,510.3 130.2,509.4 130.7,508.4 131.2,508.0 131.8,508.4 132.3,509.4 132.8,510.3 133.3,510.9 133.8,511.1 134.3,511.2" fill="none" stroke="#000" stroke-width="1.05" stroke-linejoin="round"/>
<polyline points="38.1,519.9 38.6,519.9 39.1,519.8 39.6,519.1 40.1,518.4 40.6,517.7 41.1,517.3 41.7,517.3 42.2,517.3 42.7,517.3 43.2,517.3 43.7,517.3 44.2,517.3 44.7,517.3 45.2,517.3 45.7,517.3 46.2,517.3 46.7,517.3 47.2,517.7 47.8,518.3 48.3,518.8 48.8,519.3 49.3,519.9 49.8,519.9 50.3,519.9" fill="none" stroke="#000" stroke-width="1.05" stroke-linejoin="round"/>
<polyline points="52.1,519.9 52.6,519.9 53.1,519.9 53.6,519.9 54.1,519.8 54.6,519.5 55.1,518.8 55.7,517.6 56.2,516.9 56.7,517.2 57.2,517.5 57.7,517.8 58.2,518.1 58.7,518.3 59.2,518.5 59.7,518.6 60.2,518.8 60.7,518.9 61.2,519.1 61.8,519.2 62.3,519.2 62.8,519.3 63.3,519.4 63.8,519.5 64.3,519.5" fill="none" stroke="#000" stroke-width="1.05" stroke-linejoin="round"/>
<polyline points="66.1,519.9 66.6,519.9 67.1,519.8 67.6,519.7 68.1,519.5 68.6,519.2 69.2,518.8 69.7,518.3 70.2,517.7 70.7,517.3 71.2,516.9 71.7,516.9 72.2,517.0 72.7,517.4 73.2,518.0 73.7,518.5 74.2,519.0 74.7,519.3 75.2,519.6 75.8,519.7 76.3,519.8 76.8,519.9 77.3,519.9 77.8,519.9 78.3,519.9" fill="none" stroke="#000" stroke-width="1.05" stroke-linejoin="round"/>
<polyline points="80.1,519.9 80.6,519.8 81.1,519.6 81.6,519.2 82.1,518.5 82.6,517.4 83.2,516.4 83.7,515.8 84.2,516.1 84.7,517.0 85.2,518.1 85.7,519.0 86.2,519.5 86.7,519.7 87.2,519.6 87.7,519.1 88.2,518.2 88.7,517.3 89.2,516.9 89.8,517.3 90.3,518.2 90.8,519.1 91.3,519.6 91.8,519.8 92.3,519.9" fill="none" stroke="#000" stroke-width="1.05" stroke-linejoin="round"/>
<polyline points="94.1,519.9 94.6,519.9 95.1,519.9 95.6,519.3 96.1,518.7 96.6,518.2 97.2,517.9 97.7,517.9 98.2,517.9 98.7,517.9 99.2,517.9 99.7,517.9 100.2,517.9 100.7,517.9 101.2,517.9 101.7,517.9 102.2,517.9 102.7,517.9 103.2,518.2 103.8,518.6 104.3,519.0 104.8,519.4 105.3,519.9 105.8,519.9 106.3,519.9" fill="none" stroke="#000" stroke-width="1.05" stroke-linejoin="round"/>
<polyline points="108.1,519.9 108.6,519.9 109.1,519.9 109.6,519.9 110.1,519.8 110.6,519.5 111.2,518.8 111.7,517.6 112.2,516.9 112.7,517.2 113.2,517.5 113.7,517.8 114.2,518.1 114.7,518.3 115.2,518.5 115.7,518.6 116.2,518.8 116.7,518.9 117.2,519.1 117.8,519.2 118.3,519.2 118.8,519.3 119.3,519.4 119.8,519.5 120.3,519.5" fill="none" stroke="#000" stroke-width="1.05" stroke-linejoin="round"/>
<polyline points="122.1,519.9 122.6,519.9 123.1,519.8 123.6,519.7 124.1,519.5 124.6,519.3 125.2,518.9 125.7,518.4 126.2,518.0 126.7,517.5 127.2,517.2 127.7,517.2 128.2,517.3 128.7,517.7 129.2,518.1 129.7,518.6 130.2,519.1 130.7,519.4 131.2,519.6 131.8,519.8 132.3,519.8 132.8,519.9 133.3,519.9 133.8,519.9 134.3,519.9" fill="none" stroke="#000" stroke-width="1.05" stroke-linejoin="round"/>
<rect x="171.00" y="443.00" width="14.00" height="8.70" fill="rgb(22,232,92)"/>
<rect x="185.00" y="443.00" width="14.00" height="8.70" fill="rgb(90,238,30)"/>
<rect x="199.00" y="443.00" width="14.00" height="8.70" fill="rgb(0,110,235)"/>
<rect x="213.00" y="443.00" width="14.00" height="8.70" fill="rgb(90,238,30)"/>
<rect x="227.00" y="443.00" width="14.00" height="8.70" fill="rgb(0,20,210)"/>
<rect x="241.00" y="443.00" width="14.00" height="8.70" fill="rgb(0,20,210)"/>
<rect x="255.00" y="443.00" width="14.00" height="8.70" fill="rgb(0,20,210)"/>
<rect x="269.00" y="443.00" width="14.00" height="8.70" fill="rgb(90,238,30)"/>
<rect x="283.00" y="443.00" width="14.00" height="8.70" fill="rgb(0,60,233)"/>
<rect x="297.00" y="443.00" width="14.00" height="8.70" fill="rgb(0,60,233)"/>
<rect x="171.00" y="451.70" width="14.00" height="8.70" fill="rgb(22,232,92)"/>
<rect x="185.00" y="451.70" width="14.00" height="8.70" fill="rgb(90,238,30)"/>
<rect x="199.00" y="451.70" width="14.00" height="8.70" fill="rgb(190,245,0)"/>
<rect x="213.00" y="451.70" width="14.00" height="8.70" fill="rgb(250,242,0)"/>
<rect x="227.00" y="451.70" width="14.00" height="8.70" fill="rgb(0,60,233)"/>
<rect x="241.00" y="451.70" width="14.00" height="8.70" fill="rgb(0,110,235)"/>
<rect x="255.00" y="451.70" width="14.00" height="8.70" fill="rgb(22,232,92)"/>
<rect x="269.00" y="451.70" width="14.00" height="8.70" fill="rgb(0,200,140)"/>
<rect x="283.00" y="451.70" width="14.00" height="8.70" fill="rgb(0,20,210)"/>
<rect x="297.00" y="451.70" width="14.00" height="8.70" fill="rgb(250,242,0)"/>
<rect x="171.00" y="460.40" width="14.00" height="8.70" fill="rgb(90,238,30)"/>
<rect x="185.00" y="460.40" width="14.00" height="8.70" fill="rgb(0,200,140)"/>
<rect x="199.00" y="460.40" width="14.00" height="8.70" fill="rgb(250,242,0)"/>
<rect x="213.00" y="460.40" width="14.00" height="8.70" fill="rgb(250,242,0)"/>
<rect x="227.00" y="460.40" width="14.00" height="8.70" fill="rgb(0,165,180)"/>
<rect x="241.00" y="460.40" width="14.00" height="8.70" fill="rgb(90,238,30)"/>
<rect x="255.00" y="460.40" width="14.00" height="8.70" fill="rgb(22,232,92)"/>
<rect x="269.00" y="460.40" width="14.00" height="8.70" fill="rgb(0,165,180)"/>
<rect x="283.00" y="460.40" width="14.00" height="8.70" fill="rgb(0,200,140)"/>
<rect x="297.00" y="460.40" width="14.00" height="8.70" fill="rgb(190,245,0)"/>
<rect x="171.00" y="469.10" width="14.00" height="8.70" fill="rgb(22,232,92)"/>
<rect x="185.00" y="469.10" width="14.00" height="8.70" fill="rgb(0,60,233)"/>
<rect x="199.00" y="469.10" width="14.00" height="8.70" fill="rgb(22,232,92)"/>
<rect x="213.00" y="469.10" width="14.00" height="8.70" fill="rgb(190,245,0)"/>
<rect x="227.00" y="469.10" width="14.00" height="8.70" fill="rgb(22,232,92)"/>
<rect x="241.00" y="469.10" width="14.00" height="8.70" fill="rgb(190,245,0)"/>
<rect x="255.00" y="469.10" width="14.00" height="8.70" fill="rgb(250,242,0)"/>
<rect x="269.00" y="469.10" width="14.00" height="8.70" fill="rgb(255,160,0)"/>
<rect x="283.00" y="469.10" width="14.00" height="8.70" fill="rgb(250,242,0)"/>
<rect x="297.00" y="469.10" width="14.00" height="8.70" fill="rgb(255,212,0)"/>
<rect x="171.00" y="477.80" width="14.00" height="8.70" fill="rgb(22,232,92)"/>
<rect x="185.00" y="477.80" width="14.00" height="8.70" fill="rgb(22,232,92)"/>
<rect x="199.00" y="477.80" width="14.00" height="8.70" fill="rgb(250,242,0)"/>
<rect x="213.00" y="477.80" width="14.00" height="8.70" fill="rgb(250,242,0)"/>
<rect x="227.00" y="477.80" width="14.00" height="8.70" fill="rgb(190,245,0)"/>
<rect x="241.00" y="477.80" width="14.00" height="8.70" fill="rgb(250,242,0)"/>
<rect x="255.00" y="477.80" width="14.00" height="8.70" fill="rgb(22,232,92)"/>
<rect x="269.00" y="477.80" width="14.00" height="8.70" fill="rgb(255,160,0)"/>
<rect x="283.00" y="477.80" width="14.00" height="8.70" fill="rgb(235,15,0)"/>
<rect x="297.00" y="477.80" width="14.00" height="8.70" fill="rgb(235,15,0)"/>
<rect x="171.00" y="486.50" width="14.00" height="8.70" fill="rgb(90,238,30)"/>
<rect x="185.00" y="486.50" width="14.00" height="8.70" fill="rgb(190,245,0)"/>
<rect x="199.00" y="486.50" width="14.00" height="8.70" fill="rgb(250,242,0)"/>
<rect x="213.00" y="486.50" width="14.00" height="8.70" fill="rgb(255,212,0)"/>
<rect x="227.00" y="486.50" width="14.00" height="8.70" fill="rgb(190,245,0)"/>
<rect x="241.00" y="486.50" width="14.00" height="8.70" fill="rgb(250,242,0)"/>
<rect x="255.00" y="486.50" width="14.00" height="8.70" fill="rgb(0,60,233)"/>
<rect x="269.00" y="486.50" width="14.00" height="8.70" fill="rgb(250,242,0)"/>
<rect x="283.00" y="486.50" width="14.00" height="8.70" fill="rgb(250,242,0)"/>
<rect x="297.00" y="486.50" width="14.00" height="8.70" fill="rgb(250,242,0)"/>
<rect x="171.00" y="495.20" width="14.00" height="8.70" fill="rgb(22,232,92)"/>
<rect x="185.00" y="495.20" width="14.00" height="8.70" fill="rgb(250,242,0)"/>
<rect x="199.00" y="495.20" width="14.00" height="8.70" fill="rgb(250,242,0)"/>
<rect x="213.00" y="495.20" width="14.00" height="8.70" fill="rgb(255,100,0)"/>
<rect x="227.00" y="495.20" width="14.00" height="8.70" fill="rgb(250,242,0)"/>
<rect x="241.00" y="495.20" width="14.00" height="8.70" fill="rgb(250,242,0)"/>
<rect x="255.00" y="495.20" width="14.00" height="8.70" fill="rgb(0,110,235)"/>
<rect x="269.00" y="495.20" width="14.00" height="8.70" fill="rgb(0,20,210)"/>
<rect x="283.00" y="495.20" width="14.00" height="8.70" fill="rgb(22,232,92)"/>
<rect x="297.00" y="495.20" width="14.00" height="8.70" fill="rgb(0,200,140)"/>
<rect x="171.00" y="503.90" width="14.00" height="8.70" fill="rgb(22,232,92)"/>
<rect x="185.00" y="503.90" width="14.00" height="8.70" fill="rgb(255,160,0)"/>
<rect x="199.00" y="503.90" width="14.00" height="8.70" fill="rgb(255,212,0)"/>
<rect x="213.00" y="503.90" width="14.00" height="8.70" fill="rgb(255,100,0)"/>
<rect x="227.00" y="503.90" width="14.00" height="8.70" fill="rgb(250,242,0)"/>
<rect x="241.00" y="503.90" width="14.00" height="8.70" fill="rgb(190,245,0)"/>
<rect x="255.00" y="503.90" width="14.00" height="8.70" fill="rgb(90,238,30)"/>
<rect x="269.00" y="503.90" width="14.00" height="8.70" fill="rgb(0,165,180)"/>
<rect x="283.00" y="503.90" width="14.00" height="8.70" fill="rgb(22,232,92)"/>
<rect x="297.00" y="503.90" width="14.00" height="8.70" fill="rgb(90,238,30)"/>
<rect x="171.00" y="512.60" width="14.00" height="8.70" fill="rgb(0,200,140)"/>
<rect x="185.00" y="512.60" width="14.00" height="8.70" fill="rgb(250,242,0)"/>
<rect x="199.00" y="512.60" width="14.00" height="8.70" fill="rgb(250,242,0)"/>
<rect x="213.00" y="512.60" width="14.00" height="8.70" fill="rgb(255,212,0)"/>
<rect x="227.00" y="512.60" width="14.00" height="8.70" fill="rgb(190,245,0)"/>
<rect x="241.00" y="512.60" width="14.00" height="8.70" fill="rgb(22,232,92)"/>
<rect x="255.00" y="512.60" width="14.00" height="8.70" fill="rgb(90,238,30)"/>
<rect x="269.00" y="512.60" width="14.00" height="8.70" fill="rgb(22,232,92)"/>
<rect x="283.00" y="512.60" width="14.00" height="8.70" fill="rgb(22,232,92)"/>
<rect x="297.00" y="512.60" width="14.00" height="8.70" fill="rgb(90,238,30)"/>
<path d="M171.00 443.00V521.30M185.00 443.00V521.30M199.00 443.00V521.30M213.00 443.00V521.30M227.00 443.00V521.30M241.00 443.00V521.30M255.00 443.00V521.30M269.00 443.00V521.30M283.00 443.00V521.30M297.00 443.00V521.30M311.00 443.00V521.30M171.00 443.00H311.00M171.00 451.70H311.00M171.00 460.40H311.00M171.00 469.10H311.00M171.00 477.80H311.00M171.00 486.50H311.00M171.00 495.20H311.00M171.00 503.90H311.00M171.00 512.60H311.00M171.00 521.30H311.00" stroke="#000" stroke-width="1.2" fill="none"/>
<path d="M171.00 447.35h-3.60M311.00 447.35h3.60M171.00 456.05h-2.00M311.00 456.05h2.00M171.00 464.75h-3.60M311.00 464.75h3.60M171.00 473.45h-2.00M311.00 473.45h2.00M171.00 482.15h-3.60M311.00 482.15h3.60M171.00 490.85h-2.00M311.00 490.85h2.00M171.00 499.55h-3.60M311.00 499.55h3.60M171.00 508.25h-2.00M311.00 508.25h2.00M171.00 516.95h-3.60M311.00 516.95h3.60M178.00 443.00v-2.00M178.00 521.30v2.00M192.00 443.00v-3.60M192.00 521.30v3.60M206.00 443.00v-2.00M206.00 521.30v2.00M220.00 443.00v-3.60M220.00 521.30v3.60M234.00 443.00v-2.00M234.00 521.30v2.00M248.00 443.00v-3.60M248.00 521.30v3.60M262.00 443.00v-2.00M262.00 521.30v2.00M276.00 443.00v-3.60M276.00 521.30v3.60M290.00 443.00v-2.00M290.00 521.30v2.00M304.00 443.00v-3.60M304.00 521.30v3.60" stroke="#333" stroke-width="0.9" fill="none"/>
<text x="166.00" y="451.85" text-anchor="end" font-size="12">&#8722;15</text>
<text x="166.00" y="469.25" text-anchor="end" font-size="12">&#8722;10</text>
<text x="166.00" y="486.65" text-anchor="end" font-size="12">&#8722;5</text>
<text x="166.00" y="504.05" text-anchor="end" font-size="12">0</text>
<text x="166.00" y="521.45" text-anchor="end" font-size="12">5</text>
<text x="192.00" y="535.30" text-anchor="middle" font-size="12">&#8722;32</text>
<text x="220.00" y="535.30" text-anchor="middle" font-size="12">&#8722;24</text>
<text x="248.00" y="535.30" text-anchor="middle" font-size="12">&#8722;16</text>
<text x="276.00" y="535.30" text-anchor="middle" font-size="12">&#8722;8</text>
<text x="304.00" y="535.30" text-anchor="middle" font-size="12">0</text>
<polyline points="171.9,450.2 172.4,450.0 172.9,449.3 173.4,448.2 173.9,447.3 174.4,447.5 175.0,447.8 175.5,448.1 176.0,448.4 176.5,448.6 177.0,448.8 177.5,449.0 178.0,449.2 178.5,449.3 179.0,449.4 179.5,449.5 180.0,449.6 180.5,449.7 181.1,449.8 181.6,449.8 182.1,449.9 182.6,450.0 183.1,450.0 183.6,450.0 184.1,450.1" fill="none" stroke="#000" stroke-width="1.05" stroke-linejoin="round"/>
<polyline points="185.9,450.3 186.4,450.2 186.9,450.1 187.4,449.8 187.9,449.2 188.4,448.4 189.0,447.6 189.5,447.2 190.0,447.4 190.5,448.1 191.0,448.9 191.5,449.6 192.0,450.0 192.5,450.1 193.0,450.0 193.5,449.7 194.0,449.0 194.5,448.4 195.1,448.1 195.6,448.4 196.1,449.0 196.6,449.7 197.1,450.1 197.6,450.2 198.1,450.3" fill="none" stroke="#000" stroke-width="1.05" stroke-linejoin="round"/>
<polyline points="199.9,450.3 200.4,450.3 200.9,450.2 201.4,450.2 201.9,450.1 202.4,449.9 203.0,449.7 203.5,449.5 204.0,449.2 204.5,449.0 205.0,448.8 205.5,448.8 206.0,448.9 206.5,449.1 207.0,449.3 207.5,449.6 208.0,449.8 208.5,450.0 209.1,450.1 209.6,450.2 210.1,450.3 210.6,450.3 211.1,450.3 211.6,450.3 212.1,450.3" fill="none" stroke="#000" stroke-width="1.05" stroke-linejoin="round"/>
<polyline points="213.9,450.3 214.4,450.3 214.9,450.2 215.4,449.5 215.9,448.8 216.4,448.1 217.0,447.7 217.5,447.7 218.0,447.7 218.5,447.7 219.0,447.7 219.5,447.7 220.0,447.7 220.5,447.7 221.0,447.7 221.5,447.7 222.0,447.7 222.5,447.7 223.1,448.1 223.6,448.7 224.1,449.2 224.6,449.7 225.1,450.3 225.6,450.3 226.1,450.3" fill="none" stroke="#000" stroke-width="1.05" stroke-linejoin="round"/>
<polyline points="227.9,450.3 228.4,450.3 228.9,450.3 229.4,450.2 229.9,450.0 230.4,449.7 231.0,449.5 231.5,449.6 232.0,449.7 232.5,449.7 233.0,449.8 233.5,449.9 234.0,449.9 234.5,450.0 235.0,450.0 235.5,450.0 236.0,450.1 236.5,450.1 237.1,450.1 237.6,450.1 238.1,450.2 238.6,450.2 239.1,450.2 239.6,450.2 240.1,450.2" fill="none" stroke="#000" stroke-width="1.05" stroke-linejoin="round"/>
<polyline points="241.9,450.3 242.4,450.3 242.9,450.3 243.4,450.3 243.9,450.3 244.4,450.2 245.0,450.0 245.5,449.7 246.0,449.5 246.5,449.6 247.0,449.7 247.5,449.7 248.0,449.8 248.5,449.9 249.0,449.9 249.5,450.0 250.0,450.0 250.5,450.0 251.1,450.1 251.6,450.1 252.1,450.1 252.6,450.1 253.1,450.2 253.6,450.2 254.1,450.2" fill="none" stroke="#000" stroke-width="1.05" stroke-linejoin="round"/>
<polyline points="255.9,450.3 256.4,450.3 256.9,450.3 257.4,450.2 257.9,450.0 258.4,449.9 258.9,449.7 259.5,449.6 260.0,449.6 260.5,449.8 261.0,450.0 261.5,450.1 262.0,450.2 262.5,450.3 263.0,450.2 263.5,450.2 264.0,450.0 264.5,449.8 265.1,449.8 265.6,449.8 266.1,450.0 266.6,450.2 267.1,450.2 267.6,450.3 268.1,450.3" fill="none" stroke="#000" stroke-width="1.05" stroke-linejoin="round"/>
<polyline points="269.9,450.3 270.4,450.3 270.9,450.2 271.4,450.1 271.9,449.9 272.4,449.7 272.9,449.3 273.5,448.8 274.0,448.4 274.5,447.9 275.0,447.6 275.5,447.6 276.0,447.7 276.5,448.1 277.0,448.5 277.5,449.0 278.0,449.5 278.5,449.8 279.0,450.0 279.6,450.2 280.1,450.2 280.6,450.3 281.1,450.3 281.6,450.3 282.1,450.3" fill="none" stroke="#000" stroke-width="1.05" stroke-linejoin="round"/>
<polyline points="283.9,450.3 284.4,450.3 284.9,450.3 285.4,450.0 285.9,449.8 286.4,449.5 286.9,449.4 287.5,449.4 288.0,449.4 288.5,449.4 289.0,449.4 289.5,449.4 290.0,449.4 290.5,449.4 291.0,449.4 291.5,449.4 292.0,449.4 292.5,449.4 293.0,449.6 293.6,449.7 294.1,449.9 294.6,450.1 295.1,450.3 295.6,450.3 296.1,450.3" fill="none" stroke="#000" stroke-width="1.05" stroke-linejoin="round"/>
<polyline points="297.9,450.3 298.4,450.2 298.9,449.9 299.4,449.5 299.9,449.2 300.4,449.2 300.9,449.4 301.5,449.5 302.0,449.6 302.5,449.7 303.0,449.7 303.5,449.8 304.0,449.9 304.5,449.9 305.0,450.0 305.5,450.0 306.0,450.0 306.5,450.1 307.0,450.1 307.6,450.1 308.1,450.1 308.6,450.2 309.1,450.2 309.6,450.2 310.1,450.2" fill="none" stroke="#000" stroke-width="1.05" stroke-linejoin="round"/>
<polyline points="171.9,459.0 172.4,459.0 172.9,458.9 173.4,458.8 173.9,458.7 174.4,458.4 175.0,458.1 175.5,457.7 176.0,457.3 176.5,456.9 177.0,456.6 177.5,456.6 178.0,456.7 178.5,457.0 179.0,457.4 179.5,457.9 180.0,458.2 180.5,458.5 181.1,458.7 181.6,458.9 182.1,458.9 182.6,459.0 183.1,459.0 183.6,459.0 184.1,459.0" fill="none" stroke="#000" stroke-width="1.05" stroke-linejoin="round"/>
<polyline points="185.9,458.9 186.4,458.7 186.9,457.9 187.4,456.6 187.9,455.6 188.4,455.9 189.0,456.2 189.5,456.6 190.0,456.9 190.5,457.1 191.0,457.4 191.5,457.6 192.0,457.7 192.5,457.9 193.0,458.0 193.5,458.1 194.0,458.3 194.5,458.3 195.1,458.4 195.6,458.5 196.1,458.6 196.6,458.6 197.1,458.7 197.6,458.7 198.1,458.7" fill="none" stroke="#000" stroke-width="1.05" stroke-linejoin="round"/>
<polyline points="199.9,459.0 200.4,458.9 200.9,458.8 201.4,458.4 201.9,457.8 202.4,456.9 203.0,456.1 203.5,455.6 204.0,455.8 204.5,456.5 205.0,457.5 205.5,458.2 206.0,458.7 206.5,458.8 207.0,458.7 207.5,458.3 208.0,457.6 208.5,456.9 209.1,456.5 209.6,456.9 210.1,457.6 210.6,458.3 211.1,458.8 211.6,458.9 212.1,459.0" fill="none" stroke="#000" stroke-width="1.05" stroke-linejoin="round"/>
<polyline points="213.9,459.0 214.4,458.9 214.9,458.8 215.4,458.4 215.9,457.7 216.4,456.7 217.0,455.8 217.5,455.3 218.0,455.5 218.5,456.3 219.0,457.3 219.5,458.1 220.0,458.6 220.5,458.8 221.0,458.7 221.5,458.2 222.0,457.5 222.5,456.6 223.1,456.3 223.6,456.6 224.1,457.5 224.6,458.3 225.1,458.7 225.6,458.9 226.1,459.0" fill="none" stroke="#000" stroke-width="1.05" stroke-linejoin="round"/>
<polyline points="227.9,459.0 228.4,459.0 228.9,459.0 229.4,458.7 229.9,458.5 230.4,458.2 231.0,458.1 231.5,458.1 232.0,458.1 232.5,458.1 233.0,458.1 233.5,458.1 234.0,458.1 234.5,458.1 235.0,458.1 235.5,458.1 236.0,458.1 236.5,458.1 237.1,458.3 237.6,458.4 238.1,458.6 238.6,458.8 239.1,459.0 239.6,459.0 240.1,459.0" fill="none" stroke="#000" stroke-width="1.05" stroke-linejoin="round"/>
<polyline points="241.9,459.0 242.4,459.0 242.9,459.0 243.4,459.0 243.9,459.0 244.4,458.8 245.0,458.3 245.5,457.6 246.0,457.1 246.5,457.3 247.0,457.5 247.5,457.7 248.0,457.8 248.5,458.0 249.0,458.1 249.5,458.2 250.0,458.3 250.5,458.4 251.1,458.5 251.6,458.5 252.1,458.6 252.6,458.6 253.1,458.7 253.6,458.7 254.1,458.8" fill="none" stroke="#000" stroke-width="1.05" stroke-linejoin="round"/>
<polyline points="255.9,459.0 256.4,459.0 256.9,458.9 257.4,458.8 257.9,458.7 258.4,458.4 258.9,458.1 259.5,457.7 260.0,457.3 260.5,456.9 261.0,456.6 261.5,456.6 262.0,456.7 262.5,457.0 263.0,457.4 263.5,457.9 264.0,458.2 264.5,458.5 265.1,458.7 265.6,458.9 266.1,458.9 266.6,459.0 267.1,459.0 267.6,459.0 268.1,459.0" fill="none" stroke="#000" stroke-width="1.05" stroke-linejoin="round"/>
<polyline points="269.9,459.0 270.4,458.7 270.9,458.2 271.4,457.2 271.9,456.4 272.4,456.6 272.9,456.9 273.5,457.1 274.0,457.3 274.5,457.5 275.0,457.7 275.5,457.9 276.0,458.0 276.5,458.1 277.0,458.2 277.5,458.3 278.0,458.4 278.5,458.5 279.0,458.5 279.6,458.6 280.1,458.7 280.6,458.7 281.1,458.7 281.6,458.8 282.1,458.8" fill="none" stroke="#000" stroke-width="1.05" stroke-linejoin="round"/>
<polyline points="283.9,459.0 284.4,459.0 284.9,459.0 285.4,458.9 285.9,458.7 286.4,458.6 286.9,458.4 287.5,458.3 288.0,458.3 288.5,458.5 289.0,458.7 289.5,458.8 290.0,458.9 290.5,459.0 291.0,458.9 291.5,458.9 292.0,458.7 292.5,458.5 293.0,458.5 293.6,458.5 294.1,458.7 294.6,458.9 295.1,458.9 295.6,459.0 296.1,459.0" fill="none" stroke="#000" stroke-width="1.05" stroke-linejoin="round"/>
<polyline points="297.9,459.0 298.4,458.9 298.9,458.8 299.4,458.4 299.9,457.7 300.4,456.7 300.9,455.8 301.5,455.3 302.0,455.5 302.5,456.3 303.0,457.3 303.5,458.1 304.0,458.6 304.5,458.8 305.0,458.7 305.5,458.2 306.0,457.5 306.5,456.6 307.0,456.3 307.6,456.6 308.1,457.5 308.6,458.3 309.1,458.7 309.6,458.9 310.1,459.0" fill="none" stroke="#000" stroke-width="1.05" stroke-linejoin="round"/>
<polyline points="171.9,467.7 172.4,467.7 172.9,467.6 173.4,467.5 173.9,467.3 174.4,467.1 175.0,466.7 175.5,466.2 176.0,465.8 176.5,465.3 177.0,465.0 177.5,465.0 178.0,465.1 178.5,465.5 179.0,465.9 179.5,466.4 180.0,466.9 180.5,467.2 181.1,467.4 181.6,467.6 182.1,467.6 182.6,467.7 183.1,467.7 183.6,467.7 184.1,467.7" fill="none" stroke="#000" stroke-width="1.05" stroke-linejoin="round"/>
<polyline points="185.9,467.7 186.4,467.7 186.9,467.7 187.4,467.7 187.9,467.6 188.4,467.4 189.0,466.7 189.5,465.7 190.0,465.0 190.5,465.3 191.0,465.6 191.5,465.9 192.0,466.1 192.5,466.3 193.0,466.4 193.5,466.6 194.0,466.7 194.5,466.9 195.1,467.0 195.6,467.0 196.1,467.1 196.6,467.2 197.1,467.3 197.6,467.3 198.1,467.4" fill="none" stroke="#000" stroke-width="1.05" stroke-linejoin="round"/>
<polyline points="199.9,467.7 200.4,467.7 200.9,467.6 201.4,466.8 201.9,465.9 202.4,465.0 203.0,464.6 203.5,464.6 204.0,464.6 204.5,464.6 205.0,464.6 205.5,464.6 206.0,464.6 206.5,464.6 207.0,464.6 207.5,464.6 208.0,464.6 208.5,464.6 209.1,465.0 209.6,465.7 210.1,466.3 210.6,467.0 211.1,467.6 211.6,467.7 212.1,467.7" fill="none" stroke="#000" stroke-width="1.05" stroke-linejoin="round"/>
<polyline points="213.9,467.7 214.4,467.6 214.9,467.5 215.4,467.1 215.9,466.4 216.4,465.4 217.0,464.5 217.5,464.0 218.0,464.2 218.5,465.0 219.0,466.0 219.5,466.8 220.0,467.3 220.5,467.5 221.0,467.4 221.5,466.9 222.0,466.2 222.5,465.3 223.1,465.0 223.6,465.3 224.1,466.2 224.6,467.0 225.1,467.4 225.6,467.6 226.1,467.7" fill="none" stroke="#000" stroke-width="1.05" stroke-linejoin="round"/>
<polyline points="227.9,467.7 228.4,467.7 228.9,467.6 229.4,467.6 229.9,467.5 230.4,467.3 231.0,467.0 231.5,466.7 232.0,466.4 232.5,466.1 233.0,465.9 233.5,465.9 234.0,466.0 234.5,466.2 235.0,466.5 235.5,466.8 236.0,467.1 236.5,467.4 237.1,467.5 237.6,467.6 238.1,467.7 238.6,467.7 239.1,467.7 239.6,467.7 240.1,467.7" fill="none" stroke="#000" stroke-width="1.05" stroke-linejoin="round"/>
<polyline points="241.9,467.7 242.4,467.7 242.9,467.7 243.4,467.7 243.9,467.6 244.4,467.3 245.0,466.4 245.5,465.1 246.0,464.3 246.5,464.6 247.0,465.0 247.5,465.3 248.0,465.6 248.5,465.9 249.0,466.1 249.5,466.3 250.0,466.5 250.5,466.6 251.1,466.7 251.6,466.9 252.1,467.0 252.6,467.1 253.1,467.1 253.6,467.2 254.1,467.3" fill="none" stroke="#000" stroke-width="1.05" stroke-linejoin="round"/>
<polyline points="255.9,467.7 256.4,467.7 256.9,467.6 257.4,467.0 257.9,466.4 258.4,465.7 258.9,465.4 259.5,465.4 260.0,465.4 260.5,465.4 261.0,465.4 261.5,465.4 262.0,465.4 262.5,465.4 263.0,465.4 263.5,465.4 264.0,465.4 264.5,465.4 265.1,465.8 265.6,466.2 266.1,466.7 266.6,467.2 267.1,467.7 267.6,467.7 268.1,467.7" fill="none" stroke="#000" stroke-width="1.05" stroke-linejoin="round"/>
<polyline points="269.9,467.7 270.4,467.7 270.9,467.6 271.4,467.4 271.9,467.0 272.4,466.4 272.9,465.9 273.5,465.6 274.0,465.8 274.5,466.2 275.0,466.8 275.5,467.2 276.0,467.5 276.5,467.6 277.0,467.5 277.5,467.3 278.0,466.9 278.5,466.4 279.0,466.2 279.6,466.4 280.1,466.9 280.6,467.3 281.1,467.5 281.6,467.7 282.1,467.7" fill="none" stroke="#000" stroke-width="1.05" stroke-linejoin="round"/>
<polyline points="283.9,467.7 284.4,467.7 284.9,467.6 285.4,467.5 285.9,467.4 286.4,467.2 286.9,466.9 287.5,466.6 288.0,466.2 288.5,465.8 289.0,465.6 289.5,465.6 290.0,465.7 290.5,466.0 291.0,466.3 291.5,466.7 292.0,467.0 292.5,467.3 293.0,467.5 293.6,467.6 294.1,467.6 294.6,467.7 295.1,467.7 295.6,467.7 296.1,467.7" fill="none" stroke="#000" stroke-width="1.05" stroke-linejoin="round"/>
<polyline points="297.9,467.7 298.4,467.7 298.9,467.7 299.4,467.7 299.9,467.6 300.4,467.3 300.9,466.3 301.5,464.9 302.0,463.9 302.5,464.3 303.0,464.7 303.5,465.1 304.0,465.4 304.5,465.7 305.0,465.9 305.5,466.1 306.0,466.3 306.5,466.5 307.0,466.6 307.6,466.8 308.1,466.9 308.6,467.0 309.1,467.1 309.6,467.1 310.1,467.2" fill="none" stroke="#000" stroke-width="1.05" stroke-linejoin="round"/>
<polyline points="171.9,476.3 172.4,476.1 172.9,475.4 173.4,474.3 173.9,473.4 174.4,473.6 175.0,473.9 175.5,474.2 176.0,474.5 176.5,474.7 177.0,474.9 177.5,475.1 178.0,475.3 178.5,475.4 179.0,475.5 179.5,475.6 180.0,475.7 180.5,475.8 181.1,475.9 181.6,475.9 182.1,476.0 182.6,476.1 183.1,476.1 183.6,476.1 184.1,476.2" fill="none" stroke="#000" stroke-width="1.05" stroke-linejoin="round"/>
<polyline points="185.9,476.4 186.4,476.4 186.9,476.3 187.4,476.2 187.9,476.0 188.4,475.8 189.0,475.5 189.5,475.3 190.0,475.4 190.5,475.6 191.0,475.9 191.5,476.2 192.0,476.3 192.5,476.3 193.0,476.3 193.5,476.2 194.0,476.0 194.5,475.7 195.1,475.6 195.6,475.7 196.1,476.0 196.6,476.2 197.1,476.3 197.6,476.4 198.1,476.4" fill="none" stroke="#000" stroke-width="1.05" stroke-linejoin="round"/>
<polyline points="199.9,476.4 200.4,476.4 200.9,476.4 201.4,476.4 201.9,476.3 202.4,476.0 203.0,475.3 203.5,474.1 204.0,473.4 204.5,473.7 205.0,474.0 205.5,474.3 206.0,474.6 206.5,474.8 207.0,475.0 207.5,475.1 208.0,475.3 208.5,475.4 209.1,475.6 209.6,475.7 210.1,475.7 210.6,475.8 211.1,475.9 211.6,476.0 212.1,476.0" fill="none" stroke="#000" stroke-width="1.05" stroke-linejoin="round"/>
<polyline points="213.9,476.3 214.4,476.0 214.9,475.2 215.4,473.8 215.9,472.7 216.4,472.9 217.0,473.3 217.5,473.7 218.0,474.0 218.5,474.3 219.0,474.6 219.5,474.8 220.0,475.0 220.5,475.2 221.0,475.3 221.5,475.5 222.0,475.6 222.5,475.7 223.1,475.8 223.6,475.8 224.1,475.9 224.6,476.0 225.1,476.0 225.6,476.1 226.1,476.1" fill="none" stroke="#000" stroke-width="1.05" stroke-linejoin="round"/>
<polyline points="227.9,476.4 228.4,476.3 228.9,476.2 229.4,476.0 229.9,475.4 230.4,474.7 231.0,474.0 231.5,473.7 232.0,473.8 232.5,474.4 233.0,475.2 233.5,475.8 234.0,476.1 234.5,476.3 235.0,476.2 235.5,475.8 236.0,475.3 236.5,474.7 237.1,474.4 237.6,474.7 238.1,475.3 238.6,475.9 239.1,476.2 239.6,476.3 240.1,476.4" fill="none" stroke="#000" stroke-width="1.05" stroke-linejoin="round"/>
<polyline points="241.9,476.4 242.4,476.4 242.9,476.4 243.4,476.4 243.9,476.3 244.4,476.0 245.0,475.0 245.5,473.6 246.0,472.6 246.5,473.0 247.0,473.4 247.5,473.8 248.0,474.1 248.5,474.4 249.0,474.6 249.5,474.8 250.0,475.0 250.5,475.2 251.1,475.3 251.6,475.5 252.1,475.6 252.6,475.7 253.1,475.8 253.6,475.8 254.1,475.9" fill="none" stroke="#000" stroke-width="1.05" stroke-linejoin="round"/>
<polyline points="255.9,476.3 256.4,476.0 256.9,475.1 257.4,473.5 257.9,472.3 258.4,472.6 258.9,473.0 259.5,473.5 260.0,473.8 260.5,474.1 261.0,474.4 261.5,474.7 262.0,474.9 262.5,475.1 263.0,475.2 263.5,475.4 264.0,475.5 264.5,475.6 265.1,475.7 265.6,475.8 266.1,475.9 266.6,475.9 267.1,476.0 267.6,476.0 268.1,476.1" fill="none" stroke="#000" stroke-width="1.05" stroke-linejoin="round"/>
<polyline points="269.9,476.4 270.4,476.3 270.9,476.1 271.4,475.7 271.9,474.9 272.4,473.7 272.9,472.6 273.5,472.0 274.0,472.2 274.5,473.2 275.0,474.4 275.5,475.4 276.0,476.0 276.5,476.2 277.0,476.0 277.5,475.5 278.0,474.6 278.5,473.6 279.0,473.2 279.6,473.6 280.1,474.6 280.6,475.5 281.1,476.1 281.6,476.3 282.1,476.4" fill="none" stroke="#000" stroke-width="1.05" stroke-linejoin="round"/>
<polyline points="283.9,476.4 284.4,476.4 284.9,476.4 285.4,476.4 285.9,476.3 286.4,475.9 286.9,474.9 287.5,473.3 288.0,472.2 288.5,472.7 289.0,473.1 289.5,473.5 290.0,473.9 290.5,474.2 291.0,474.4 291.5,474.7 292.0,474.9 292.5,475.1 293.0,475.2 293.6,475.4 294.1,475.5 294.6,475.6 295.1,475.7 295.6,475.8 296.1,475.9" fill="none" stroke="#000" stroke-width="1.05" stroke-linejoin="round"/>
<polyline points="297.9,476.3 298.4,476.0 298.9,475.0 299.4,473.3 299.9,471.9 300.4,472.2 300.9,472.7 301.5,473.2 302.0,473.6 302.5,473.9 303.0,474.2 303.5,474.5 304.0,474.7 304.5,474.9 305.0,475.1 305.5,475.3 306.0,475.4 306.5,475.5 307.0,475.6 307.6,475.7 308.1,475.8 308.6,475.9 309.1,475.9 309.6,476.0 310.1,476.0" fill="none" stroke="#000" stroke-width="1.05" stroke-linejoin="round"/>
<polyline points="171.9,485.1 172.4,485.1 172.9,485.0 173.4,484.8 173.9,484.1 174.4,482.9 175.0,482.1 175.5,482.3 176.0,482.7 176.5,483.0 177.0,483.2 177.5,483.5 178.0,483.7 178.5,483.8 179.0,484.0 179.5,484.1 180.0,484.2 180.5,484.3 181.1,484.4 181.6,484.5 182.1,484.6 182.6,484.7 183.1,484.7 183.6,484.8 184.1,484.8" fill="none" stroke="#000" stroke-width="1.05" stroke-linejoin="round"/>
<polyline points="185.9,485.0 186.4,484.8 186.9,484.1 187.4,483.0 187.9,482.1 188.4,482.3 189.0,482.6 189.5,482.9 190.0,483.2 190.5,483.4 191.0,483.6 191.5,483.8 192.0,484.0 192.5,484.1 193.0,484.2 193.5,484.3 194.0,484.4 194.5,484.5 195.1,484.6 195.6,484.6 196.1,484.7 196.6,484.8 197.1,484.8 197.6,484.8 198.1,484.9" fill="none" stroke="#000" stroke-width="1.05" stroke-linejoin="round"/>
<polyline points="199.9,485.1 200.4,485.0 200.9,485.0 201.4,484.9 201.9,484.7 202.4,484.3 203.0,483.9 203.5,483.3 204.0,482.7 204.5,482.2 205.0,481.9 205.5,481.8 206.0,482.0 206.5,482.4 207.0,483.0 207.5,483.5 208.0,484.1 208.5,484.5 209.1,484.7 209.6,484.9 210.1,485.0 210.6,485.1 211.1,485.1 211.6,485.1 212.1,485.1" fill="none" stroke="#000" stroke-width="1.05" stroke-linejoin="round"/>
<polyline points="213.9,485.1 214.4,485.0 214.9,485.0 215.4,484.9 215.9,484.7 216.4,484.3 217.0,483.9 217.5,483.3 218.0,482.7 218.5,482.2 219.0,481.9 219.5,481.8 220.0,482.0 220.5,482.4 221.0,483.0 221.5,483.5 222.0,484.1 222.5,484.5 223.1,484.7 223.6,484.9 224.1,485.0 224.6,485.1 225.1,485.1 225.6,485.1 226.1,485.1" fill="none" stroke="#000" stroke-width="1.05" stroke-linejoin="round"/>
<polyline points="227.9,485.0 228.4,484.7 228.9,483.9 229.4,482.5 229.9,481.4 230.4,481.6 231.0,482.0 231.5,482.4 232.0,482.7 232.5,483.0 233.0,483.3 233.5,483.5 234.0,483.7 234.5,483.9 235.0,484.0 235.5,484.2 236.0,484.3 236.5,484.4 237.1,484.5 237.6,484.5 238.1,484.6 238.6,484.7 239.1,484.7 239.6,484.8 240.1,484.8" fill="none" stroke="#000" stroke-width="1.05" stroke-linejoin="round"/>
<polyline points="241.9,485.1 242.4,485.1 242.9,485.1 243.4,485.1 243.9,485.0 244.4,484.6 245.0,483.6 245.5,482.0 246.0,480.9 246.5,481.4 247.0,481.8 247.5,482.2 248.0,482.6 248.5,482.9 249.0,483.1 249.5,483.4 250.0,483.6 250.5,483.8 251.1,483.9 251.6,484.1 252.1,484.2 252.6,484.3 253.1,484.4 253.6,484.5 254.1,484.6" fill="none" stroke="#000" stroke-width="1.05" stroke-linejoin="round"/>
<polyline points="255.9,485.1 256.4,485.1 256.9,485.0 257.4,484.8 257.9,484.1 258.4,482.9 258.9,482.1 259.5,482.3 260.0,482.7 260.5,483.0 261.0,483.2 261.5,483.5 262.0,483.7 262.5,483.8 263.0,484.0 263.5,484.1 264.0,484.2 264.5,484.3 265.1,484.4 265.6,484.5 266.1,484.6 266.6,484.7 267.1,484.7 267.6,484.8 268.1,484.8" fill="none" stroke="#000" stroke-width="1.05" stroke-linejoin="round"/>
<polyline points="269.9,485.1 270.4,485.1 270.9,485.0 271.4,484.0 271.9,483.0 272.4,481.9 272.9,481.4 273.5,481.4 274.0,481.4 274.5,481.4 275.0,481.4 275.5,481.4 276.0,481.4 276.5,481.4 277.0,481.4 277.5,481.4 278.0,481.4 278.5,481.4 279.0,482.0 279.6,482.7 280.1,483.5 280.6,484.3 281.1,485.0 281.6,485.1 282.1,485.1" fill="none" stroke="#000" stroke-width="1.05" stroke-linejoin="round"/>
<polyline points="283.9,485.1 284.4,485.1 284.9,485.0 285.4,483.7 285.9,482.3 286.4,481.0 286.9,480.3 287.5,480.3 288.0,480.3 288.5,480.3 289.0,480.3 289.5,480.3 290.0,480.3 290.5,480.3 291.0,480.3 291.5,480.3 292.0,480.3 292.5,480.3 293.0,481.0 293.6,482.0 294.1,483.0 294.6,484.0 295.1,485.0 295.6,485.1 296.1,485.1" fill="none" stroke="#000" stroke-width="1.05" stroke-linejoin="round"/>
<polyline points="297.9,485.1 298.4,485.0 298.9,484.7 299.4,484.2 299.9,483.1 300.4,481.6 300.9,480.1 301.5,479.3 302.0,479.7 302.5,481.0 303.0,482.5 303.5,483.8 304.0,484.5 304.5,484.8 305.0,484.6 305.5,483.9 306.0,482.7 306.5,481.5 307.0,480.9 307.6,481.5 308.1,482.7 308.6,484.0 309.1,484.7 309.6,485.0 310.1,485.1" fill="none" stroke="#000" stroke-width="1.05" stroke-linejoin="round"/>
<polyline points="171.9,493.8 172.4,493.7 172.9,493.6 173.4,493.3 173.9,492.7 174.4,491.9 175.0,491.1 175.5,490.7 176.0,490.9 176.5,491.6 177.0,492.4 177.5,493.1 178.0,493.5 178.5,493.6 179.0,493.5 179.5,493.2 180.0,492.5 180.5,491.9 181.1,491.6 181.6,491.9 182.1,492.5 182.6,493.2 183.1,493.6 183.6,493.7 184.1,493.8" fill="none" stroke="#000" stroke-width="1.05" stroke-linejoin="round"/>
<polyline points="185.9,493.8 186.4,493.8 186.9,493.8 187.4,493.8 187.9,493.7 188.4,493.4 189.0,492.4 189.5,491.0 190.0,490.0 190.5,490.4 191.0,490.8 191.5,491.2 192.0,491.5 192.5,491.8 193.0,492.0 193.5,492.2 194.0,492.4 194.5,492.6 195.1,492.7 195.6,492.9 196.1,493.0 196.6,493.1 197.1,493.2 197.6,493.2 198.1,493.3" fill="none" stroke="#000" stroke-width="1.05" stroke-linejoin="round"/>
<polyline points="199.9,493.8 200.4,493.7 200.9,493.6 201.4,493.2 201.9,492.5 202.4,491.5 203.0,490.6 203.5,490.1 204.0,490.3 204.5,491.1 205.0,492.1 205.5,492.9 206.0,493.4 206.5,493.6 207.0,493.5 207.5,493.0 208.0,492.3 208.5,491.4 209.1,491.1 209.6,491.4 210.1,492.3 210.6,493.1 211.1,493.5 211.6,493.7 212.1,493.8" fill="none" stroke="#000" stroke-width="1.05" stroke-linejoin="round"/>
<polyline points="213.9,493.8 214.4,493.8 214.9,493.8 215.4,493.8 215.9,493.7 216.4,493.3 217.0,492.1 217.5,490.4 218.0,489.3 218.5,489.7 219.0,490.2 219.5,490.7 220.0,491.0 220.5,491.4 221.0,491.7 221.5,491.9 222.0,492.2 222.5,492.4 223.1,492.5 223.6,492.7 224.1,492.8 224.6,492.9 225.1,493.0 225.6,493.1 226.1,493.2" fill="none" stroke="#000" stroke-width="1.05" stroke-linejoin="round"/>
<polyline points="227.9,493.8 228.4,493.7 228.9,493.6 229.4,493.2 229.9,492.6 230.4,491.7 231.0,490.9 231.5,490.4 232.0,490.6 232.5,491.3 233.0,492.3 233.5,493.0 234.0,493.5 234.5,493.6 235.0,493.5 235.5,493.1 236.0,492.4 236.5,491.7 237.1,491.3 237.6,491.7 238.1,492.4 238.6,493.1 239.1,493.6 239.6,493.7 240.1,493.8" fill="none" stroke="#000" stroke-width="1.05" stroke-linejoin="round"/>
<polyline points="241.9,493.8 242.4,493.8 242.9,493.8 243.4,493.8 243.9,493.7 244.4,493.3 245.0,492.3 245.5,490.7 246.0,489.6 246.5,490.1 247.0,490.5 247.5,490.9 248.0,491.3 248.5,491.6 249.0,491.8 249.5,492.1 250.0,492.3 250.5,492.5 251.1,492.6 251.6,492.8 252.1,492.9 252.6,493.0 253.1,493.1 253.6,493.2 254.1,493.3" fill="none" stroke="#000" stroke-width="1.05" stroke-linejoin="round"/>
<polyline points="255.9,493.8 256.4,493.8 256.9,493.7 257.4,493.6 257.9,493.4 258.4,493.2 258.9,492.9 259.5,492.7 260.0,492.8 260.5,493.0 261.0,493.3 261.5,493.6 262.0,493.7 262.5,493.7 263.0,493.7 263.5,493.6 264.0,493.4 264.5,493.1 265.1,493.0 265.6,493.1 266.1,493.4 266.6,493.6 267.1,493.7 267.6,493.8 268.1,493.8" fill="none" stroke="#000" stroke-width="1.05" stroke-linejoin="round"/>
<polyline points="269.9,493.8 270.4,493.8 270.9,493.8 271.4,493.8 271.9,493.7 272.4,493.3 272.9,492.3 273.5,490.7 274.0,489.6 274.5,490.1 275.0,490.5 275.5,490.9 276.0,491.3 276.5,491.6 277.0,491.8 277.5,492.1 278.0,492.3 278.5,492.5 279.0,492.6 279.6,492.8 280.1,492.9 280.6,493.0 281.1,493.1 281.6,493.2 282.1,493.3" fill="none" stroke="#000" stroke-width="1.05" stroke-linejoin="round"/>
<polyline points="283.9,493.8 284.4,493.7 284.9,493.6 285.4,493.2 285.9,492.5 286.4,491.5 286.9,490.6 287.5,490.1 288.0,490.3 288.5,491.1 289.0,492.1 289.5,492.9 290.0,493.4 290.5,493.6 291.0,493.5 291.5,493.0 292.0,492.3 292.5,491.4 293.0,491.1 293.6,491.4 294.1,492.3 294.6,493.1 295.1,493.5 295.6,493.7 296.1,493.8" fill="none" stroke="#000" stroke-width="1.05" stroke-linejoin="round"/>
<polyline points="297.9,493.8 298.4,493.8 298.9,493.8 299.4,493.8 299.9,493.7 300.4,493.3 300.9,492.3 301.5,490.7 302.0,489.6 302.5,490.1 303.0,490.5 303.5,490.9 304.0,491.3 304.5,491.6 305.0,491.8 305.5,492.1 306.0,492.3 306.5,492.5 307.0,492.6 307.6,492.8 308.1,492.9 308.6,493.0 309.1,493.1 309.6,493.2 310.1,493.3" fill="none" stroke="#000" stroke-width="1.05" stroke-linejoin="round"/>
<polyline points="171.9,502.5 172.4,502.4 172.9,502.3 173.4,502.1 173.9,501.5 174.4,500.8 175.0,500.1 175.5,499.8 176.0,499.9 176.5,500.5 177.0,501.3 177.5,501.9 178.0,502.2 178.5,502.4 179.0,502.3 179.5,501.9 180.0,501.4 180.5,500.8 181.1,500.5 181.6,500.8 182.1,501.4 182.6,502.0 183.1,502.3 183.6,502.4 184.1,502.5" fill="none" stroke="#000" stroke-width="1.05" stroke-linejoin="round"/>
<polyline points="185.9,502.5 186.4,502.4 186.9,502.3 187.4,501.9 187.9,501.2 188.4,500.2 189.0,499.3 189.5,498.8 190.0,499.0 190.5,499.8 191.0,500.8 191.5,501.6 192.0,502.1 192.5,502.3 193.0,502.2 193.5,501.7 194.0,501.0 194.5,500.1 195.1,499.8 195.6,500.1 196.1,501.0 196.6,501.8 197.1,502.2 197.6,502.4 198.1,502.5" fill="none" stroke="#000" stroke-width="1.05" stroke-linejoin="round"/>
<polyline points="199.9,502.5 200.4,502.5 200.9,502.4 201.4,501.6 201.9,500.7 202.4,499.8 203.0,499.4 203.5,499.4 204.0,499.4 204.5,499.4 205.0,499.4 205.5,499.4 206.0,499.4 206.5,499.4 207.0,499.4 207.5,499.4 208.0,499.4 208.5,499.4 209.1,499.8 209.6,500.5 210.1,501.1 210.6,501.8 211.1,502.4 211.6,502.5 212.1,502.5" fill="none" stroke="#000" stroke-width="1.05" stroke-linejoin="round"/>
<polyline points="213.9,502.5 214.4,502.5 214.9,502.4 215.4,501.2 215.9,500.0 216.4,498.9 217.0,498.2 217.5,498.2 218.0,498.2 218.5,498.2 219.0,498.2 219.5,498.2 220.0,498.2 220.5,498.2 221.0,498.2 221.5,498.2 222.0,498.2 222.5,498.2 223.1,498.9 223.6,499.8 224.1,500.7 224.6,501.5 225.1,502.4 225.6,502.5 226.1,502.5" fill="none" stroke="#000" stroke-width="1.05" stroke-linejoin="round"/>
<polyline points="227.9,502.5 228.4,502.5 228.9,502.4 229.4,502.1 229.9,501.1 230.4,499.5 231.0,498.4 231.5,498.7 232.0,499.2 232.5,499.6 233.0,499.9 233.5,500.3 234.0,500.5 234.5,500.8 235.0,501.0 235.5,501.2 236.0,501.3 236.5,501.5 237.1,501.6 237.6,501.7 238.1,501.8 238.6,501.9 239.1,502.0 239.6,502.0 240.1,502.1" fill="none" stroke="#000" stroke-width="1.05" stroke-linejoin="round"/>
<polyline points="241.9,502.5 242.4,502.5 242.9,502.5 243.4,502.5 243.9,502.4 244.4,502.0 245.0,501.0 245.5,499.4 246.0,498.3 246.5,498.8 247.0,499.2 247.5,499.6 248.0,500.0 248.5,500.3 249.0,500.5 249.5,500.8 250.0,501.0 250.5,501.2 251.1,501.3 251.6,501.5 252.1,501.6 252.6,501.7 253.1,501.8 253.6,501.9 254.1,502.0" fill="none" stroke="#000" stroke-width="1.05" stroke-linejoin="round"/>
<polyline points="255.9,502.5 256.4,502.3 256.9,501.9 257.4,501.2 257.9,500.6 258.4,500.7 258.9,501.0 259.5,501.1 260.0,501.3 260.5,501.5 261.0,501.6 261.5,501.7 262.0,501.8 262.5,501.9 263.0,502.0 263.5,502.0 264.0,502.1 264.5,502.1 265.1,502.2 265.6,502.2 266.1,502.3 266.6,502.3 267.1,502.3 267.6,502.3 268.1,502.4" fill="none" stroke="#000" stroke-width="1.05" stroke-linejoin="round"/>
<polyline points="269.9,502.5 270.4,502.5 270.9,502.5 271.4,502.5 271.9,502.4 272.4,502.4 272.9,502.3 273.5,502.2 274.0,502.0 274.5,501.9 275.0,501.9 275.5,501.9 276.0,501.9 276.5,502.0 277.0,502.1 277.5,502.2 278.0,502.3 278.5,502.4 279.0,502.4 279.6,502.5 280.1,502.5 280.6,502.5 281.1,502.5 281.6,502.5 282.1,502.5" fill="none" stroke="#000" stroke-width="1.05" stroke-linejoin="round"/>
<polyline points="283.9,502.5 284.4,502.5 284.9,502.4 285.4,502.3 285.9,502.2 286.4,501.9 286.9,501.6 287.5,501.2 288.0,500.8 288.5,500.4 289.0,500.1 289.5,500.1 290.0,500.2 290.5,500.5 291.0,500.9 291.5,501.4 292.0,501.7 292.5,502.0 293.0,502.2 293.6,502.4 294.1,502.4 294.6,502.5 295.1,502.5 295.6,502.5 296.1,502.5" fill="none" stroke="#000" stroke-width="1.05" stroke-linejoin="round"/>
<polyline points="297.9,502.5 298.4,502.2 298.9,501.7 299.4,500.7 299.9,499.9 300.4,500.1 300.9,500.4 301.5,500.6 302.0,500.8 302.5,501.0 303.0,501.2 303.5,501.4 304.0,501.5 304.5,501.6 305.0,501.7 305.5,501.8 306.0,501.9 306.5,502.0 307.0,502.0 307.6,502.1 308.1,502.2 308.6,502.2 309.1,502.2 309.6,502.3 310.1,502.3" fill="none" stroke="#000" stroke-width="1.05" stroke-linejoin="round"/>
<polyline points="171.9,511.2 172.4,511.1 172.9,511.0 173.4,510.8 173.9,510.2 174.4,509.5 175.0,508.8 175.5,508.5 176.0,508.6 176.5,509.2 177.0,510.0 177.5,510.6 178.0,510.9 178.5,511.1 179.0,511.0 179.5,510.6 180.0,510.1 180.5,509.5 181.1,509.2 181.6,509.5 182.1,510.1 182.6,510.7 183.1,511.0 183.6,511.1 184.1,511.2" fill="none" stroke="#000" stroke-width="1.05" stroke-linejoin="round"/>
<polyline points="185.9,511.1 186.4,510.7 186.9,509.6 187.4,507.8 187.9,506.4 188.4,506.7 189.0,507.2 189.5,507.7 190.0,508.1 190.5,508.5 191.0,508.8 191.5,509.1 192.0,509.4 192.5,509.6 193.0,509.8 193.5,510.0 194.0,510.1 194.5,510.3 195.1,510.4 195.6,510.5 196.1,510.6 196.6,510.6 197.1,510.7 197.6,510.8 198.1,510.8" fill="none" stroke="#000" stroke-width="1.05" stroke-linejoin="round"/>
<polyline points="199.9,511.2 200.4,511.2 200.9,511.2 201.4,511.2 201.9,511.1 202.4,510.7 203.0,509.5 203.5,507.8 204.0,506.7 204.5,507.1 205.0,507.6 205.5,508.1 206.0,508.4 206.5,508.8 207.0,509.1 207.5,509.3 208.0,509.6 208.5,509.8 209.1,509.9 209.6,510.1 210.1,510.2 210.6,510.3 211.1,510.4 211.6,510.5 212.1,510.6" fill="none" stroke="#000" stroke-width="1.05" stroke-linejoin="round"/>
<polyline points="213.9,511.2 214.4,511.1 214.9,510.9 215.4,510.4 215.9,509.4 216.4,508.1 217.0,506.8 217.5,506.1 218.0,506.4 218.5,507.5 219.0,508.9 219.5,510.0 220.0,510.7 220.5,510.9 221.0,510.8 221.5,510.2 222.0,509.1 222.5,508.0 223.1,507.5 223.6,508.0 224.1,509.1 224.6,510.2 225.1,510.8 225.6,511.1 226.1,511.2" fill="none" stroke="#000" stroke-width="1.05" stroke-linejoin="round"/>
<polyline points="227.9,511.1 228.4,510.8 228.9,509.9 229.4,508.3 229.9,507.1 230.4,507.4 231.0,507.8 231.5,508.3 232.0,508.6 232.5,508.9 233.0,509.2 233.5,509.5 234.0,509.7 234.5,509.9 235.0,510.0 235.5,510.2 236.0,510.3 236.5,510.4 237.1,510.5 237.6,510.6 238.1,510.7 238.6,510.7 239.1,510.8 239.6,510.8 240.1,510.9" fill="none" stroke="#000" stroke-width="1.05" stroke-linejoin="round"/>
<polyline points="241.9,511.2 242.4,511.2 242.9,511.2 243.4,511.2 243.9,511.1 244.4,510.8 245.0,509.8 245.5,508.4 246.0,507.4 246.5,507.8 247.0,508.2 247.5,508.6 248.0,508.9 248.5,509.2 249.0,509.4 249.5,509.6 250.0,509.8 250.5,510.0 251.1,510.1 251.6,510.3 252.1,510.4 252.6,510.5 253.1,510.6 253.6,510.6 254.1,510.7" fill="none" stroke="#000" stroke-width="1.05" stroke-linejoin="round"/>
<polyline points="255.9,511.2 256.4,511.1 256.9,511.0 257.4,510.7 257.9,510.1 258.4,509.3 258.9,508.5 259.5,508.1 260.0,508.3 260.5,509.0 261.0,509.8 261.5,510.5 262.0,510.9 262.5,511.0 263.0,510.9 263.5,510.6 264.0,509.9 264.5,509.3 265.1,509.0 265.6,509.3 266.1,509.9 266.6,510.6 267.1,511.0 267.6,511.1 268.1,511.2" fill="none" stroke="#000" stroke-width="1.05" stroke-linejoin="round"/>
<polyline points="269.9,511.2 270.4,511.0 270.9,510.5 271.4,509.6 271.9,508.9 272.4,509.1 272.9,509.4 273.5,509.6 274.0,509.8 274.5,509.9 275.0,510.1 275.5,510.2 276.0,510.4 276.5,510.5 277.0,510.5 277.5,510.6 278.0,510.7 278.5,510.8 279.0,510.8 279.6,510.9 280.1,510.9 280.6,510.9 281.1,511.0 281.6,511.0 282.1,511.0" fill="none" stroke="#000" stroke-width="1.05" stroke-linejoin="round"/>
<polyline points="283.9,511.2 284.4,511.2 284.9,511.2 285.4,511.2 285.9,511.1 286.4,510.8 286.9,510.1 287.5,508.9 288.0,508.2 288.5,508.5 289.0,508.8 289.5,509.1 290.0,509.4 290.5,509.6 291.0,509.8 291.5,509.9 292.0,510.1 292.5,510.2 293.0,510.4 293.6,510.5 294.1,510.5 294.6,510.6 295.1,510.7 295.6,510.8 296.1,510.8" fill="none" stroke="#000" stroke-width="1.05" stroke-linejoin="round"/>
<polyline points="297.9,511.2 298.4,511.1 298.9,511.0 299.4,510.7 299.9,510.1 300.4,509.3 300.9,508.5 301.5,508.1 302.0,508.3 302.5,509.0 303.0,509.8 303.5,510.5 304.0,510.9 304.5,511.0 305.0,510.9 305.5,510.6 306.0,509.9 306.5,509.3 307.0,509.0 307.6,509.3 308.1,509.9 308.6,510.6 309.1,511.0 309.6,511.1 310.1,511.2" fill="none" stroke="#000" stroke-width="1.05" stroke-linejoin="round"/>
<polyline points="171.9,519.9 172.4,519.9 172.9,519.9 173.4,519.3 173.9,518.7 174.4,518.2 175.0,517.9 175.5,517.9 176.0,517.9 176.5,517.9 177.0,517.9 177.5,517.9 178.0,517.9 178.5,517.9 179.0,517.9 179.5,517.9 180.0,517.9 180.5,517.9 181.1,518.2 181.6,518.6 182.1,519.0 182.6,519.4 183.1,519.9 183.6,519.9 184.1,519.9" fill="none" stroke="#000" stroke-width="1.05" stroke-linejoin="round"/>
<polyline points="185.9,519.9 186.4,519.9 186.9,519.9 187.4,519.9 187.9,519.8 188.4,519.4 189.0,518.4 189.5,516.8 190.0,515.7 190.5,516.2 191.0,516.6 191.5,517.0 192.0,517.4 192.5,517.7 193.0,517.9 193.5,518.2 194.0,518.4 194.5,518.6 195.1,518.7 195.6,518.9 196.1,519.0 196.6,519.1 197.1,519.2 197.6,519.3 198.1,519.4" fill="none" stroke="#000" stroke-width="1.05" stroke-linejoin="round"/>
<polyline points="199.9,519.9 200.4,519.8 200.9,519.8 201.4,519.7 201.9,519.5 202.4,519.1 203.0,518.7 203.5,518.1 204.0,517.5 204.5,517.0 205.0,516.7 205.5,516.6 206.0,516.8 206.5,517.2 207.0,517.8 207.5,518.3 208.0,518.9 208.5,519.3 209.1,519.5 209.6,519.7 210.1,519.8 210.6,519.9 211.1,519.9 211.6,519.9 212.1,519.9" fill="none" stroke="#000" stroke-width="1.05" stroke-linejoin="round"/>
<polyline points="213.9,519.9 214.4,519.8 214.9,519.6 215.4,519.2 215.9,518.5 216.4,517.4 217.0,516.4 217.5,515.8 218.0,516.1 218.5,517.0 219.0,518.1 219.5,519.0 220.0,519.5 220.5,519.7 221.0,519.6 221.5,519.1 222.0,518.2 222.5,517.3 223.1,516.9 223.6,517.3 224.1,518.2 224.6,519.1 225.1,519.6 225.6,519.8 226.1,519.9" fill="none" stroke="#000" stroke-width="1.05" stroke-linejoin="round"/>
<polyline points="227.9,519.9 228.4,519.9 228.9,519.8 229.4,519.0 229.9,518.3 230.4,517.5 231.0,517.1 231.5,517.1 232.0,517.1 232.5,517.1 233.0,517.1 233.5,517.1 234.0,517.1 234.5,517.1 235.0,517.1 235.5,517.1 236.0,517.1 236.5,517.1 237.1,517.5 237.6,518.1 238.1,518.7 238.6,519.3 239.1,519.9 239.6,519.9 240.1,519.9" fill="none" stroke="#000" stroke-width="1.05" stroke-linejoin="round"/>
<polyline points="241.9,519.9 242.4,519.9 242.9,519.9 243.4,519.9 243.9,519.8 244.4,519.5 245.0,518.8 245.5,517.6 246.0,516.9 246.5,517.2 247.0,517.5 247.5,517.8 248.0,518.1 248.5,518.3 249.0,518.5 249.5,518.6 250.0,518.8 250.5,518.9 251.1,519.1 251.6,519.2 252.1,519.2 252.6,519.3 253.1,519.4 253.6,519.5 254.1,519.5" fill="none" stroke="#000" stroke-width="1.05" stroke-linejoin="round"/>
<polyline points="255.9,519.9 256.4,519.9 256.9,519.8 257.4,519.7 257.9,519.5 258.4,519.3 258.9,518.9 259.5,518.4 260.0,518.0 260.5,517.5 261.0,517.2 261.5,517.2 262.0,517.3 262.5,517.7 263.0,518.1 263.5,518.6 264.0,519.1 264.5,519.4 265.1,519.6 265.6,519.8 266.1,519.8 266.6,519.9 267.1,519.9 267.6,519.9 268.1,519.9" fill="none" stroke="#000" stroke-width="1.05" stroke-linejoin="round"/>
<polyline points="269.9,519.9 270.4,519.8 270.9,519.7 271.4,519.5 271.9,518.9 272.4,518.2 272.9,517.5 273.5,517.2 274.0,517.3 274.5,517.9 275.0,518.7 275.5,519.3 276.0,519.6 276.5,519.8 277.0,519.7 277.5,519.3 278.0,518.8 278.5,518.2 279.0,517.9 279.6,518.2 280.1,518.8 280.6,519.4 281.1,519.7 281.6,519.8 282.1,519.9" fill="none" stroke="#000" stroke-width="1.05" stroke-linejoin="round"/>
<polyline points="283.9,519.9 284.4,519.9 284.9,519.8 285.4,519.2 285.9,518.6 286.4,517.9 286.9,517.6 287.5,517.6 288.0,517.6 288.5,517.6 289.0,517.6 289.5,517.6 290.0,517.6 290.5,517.6 291.0,517.6 291.5,517.6 292.0,517.6 292.5,517.6 293.0,518.0 293.6,518.4 294.1,518.9 294.6,519.4 295.1,519.9 295.6,519.9 296.1,519.9" fill="none" stroke="#000" stroke-width="1.05" stroke-linejoin="round"/>
<polyline points="297.9,519.9 298.4,519.9 298.9,519.9 299.4,519.9 299.9,519.8 300.4,519.5 300.9,518.6 301.5,517.3 302.0,516.5 302.5,516.8 303.0,517.2 303.5,517.5 304.0,517.8 304.5,518.1 305.0,518.3 305.5,518.5 306.0,518.7 306.5,518.8 307.0,518.9 307.6,519.1 308.1,519.2 308.6,519.3 309.1,519.3 309.6,519.4 310.1,519.5" fill="none" stroke="#000" stroke-width="1.05" stroke-linejoin="round"/>
<rect x="345.50" y="443.00" width="14.00" height="8.70" fill="rgb(250,242,0)"/>
<rect x="359.50" y="443.00" width="14.00" height="8.70" fill="rgb(0,60,233)"/>
<rect x="373.50" y="443.00" width="14.00" height="8.70" fill="rgb(22,232,92)"/>
<rect x="345.50" y="451.70" width="14.00" height="8.70" fill="rgb(190,245,0)"/>
<rect x="359.50" y="451.70" width="14.00" height="8.70" fill="rgb(0,110,235)"/>
<rect x="373.50" y="451.70" width="14.00" height="8.70" fill="rgb(0,60,233)"/>
<rect x="345.50" y="460.40" width="14.00" height="8.70" fill="rgb(0,165,180)"/>
<rect x="359.50" y="460.40" width="14.00" height="8.70" fill="rgb(0,60,233)"/>
<rect x="373.50" y="460.40" width="14.00" height="8.70" fill="rgb(0,60,233)"/>
<rect x="345.50" y="469.10" width="14.00" height="8.70" fill="rgb(22,232,92)"/>
<rect x="359.50" y="469.10" width="14.00" height="8.70" fill="rgb(0,60,233)"/>
<rect x="373.50" y="469.10" width="14.00" height="8.70" fill="rgb(0,60,233)"/>
<rect x="345.50" y="477.80" width="14.00" height="8.70" fill="rgb(250,242,0)"/>
<rect x="359.50" y="477.80" width="14.00" height="8.70" fill="rgb(0,165,180)"/>
<rect x="373.50" y="477.80" width="14.00" height="8.70" fill="rgb(0,200,140)"/>
<rect x="345.50" y="486.50" width="14.00" height="8.70" fill="rgb(250,242,0)"/>
<rect x="359.50" y="486.50" width="14.00" height="8.70" fill="rgb(90,238,30)"/>
<rect x="373.50" y="486.50" width="14.00" height="8.70" fill="rgb(0,165,180)"/>
<rect x="345.50" y="495.20" width="14.00" height="8.70" fill="rgb(22,232,92)"/>
<rect x="359.50" y="495.20" width="14.00" height="8.70" fill="rgb(0,200,140)"/>
<rect x="373.50" y="495.20" width="14.00" height="8.70" fill="rgb(0,60,233)"/>
<rect x="345.50" y="503.90" width="14.00" height="8.70" fill="rgb(90,238,30)"/>
<rect x="359.50" y="503.90" width="14.00" height="8.70" fill="rgb(22,232,92)"/>
<rect x="373.50" y="503.90" width="14.00" height="8.70" fill="rgb(0,110,235)"/>
<rect x="345.50" y="512.60" width="14.00" height="8.70" fill="rgb(250,242,0)"/>
<rect x="359.50" y="512.60" width="14.00" height="8.70" fill="rgb(90,238,30)"/>
<rect x="373.50" y="512.60" width="14.00" height="8.70" fill="rgb(22,232,92)"/>
<path d="M345.50 443.00V521.30M359.50 443.00V521.30M373.50 443.00V521.30M387.50 443.00V521.30M345.50 443.00H387.50M345.50 451.70H387.50M345.50 460.40H387.50M345.50 469.10H387.50M345.50 477.80H387.50M345.50 486.50H387.50M345.50 495.20H387.50M345.50 503.90H387.50M345.50 512.60H387.50M345.50 521.30H387.50" stroke="#000" stroke-width="1.2" fill="none"/>
<path d="M345.50 447.35h-3.60M387.50 447.35h3.60M345.50 456.05h-2.00M387.50 456.05h2.00M345.50 464.75h-3.60M387.50 464.75h3.60M345.50 473.45h-2.00M387.50 473.45h2.00M345.50 482.15h-3.60M387.50 482.15h3.60M345.50 490.85h-2.00M387.50 490.85h2.00M345.50 499.55h-3.60M387.50 499.55h3.60M345.50 508.25h-2.00M387.50 508.25h2.00M345.50 516.95h-3.60M387.50 516.95h3.60M352.50 443.00v-3.60M352.50 521.30v3.60M366.50 443.00v-2.00M366.50 521.30v2.00M380.50 443.00v-3.60M380.50 521.30v3.60" stroke="#333" stroke-width="0.9" fill="none"/>
<text x="340.50" y="451.85" text-anchor="end" font-size="12">&#8722;15</text>
<text x="340.50" y="469.25" text-anchor="end" font-size="12">&#8722;10</text>
<text x="340.50" y="486.65" text-anchor="end" font-size="12">&#8722;5</text>
<text x="340.50" y="504.05" text-anchor="end" font-size="12">0</text>
<text x="340.50" y="521.45" text-anchor="end" font-size="12">5</text>
<text x="352.50" y="535.30" text-anchor="middle" font-size="12">&#8722;8</text>
<text x="380.50" y="535.30" text-anchor="middle" font-size="12">0</text>
<polyline points="346.4,450.2 346.9,449.9 347.4,449.0 347.9,447.4 348.4,446.2 348.9,446.5 349.4,446.9 350.0,447.4 350.5,447.7 351.0,448.0 351.5,448.3 352.0,448.6 352.5,448.8 353.0,449.0 353.5,449.1 354.0,449.3 354.5,449.4 355.0,449.5 355.5,449.6 356.1,449.7 356.6,449.8 357.1,449.8 357.6,449.9 358.1,449.9 358.6,450.0" fill="none" stroke="#000" stroke-width="1.05" stroke-linejoin="round"/>
<polyline points="360.4,450.3 360.9,450.3 361.4,450.2 361.9,450.1 362.4,449.9 362.9,449.7 363.4,449.4 364.0,449.2 364.5,449.3 365.0,449.5 365.5,449.8 366.0,450.1 366.5,450.2 367.0,450.2 367.5,450.2 368.0,450.1 368.5,449.9 369.0,449.6 369.5,449.5 370.1,449.6 370.6,449.9 371.1,450.1 371.6,450.2 372.1,450.3 372.6,450.3" fill="none" stroke="#000" stroke-width="1.05" stroke-linejoin="round"/>
<polyline points="374.4,450.3 374.9,450.3 375.4,450.2 375.9,450.1 376.4,450.0 376.9,449.7 377.4,449.4 378.0,449.0 378.5,448.6 379.0,448.2 379.5,447.9 380.0,447.9 380.5,448.0 381.0,448.3 381.5,448.7 382.0,449.2 382.5,449.5 383.0,449.8 383.5,450.0 384.1,450.2 384.6,450.2 385.1,450.3 385.6,450.3 386.1,450.3 386.6,450.3" fill="none" stroke="#000" stroke-width="1.05" stroke-linejoin="round"/>
<polyline points="346.4,459.0 346.9,459.0 347.4,458.9 347.9,458.8 348.4,458.6 348.9,458.3 349.4,457.9 350.0,457.4 350.5,456.8 351.0,456.4 351.5,456.0 352.0,456.0 352.5,456.1 353.0,456.5 353.5,457.1 354.0,457.6 354.5,458.1 355.0,458.4 355.5,458.7 356.1,458.8 356.6,458.9 357.1,459.0 357.6,459.0 358.1,459.0 358.6,459.0" fill="none" stroke="#000" stroke-width="1.05" stroke-linejoin="round"/>
<polyline points="360.4,459.0 360.9,458.8 361.4,458.4 361.9,457.7 362.4,457.1 362.9,457.2 363.4,457.5 364.0,457.6 364.5,457.8 365.0,458.0 365.5,458.1 366.0,458.2 366.5,458.3 367.0,458.4 367.5,458.5 368.0,458.5 368.5,458.6 369.0,458.6 369.5,458.7 370.1,458.7 370.6,458.8 371.1,458.8 371.6,458.8 372.1,458.8 372.6,458.9" fill="none" stroke="#000" stroke-width="1.05" stroke-linejoin="round"/>
<polyline points="374.4,459.0 374.9,459.0 375.4,458.9 375.9,458.8 376.4,458.6 376.9,458.4 377.4,458.1 378.0,457.9 378.5,458.0 379.0,458.2 379.5,458.5 380.0,458.8 380.5,458.9 381.0,458.9 381.5,458.9 382.0,458.8 382.5,458.6 383.0,458.3 383.5,458.2 384.1,458.3 384.6,458.6 385.1,458.8 385.6,458.9 386.1,459.0 386.6,459.0" fill="none" stroke="#000" stroke-width="1.05" stroke-linejoin="round"/>
<polyline points="346.4,467.7 346.9,467.7 347.4,467.6 347.9,467.6 348.4,467.5 348.9,467.3 349.4,467.0 350.0,466.7 350.5,466.4 351.0,466.1 351.5,465.9 352.0,465.9 352.5,466.0 353.0,466.2 353.5,466.5 354.0,466.8 354.5,467.1 355.0,467.4 355.5,467.5 356.1,467.6 356.6,467.7 357.1,467.7 357.6,467.7 358.1,467.7 358.6,467.7" fill="none" stroke="#000" stroke-width="1.05" stroke-linejoin="round"/>
<polyline points="360.4,467.7 360.9,467.7 361.4,467.7 361.9,467.7 362.4,467.7 362.9,467.6 363.4,467.3 364.0,466.8 364.5,466.5 365.0,466.6 365.5,466.8 366.0,466.9 366.5,467.0 367.0,467.1 367.5,467.2 368.0,467.2 368.5,467.3 369.0,467.3 369.5,467.4 370.1,467.4 370.6,467.4 371.1,467.5 371.6,467.5 372.1,467.5 372.6,467.6" fill="none" stroke="#000" stroke-width="1.05" stroke-linejoin="round"/>
<polyline points="374.4,467.7 374.9,467.7 375.4,467.7 375.9,467.4 376.4,467.2 376.9,466.9 377.4,466.8 378.0,466.8 378.5,466.8 379.0,466.8 379.5,466.8 380.0,466.8 380.5,466.8 381.0,466.8 381.5,466.8 382.0,466.8 382.5,466.8 383.0,466.8 383.5,467.0 384.1,467.1 384.6,467.3 385.1,467.5 385.6,467.7 386.1,467.7 386.6,467.7" fill="none" stroke="#000" stroke-width="1.05" stroke-linejoin="round"/>
<polyline points="346.4,476.3 346.9,476.1 347.4,475.4 347.9,474.3 348.4,473.4 348.9,473.6 349.4,473.9 350.0,474.2 350.5,474.5 351.0,474.7 351.5,474.9 352.0,475.1 352.5,475.3 353.0,475.4 353.5,475.5 354.0,475.6 354.5,475.7 355.0,475.8 355.5,475.9 356.1,475.9 356.6,476.0 357.1,476.1 357.6,476.1 358.1,476.1 358.6,476.2" fill="none" stroke="#000" stroke-width="1.05" stroke-linejoin="round"/>
<polyline points="360.4,476.4 360.9,476.4 361.4,476.3 361.9,476.2 362.4,476.0 362.9,475.8 363.4,475.5 364.0,475.3 364.5,475.4 365.0,475.6 365.5,475.9 366.0,476.2 366.5,476.3 367.0,476.3 367.5,476.3 368.0,476.2 368.5,476.0 369.0,475.7 369.5,475.6 370.1,475.7 370.6,476.0 371.1,476.2 371.6,476.3 372.1,476.4 372.6,476.4" fill="none" stroke="#000" stroke-width="1.05" stroke-linejoin="round"/>
<polyline points="374.4,476.4 374.9,476.4 375.4,476.4 375.9,476.4 376.4,476.4 376.9,476.3 377.4,476.0 378.0,475.5 378.5,475.2 379.0,475.3 379.5,475.5 380.0,475.6 380.5,475.7 381.0,475.8 381.5,475.9 382.0,475.9 382.5,476.0 383.0,476.0 383.5,476.1 384.1,476.1 384.6,476.1 385.1,476.2 385.6,476.2 386.1,476.2 386.6,476.3" fill="none" stroke="#000" stroke-width="1.05" stroke-linejoin="round"/>
<polyline points="346.4,485.1 346.9,485.1 347.4,485.0 347.9,484.7 348.4,483.7 348.9,482.1 349.4,481.0 350.0,481.3 350.5,481.8 351.0,482.2 351.5,482.5 352.0,482.9 352.5,483.1 353.0,483.4 353.5,483.6 354.0,483.8 354.5,483.9 355.0,484.1 355.5,484.2 356.1,484.3 356.6,484.4 357.1,484.5 357.6,484.6 358.1,484.6 358.6,484.7" fill="none" stroke="#000" stroke-width="1.05" stroke-linejoin="round"/>
<polyline points="360.4,485.1 360.9,484.9 361.4,484.4 361.9,483.5 362.4,482.8 362.9,483.0 363.4,483.3 364.0,483.5 364.5,483.7 365.0,483.8 365.5,484.0 366.0,484.1 366.5,484.3 367.0,484.4 367.5,484.4 368.0,484.5 368.5,484.6 369.0,484.7 369.5,484.7 370.1,484.8 370.6,484.8 371.1,484.8 371.6,484.9 372.1,484.9 372.6,484.9" fill="none" stroke="#000" stroke-width="1.05" stroke-linejoin="round"/>
<polyline points="374.4,485.1 374.9,485.1 375.4,485.0 375.9,484.9 376.4,484.8 376.9,484.6 377.4,484.3 378.0,484.0 378.5,483.6 379.0,483.2 379.5,483.0 380.0,483.0 380.5,483.1 381.0,483.4 381.5,483.7 382.0,484.1 382.5,484.4 383.0,484.7 383.5,484.9 384.1,485.0 384.6,485.0 385.1,485.1 385.6,485.1 386.1,485.1 386.6,485.1" fill="none" stroke="#000" stroke-width="1.05" stroke-linejoin="round"/>
<polyline points="346.4,493.8 346.9,493.7 347.4,493.6 347.9,493.2 348.4,492.5 348.9,491.5 349.4,490.6 350.0,490.1 350.5,490.3 351.0,491.1 351.5,492.1 352.0,492.9 352.5,493.4 353.0,493.6 353.5,493.5 354.0,493.0 354.5,492.3 355.0,491.4 355.5,491.1 356.1,491.4 356.6,492.3 357.1,493.1 357.6,493.5 358.1,493.7 358.6,493.8" fill="none" stroke="#000" stroke-width="1.05" stroke-linejoin="round"/>
<polyline points="360.4,493.8 360.9,493.8 361.4,493.8 361.9,493.8 362.4,493.7 362.9,493.4 363.4,492.5 364.0,491.2 364.5,490.4 365.0,490.7 365.5,491.1 366.0,491.4 366.5,491.7 367.0,492.0 367.5,492.2 368.0,492.4 368.5,492.6 369.0,492.7 369.5,492.8 370.1,493.0 370.6,493.1 371.1,493.2 371.6,493.2 372.1,493.3 372.6,493.4" fill="none" stroke="#000" stroke-width="1.05" stroke-linejoin="round"/>
<polyline points="374.4,493.8 374.9,493.8 375.4,493.7 375.9,493.5 376.4,493.1 376.9,492.5 377.4,492.0 378.0,491.7 378.5,491.9 379.0,492.3 379.5,492.9 380.0,493.3 380.5,493.6 381.0,493.7 381.5,493.6 382.0,493.4 382.5,493.0 383.0,492.5 383.5,492.3 384.1,492.5 384.6,493.0 385.1,493.4 385.6,493.6 386.1,493.8 386.6,493.8" fill="none" stroke="#000" stroke-width="1.05" stroke-linejoin="round"/>
<polyline points="346.4,502.5 346.9,502.4 347.4,502.3 347.9,502.1 348.4,501.5 348.9,500.8 349.4,500.1 350.0,499.8 350.5,499.9 351.0,500.5 351.5,501.3 352.0,501.9 352.5,502.2 353.0,502.4 353.5,502.3 354.0,501.9 354.5,501.4 355.0,500.8 355.5,500.5 356.1,500.8 356.6,501.4 357.1,502.0 357.6,502.3 358.1,502.4 358.6,502.5" fill="none" stroke="#000" stroke-width="1.05" stroke-linejoin="round"/>
<polyline points="360.4,502.5 360.9,502.5 361.4,502.4 361.9,502.1 362.4,501.7 362.9,501.0 363.4,500.4 364.0,500.1 364.5,500.2 365.0,500.8 365.5,501.4 366.0,502.0 366.5,502.3 367.0,502.4 367.5,502.3 368.0,502.0 368.5,501.5 369.0,501.0 369.5,500.8 370.1,501.0 370.6,501.5 371.1,502.0 371.6,502.3 372.1,502.5 372.6,502.5" fill="none" stroke="#000" stroke-width="1.05" stroke-linejoin="round"/>
<polyline points="374.4,502.5 374.9,502.5 375.4,502.5 375.9,502.2 376.4,502.0 376.9,501.7 377.4,501.6 378.0,501.6 378.5,501.6 379.0,501.6 379.5,501.6 380.0,501.6 380.5,501.6 381.0,501.6 381.5,501.6 382.0,501.6 382.5,501.6 383.0,501.6 383.5,501.8 384.1,501.9 384.6,502.1 385.1,502.3 385.6,502.5 386.1,502.5 386.6,502.5" fill="none" stroke="#000" stroke-width="1.05" stroke-linejoin="round"/>
<polyline points="346.4,511.2 346.9,511.1 347.4,511.0 347.9,510.7 348.4,510.1 348.9,509.3 349.4,508.5 350.0,508.1 350.5,508.3 351.0,509.0 351.5,509.8 352.0,510.5 352.5,510.9 353.0,511.0 353.5,510.9 354.0,510.6 354.5,509.9 355.0,509.3 355.5,509.0 356.1,509.3 356.6,509.9 357.1,510.6 357.6,511.0 358.1,511.1 358.6,511.2" fill="none" stroke="#000" stroke-width="1.05" stroke-linejoin="round"/>
<polyline points="360.4,511.1 360.9,510.9 361.4,510.2 361.9,509.1 362.4,508.2 362.9,508.4 363.4,508.7 364.0,509.0 364.5,509.3 365.0,509.5 365.5,509.7 366.0,509.9 366.5,510.1 367.0,510.2 367.5,510.3 368.0,510.4 368.5,510.5 369.0,510.6 369.5,510.7 370.1,510.7 370.6,510.8 371.1,510.9 371.6,510.9 372.1,510.9 372.6,511.0" fill="none" stroke="#000" stroke-width="1.05" stroke-linejoin="round"/>
<polyline points="374.4,511.2 374.9,511.2 375.4,511.2 375.9,511.2 376.4,511.2 376.9,511.0 377.4,510.5 378.0,509.8 378.5,509.3 379.0,509.5 379.5,509.7 380.0,509.9 380.5,510.0 381.0,510.2 381.5,510.3 382.0,510.4 382.5,510.5 383.0,510.6 383.5,510.7 384.1,510.7 384.6,510.8 385.1,510.8 385.6,510.9 386.1,510.9 386.6,511.0" fill="none" stroke="#000" stroke-width="1.05" stroke-linejoin="round"/>
<polyline points="346.4,519.9 346.9,519.9 347.4,519.8 347.9,519.0 348.4,518.1 348.9,517.2 349.4,516.8 350.0,516.8 350.5,516.8 351.0,516.8 351.5,516.8 352.0,516.8 352.5,516.8 353.0,516.8 353.5,516.8 354.0,516.8 354.5,516.8 355.0,516.8 355.5,517.2 356.1,517.9 356.6,518.5 357.1,519.2 357.6,519.8 358.1,519.9 358.6,519.9" fill="none" stroke="#000" stroke-width="1.05" stroke-linejoin="round"/>
<polyline points="360.4,519.9 360.9,519.9 361.4,519.9 361.9,519.9 362.4,519.8 362.9,519.5 363.4,518.6 364.0,517.3 364.5,516.5 365.0,516.8 365.5,517.2 366.0,517.5 366.5,517.8 367.0,518.1 367.5,518.3 368.0,518.5 368.5,518.7 369.0,518.8 369.5,518.9 370.1,519.1 370.6,519.2 371.1,519.3 371.6,519.3 372.1,519.4 372.6,519.5" fill="none" stroke="#000" stroke-width="1.05" stroke-linejoin="round"/>
<polyline points="374.4,519.9 374.9,519.9 375.4,519.8 375.9,519.7 376.4,519.6 376.9,519.3 377.4,519.0 378.0,518.6 378.5,518.2 379.0,517.8 379.5,517.5 380.0,517.5 380.5,517.6 381.0,517.9 381.5,518.3 382.0,518.8 382.5,519.1 383.0,519.4 383.5,519.6 384.1,519.8 384.6,519.8 385.1,519.9 385.6,519.9 386.1,519.9 386.6,519.9" fill="none" stroke="#000" stroke-width="1.05" stroke-linejoin="round"/>
<rect x="422.00" y="443.00" width="14.00" height="8.70" fill="rgb(90,238,30)"/>
<rect x="436.00" y="443.00" width="14.00" height="8.70" fill="rgb(22,232,92)"/>
<rect x="450.00" y="443.00" width="14.00" height="8.70" fill="rgb(0,20,210)"/>
<rect x="464.00" y="443.00" width="14.00" height="8.70" fill="rgb(0,20,210)"/>
<rect x="478.00" y="443.00" width="14.00" height="8.70" fill="rgb(0,20,210)"/>
<rect x="492.00" y="443.00" width="14.00" height="8.70" fill="rgb(0,110,235)"/>
<rect x="506.00" y="443.00" width="14.00" height="8.70" fill="rgb(190,245,0)"/>
<rect x="422.00" y="451.70" width="14.00" height="8.70" fill="rgb(90,238,30)"/>
<rect x="436.00" y="451.70" width="14.00" height="8.70" fill="rgb(0,165,180)"/>
<rect x="450.00" y="451.70" width="14.00" height="8.70" fill="rgb(0,60,233)"/>
<rect x="464.00" y="451.70" width="14.00" height="8.70" fill="rgb(22,232,92)"/>
<rect x="478.00" y="451.70" width="14.00" height="8.70" fill="rgb(0,60,233)"/>
<rect x="492.00" y="451.70" width="14.00" height="8.70" fill="rgb(0,20,210)"/>
<rect x="506.00" y="451.70" width="14.00" height="8.70" fill="rgb(90,238,30)"/>
<rect x="422.00" y="460.40" width="14.00" height="8.70" fill="rgb(190,245,0)"/>
<rect x="436.00" y="460.40" width="14.00" height="8.70" fill="rgb(0,20,210)"/>
<rect x="450.00" y="460.40" width="14.00" height="8.70" fill="rgb(0,20,210)"/>
<rect x="464.00" y="460.40" width="14.00" height="8.70" fill="rgb(0,60,233)"/>
<rect x="478.00" y="460.40" width="14.00" height="8.70" fill="rgb(0,60,233)"/>
<rect x="492.00" y="460.40" width="14.00" height="8.70" fill="rgb(0,60,233)"/>
<rect x="506.00" y="460.40" width="14.00" height="8.70" fill="rgb(0,200,140)"/>
<rect x="422.00" y="469.10" width="14.00" height="8.70" fill="rgb(250,242,0)"/>
<rect x="436.00" y="469.10" width="14.00" height="8.70" fill="rgb(22,232,92)"/>
<rect x="450.00" y="469.10" width="14.00" height="8.70" fill="rgb(0,60,233)"/>
<rect x="464.00" y="469.10" width="14.00" height="8.70" fill="rgb(0,60,233)"/>
<rect x="478.00" y="469.10" width="14.00" height="8.70" fill="rgb(0,60,233)"/>
<rect x="492.00" y="469.10" width="14.00" height="8.70" fill="rgb(0,60,233)"/>
<rect x="506.00" y="469.10" width="14.00" height="8.70" fill="rgb(22,232,92)"/>
<rect x="422.00" y="477.80" width="14.00" height="8.70" fill="rgb(250,242,0)"/>
<rect x="436.00" y="477.80" width="14.00" height="8.70" fill="rgb(90,238,30)"/>
<rect x="450.00" y="477.80" width="14.00" height="8.70" fill="rgb(0,165,180)"/>
<rect x="464.00" y="477.80" width="14.00" height="8.70" fill="rgb(0,60,233)"/>
<rect x="478.00" y="477.80" width="14.00" height="8.70" fill="rgb(0,165,180)"/>
<rect x="492.00" y="477.80" width="14.00" height="8.70" fill="rgb(0,165,180)"/>
<rect x="506.00" y="477.80" width="14.00" height="8.70" fill="rgb(22,232,92)"/>
<rect x="422.00" y="486.50" width="14.00" height="8.70" fill="rgb(235,15,0)"/>
<rect x="436.00" y="486.50" width="14.00" height="8.70" fill="rgb(250,242,0)"/>
<rect x="450.00" y="486.50" width="14.00" height="8.70" fill="rgb(90,238,30)"/>
<rect x="464.00" y="486.50" width="14.00" height="8.70" fill="rgb(0,200,140)"/>
<rect x="478.00" y="486.50" width="14.00" height="8.70" fill="rgb(0,110,235)"/>
<rect x="492.00" y="486.50" width="14.00" height="8.70" fill="rgb(0,60,233)"/>
<rect x="506.00" y="486.50" width="14.00" height="8.70" fill="rgb(90,238,30)"/>
<rect x="422.00" y="495.20" width="14.00" height="8.70" fill="rgb(255,212,0)"/>
<rect x="436.00" y="495.20" width="14.00" height="8.70" fill="rgb(250,242,0)"/>
<rect x="450.00" y="495.20" width="14.00" height="8.70" fill="rgb(22,232,92)"/>
<rect x="464.00" y="495.20" width="14.00" height="8.70" fill="rgb(22,232,92)"/>
<rect x="478.00" y="495.20" width="14.00" height="8.70" fill="rgb(0,60,233)"/>
<rect x="492.00" y="495.20" width="14.00" height="8.70" fill="rgb(0,60,233)"/>
<rect x="506.00" y="495.20" width="14.00" height="8.70" fill="rgb(0,200,140)"/>
<rect x="422.00" y="503.90" width="14.00" height="8.70" fill="rgb(250,242,0)"/>
<rect x="436.00" y="503.90" width="14.00" height="8.70" fill="rgb(90,238,30)"/>
<rect x="450.00" y="503.90" width="14.00" height="8.70" fill="rgb(90,238,30)"/>
<rect x="464.00" y="503.90" width="14.00" height="8.70" fill="rgb(0,200,140)"/>
<rect x="478.00" y="503.90" width="14.00" height="8.70" fill="rgb(0,165,180)"/>
<rect x="492.00" y="503.90" width="14.00" height="8.70" fill="rgb(0,165,180)"/>
<rect x="506.00" y="503.90" width="14.00" height="8.70" fill="rgb(250,242,0)"/>
<rect x="422.00" y="512.60" width="14.00" height="8.70" fill="rgb(22,232,92)"/>
<rect x="436.00" y="512.60" width="14.00" height="8.70" fill="rgb(90,238,30)"/>
<rect x="450.00" y="512.60" width="14.00" height="8.70" fill="rgb(22,232,92)"/>
<rect x="464.00" y="512.60" width="14.00" height="8.70" fill="rgb(0,110,235)"/>
<rect x="478.00" y="512.60" width="14.00" height="8.70" fill="rgb(0,110,235)"/>
<rect x="492.00" y="512.60" width="14.00" height="8.70" fill="rgb(0,60,233)"/>
<rect x="506.00" y="512.60" width="14.00" height="8.70" fill="rgb(250,242,0)"/>
<path d="M422.00 443.00V521.30M436.00 443.00V521.30M450.00 443.00V521.30M464.00 443.00V521.30M478.00 443.00V521.30M492.00 443.00V521.30M506.00 443.00V521.30M520.00 443.00V521.30M422.00 443.00H520.00M422.00 451.70H520.00M422.00 460.40H520.00M422.00 469.10H520.00M422.00 477.80H520.00M422.00 486.50H520.00M422.00 495.20H520.00M422.00 503.90H520.00M422.00 512.60H520.00M422.00 521.30H520.00" stroke="#000" stroke-width="1.2" fill="none"/>
<path d="M422.00 447.35h-3.60M520.00 447.35h3.60M422.00 456.05h-2.00M520.00 456.05h2.00M422.00 464.75h-3.60M520.00 464.75h3.60M422.00 473.45h-2.00M520.00 473.45h2.00M422.00 482.15h-3.60M520.00 482.15h3.60M422.00 490.85h-2.00M520.00 490.85h2.00M422.00 499.55h-3.60M520.00 499.55h3.60M422.00 508.25h-2.00M520.00 508.25h2.00M422.00 516.95h-3.60M520.00 516.95h3.60M429.00 443.00v-3.60M429.00 521.30v3.60M443.00 443.00v-2.00M443.00 521.30v2.00M457.00 443.00v-3.60M457.00 521.30v3.60M471.00 443.00v-2.00M471.00 521.30v2.00M485.00 443.00v-3.60M485.00 521.30v3.60M499.00 443.00v-2.00M499.00 521.30v2.00M513.00 443.00v-3.60M513.00 521.30v3.60" stroke="#333" stroke-width="0.9" fill="none"/>
<text x="417.00" y="451.85" text-anchor="end" font-size="12">&#8722;15</text>
<text x="417.00" y="469.25" text-anchor="end" font-size="12">&#8722;10</text>
<text x="417.00" y="486.65" text-anchor="end" font-size="12">&#8722;5</text>
<text x="417.00" y="504.05" text-anchor="end" font-size="12">0</text>
<text x="417.00" y="521.45" text-anchor="end" font-size="12">5</text>
<text x="429.00" y="535.30" text-anchor="middle" font-size="12">0</text>
<text x="457.00" y="535.30" text-anchor="middle" font-size="12">8</text>
<text x="485.00" y="535.30" text-anchor="middle" font-size="12">16</text>
<text x="513.00" y="535.30" text-anchor="middle" font-size="12">24</text>
<polyline points="422.9,450.2 423.4,450.0 423.9,449.2 424.4,447.9 424.9,446.9 425.4,447.2 425.9,447.5 426.5,447.9 427.0,448.2 427.5,448.4 428.0,448.7 428.5,448.9 429.0,449.0 429.5,449.2 430.0,449.3 430.5,449.4 431.0,449.6 431.5,449.6 432.0,449.7 432.6,449.8 433.1,449.9 433.6,449.9 434.1,450.0 434.6,450.0 435.1,450.0" fill="none" stroke="#000" stroke-width="1.05" stroke-linejoin="round"/>
<polyline points="436.9,450.3 437.4,450.2 437.9,450.1 438.4,449.9 438.9,449.3 439.4,448.6 439.9,447.9 440.5,447.6 441.0,447.7 441.5,448.3 442.0,449.1 442.5,449.7 443.0,450.0 443.5,450.2 444.0,450.1 444.5,449.7 445.0,449.2 445.5,448.6 446.0,448.3 446.6,448.6 447.1,449.2 447.6,449.8 448.1,450.1 448.6,450.2 449.1,450.3" fill="none" stroke="#000" stroke-width="1.05" stroke-linejoin="round"/>
<polyline points="450.9,450.3 451.4,450.3 451.9,450.3 452.4,450.3 452.9,450.2 453.4,450.2 453.9,450.1 454.5,450.0 455.0,449.8 455.5,449.7 456.0,449.7 456.5,449.7 457.0,449.7 457.5,449.8 458.0,449.9 458.5,450.0 459.0,450.1 459.5,450.2 460.0,450.2 460.6,450.3 461.1,450.3 461.6,450.3 462.1,450.3 462.6,450.3 463.1,450.3" fill="none" stroke="#000" stroke-width="1.05" stroke-linejoin="round"/>
<polyline points="464.9,450.3 465.4,450.3 465.9,450.3 466.4,450.1 466.9,450.0 467.4,449.8 467.9,449.7 468.5,449.7 469.0,449.7 469.5,449.7 470.0,449.7 470.5,449.7 471.0,449.7 471.5,449.7 472.0,449.7 472.5,449.7 473.0,449.7 473.5,449.7 474.0,449.8 474.6,449.9 475.1,450.0 475.6,450.2 476.1,450.3 476.6,450.3 477.1,450.3" fill="none" stroke="#000" stroke-width="1.05" stroke-linejoin="round"/>
<polyline points="478.9,450.3 479.4,450.3 479.9,450.3 480.4,450.2 480.9,450.0 481.4,449.7 481.9,449.5 482.5,449.6 483.0,449.7 483.5,449.7 484.0,449.8 484.5,449.9 485.0,449.9 485.5,450.0 486.0,450.0 486.5,450.0 487.0,450.1 487.5,450.1 488.0,450.1 488.6,450.1 489.1,450.2 489.6,450.2 490.1,450.2 490.6,450.2 491.1,450.2" fill="none" stroke="#000" stroke-width="1.05" stroke-linejoin="round"/>
<polyline points="492.9,450.3 493.4,450.3 493.9,450.3 494.4,450.3 494.9,450.3 495.4,450.1 495.9,449.6 496.5,448.9 497.0,448.4 497.5,448.6 498.0,448.8 498.5,449.0 499.0,449.1 499.5,449.3 500.0,449.4 500.5,449.5 501.0,449.6 501.5,449.7 502.0,449.8 502.6,449.8 503.1,449.9 503.6,449.9 504.1,450.0 504.6,450.0 505.1,450.1" fill="none" stroke="#000" stroke-width="1.05" stroke-linejoin="round"/>
<polyline points="506.9,450.3 507.4,450.2 507.9,450.1 508.4,449.7 508.9,449.1 509.4,448.2 509.9,447.4 510.5,446.9 511.0,447.1 511.5,447.8 512.0,448.8 512.5,449.5 513.0,450.0 513.5,450.1 514.0,450.0 514.5,449.6 515.0,448.9 515.5,448.2 516.0,447.8 516.6,448.2 517.1,448.9 517.6,449.6 518.1,450.1 518.6,450.2 519.1,450.3" fill="none" stroke="#000" stroke-width="1.05" stroke-linejoin="round"/>
<polyline points="422.9,459.0 423.4,459.0 423.9,458.9 424.4,458.8 424.9,458.6 425.4,458.4 425.9,458.0 426.5,457.5 427.0,457.1 427.5,456.6 428.0,456.3 428.5,456.3 429.0,456.4 429.5,456.8 430.0,457.2 430.5,457.7 431.0,458.2 431.5,458.5 432.0,458.7 432.6,458.9 433.1,458.9 433.6,459.0 434.1,459.0 434.6,459.0 435.1,459.0" fill="none" stroke="#000" stroke-width="1.05" stroke-linejoin="round"/>
<polyline points="436.9,459.0 437.4,458.8 437.9,458.3 438.4,457.4 438.9,456.7 439.4,456.9 439.9,457.2 440.5,457.4 441.0,457.6 441.5,457.7 442.0,457.9 442.5,458.0 443.0,458.2 443.5,458.3 444.0,458.3 444.5,458.4 445.0,458.5 445.5,458.6 446.0,458.6 446.6,458.7 447.1,458.7 447.6,458.7 448.1,458.8 448.6,458.8 449.1,458.8" fill="none" stroke="#000" stroke-width="1.05" stroke-linejoin="round"/>
<polyline points="450.9,459.0 451.4,459.0 451.9,458.9 452.4,458.8 452.9,458.6 453.4,458.4 453.9,458.1 454.5,457.9 455.0,458.0 455.5,458.2 456.0,458.5 456.5,458.8 457.0,458.9 457.5,458.9 458.0,458.9 458.5,458.8 459.0,458.6 459.5,458.3 460.0,458.2 460.6,458.3 461.1,458.6 461.6,458.8 462.1,458.9 462.6,459.0 463.1,459.0" fill="none" stroke="#000" stroke-width="1.05" stroke-linejoin="round"/>
<polyline points="464.9,459.0 465.4,458.9 465.9,458.8 466.4,458.6 466.9,458.0 467.4,457.3 467.9,456.6 468.5,456.3 469.0,456.4 469.5,457.0 470.0,457.8 470.5,458.4 471.0,458.7 471.5,458.9 472.0,458.8 472.5,458.4 473.0,457.9 473.5,457.3 474.0,457.0 474.6,457.3 475.1,457.9 475.6,458.5 476.1,458.8 476.6,458.9 477.1,459.0" fill="none" stroke="#000" stroke-width="1.05" stroke-linejoin="round"/>
<polyline points="478.9,459.0 479.4,459.0 479.9,459.0 480.4,458.7 480.9,458.5 481.4,458.2 481.9,458.1 482.5,458.1 483.0,458.1 483.5,458.1 484.0,458.1 484.5,458.1 485.0,458.1 485.5,458.1 486.0,458.1 486.5,458.1 487.0,458.1 487.5,458.1 488.0,458.3 488.6,458.4 489.1,458.6 489.6,458.8 490.1,459.0 490.6,459.0 491.1,459.0" fill="none" stroke="#000" stroke-width="1.05" stroke-linejoin="round"/>
<polyline points="492.9,459.0 493.4,459.0 493.9,459.0 494.4,459.0 494.9,459.0 495.4,458.9 495.9,458.7 496.5,458.4 497.0,458.2 497.5,458.3 498.0,458.4 498.5,458.4 499.0,458.5 499.5,458.6 500.0,458.6 500.5,458.7 501.0,458.7 501.5,458.7 502.0,458.8 502.6,458.8 503.1,458.8 503.6,458.8 504.1,458.9 504.6,458.9 505.1,458.9" fill="none" stroke="#000" stroke-width="1.05" stroke-linejoin="round"/>
<polyline points="506.9,459.0 507.4,459.0 507.9,458.9 508.4,458.8 508.9,458.6 509.4,458.4 509.9,458.0 510.5,457.5 511.0,457.1 511.5,456.6 512.0,456.3 512.5,456.3 513.0,456.4 513.5,456.8 514.0,457.2 514.5,457.7 515.0,458.2 515.5,458.5 516.0,458.7 516.6,458.9 517.1,458.9 517.6,459.0 518.1,459.0 518.6,459.0 519.1,459.0" fill="none" stroke="#000" stroke-width="1.05" stroke-linejoin="round"/>
<polyline points="422.9,467.7 423.4,467.7 423.9,467.6 424.4,467.5 424.9,467.3 425.4,467.0 425.9,466.6 426.5,466.1 427.0,465.5 427.5,465.1 428.0,464.7 428.5,464.7 429.0,464.8 429.5,465.2 430.0,465.8 430.5,466.3 431.0,466.8 431.5,467.1 432.0,467.4 432.6,467.5 433.1,467.6 433.6,467.7 434.1,467.7 434.6,467.7 435.1,467.7" fill="none" stroke="#000" stroke-width="1.05" stroke-linejoin="round"/>
<polyline points="436.9,467.7 437.4,467.7 437.9,467.7 438.4,467.7 438.9,467.7 439.4,467.6 439.9,467.4 440.5,467.1 441.0,466.9 441.5,467.0 442.0,467.1 442.5,467.1 443.0,467.2 443.5,467.3 444.0,467.3 444.5,467.4 445.0,467.4 445.5,467.4 446.0,467.5 446.6,467.5 447.1,467.5 447.6,467.5 448.1,467.6 448.6,467.6 449.1,467.6" fill="none" stroke="#000" stroke-width="1.05" stroke-linejoin="round"/>
<polyline points="450.9,467.7 451.4,467.7 451.9,467.7 452.4,467.5 452.9,467.4 453.4,467.2 453.9,467.1 454.5,467.1 455.0,467.1 455.5,467.1 456.0,467.1 456.5,467.1 457.0,467.1 457.5,467.1 458.0,467.1 458.5,467.1 459.0,467.1 459.5,467.1 460.0,467.2 460.6,467.3 461.1,467.4 461.6,467.6 462.1,467.7 462.6,467.7 463.1,467.7" fill="none" stroke="#000" stroke-width="1.05" stroke-linejoin="round"/>
<polyline points="464.9,467.7 465.4,467.7 465.9,467.6 466.4,467.5 466.9,467.3 467.4,467.1 467.9,466.8 468.5,466.6 469.0,466.7 469.5,466.9 470.0,467.2 470.5,467.5 471.0,467.6 471.5,467.6 472.0,467.6 472.5,467.5 473.0,467.3 473.5,467.0 474.0,466.9 474.6,467.0 475.1,467.3 475.6,467.5 476.1,467.6 476.6,467.7 477.1,467.7" fill="none" stroke="#000" stroke-width="1.05" stroke-linejoin="round"/>
<polyline points="478.9,467.7 479.4,467.7 479.9,467.7 480.4,467.6 480.9,467.6 481.4,467.5 481.9,467.4 482.5,467.2 483.0,467.0 483.5,466.9 484.0,466.8 484.5,466.8 485.0,466.8 485.5,466.9 486.0,467.1 486.5,467.3 487.0,467.4 487.5,467.5 488.0,467.6 488.6,467.6 489.1,467.7 489.6,467.7 490.1,467.7 490.6,467.7 491.1,467.7" fill="none" stroke="#000" stroke-width="1.05" stroke-linejoin="round"/>
<polyline points="492.9,467.7 493.4,467.7 493.9,467.7 494.4,467.7 494.9,467.7 495.4,467.6 495.9,467.3 496.5,466.8 497.0,466.5 497.5,466.6 498.0,466.8 498.5,466.9 499.0,467.0 499.5,467.1 500.0,467.2 500.5,467.2 501.0,467.3 501.5,467.3 502.0,467.4 502.6,467.4 503.1,467.4 503.6,467.5 504.1,467.5 504.6,467.5 505.1,467.6" fill="none" stroke="#000" stroke-width="1.05" stroke-linejoin="round"/>
<polyline points="506.9,467.7 507.4,467.7 507.9,467.7 508.4,467.1 508.9,466.5 509.4,466.0 509.9,465.7 510.5,465.7 511.0,465.7 511.5,465.7 512.0,465.7 512.5,465.7 513.0,465.7 513.5,465.7 514.0,465.7 514.5,465.7 515.0,465.7 515.5,465.7 516.0,466.0 516.6,466.4 517.1,466.8 517.6,467.2 518.1,467.7 518.6,467.7 519.1,467.7" fill="none" stroke="#000" stroke-width="1.05" stroke-linejoin="round"/>
<polyline points="422.9,476.3 423.4,476.0 423.9,475.1 424.4,473.5 424.9,472.3 425.4,472.6 425.9,473.0 426.5,473.5 427.0,473.8 427.5,474.1 428.0,474.4 428.5,474.7 429.0,474.9 429.5,475.1 430.0,475.2 430.5,475.4 431.0,475.5 431.5,475.6 432.0,475.7 432.6,475.8 433.1,475.9 433.6,475.9 434.1,476.0 434.6,476.0 435.1,476.1" fill="none" stroke="#000" stroke-width="1.05" stroke-linejoin="round"/>
<polyline points="436.9,476.4 437.4,476.3 437.9,476.2 438.4,476.0 438.9,475.4 439.4,474.7 439.9,474.0 440.5,473.7 441.0,473.8 441.5,474.4 442.0,475.2 442.5,475.8 443.0,476.1 443.5,476.3 444.0,476.2 444.5,475.8 445.0,475.3 445.5,474.7 446.0,474.4 446.6,474.7 447.1,475.3 447.6,475.9 448.1,476.2 448.6,476.3 449.1,476.4" fill="none" stroke="#000" stroke-width="1.05" stroke-linejoin="round"/>
<polyline points="450.9,476.4 451.4,476.4 451.9,476.4 452.4,476.4 452.9,476.4 453.4,476.3 453.9,476.0 454.5,475.5 455.0,475.2 455.5,475.3 456.0,475.5 456.5,475.6 457.0,475.7 457.5,475.8 458.0,475.9 458.5,475.9 459.0,476.0 459.5,476.0 460.0,476.1 460.6,476.1 461.1,476.1 461.6,476.2 462.1,476.2 462.6,476.2 463.1,476.3" fill="none" stroke="#000" stroke-width="1.05" stroke-linejoin="round"/>
<polyline points="464.9,476.4 465.4,476.3 465.9,476.0 466.4,475.6 466.9,475.3 467.4,475.3 467.9,475.5 468.5,475.6 469.0,475.7 469.5,475.8 470.0,475.8 470.5,475.9 471.0,476.0 471.5,476.0 472.0,476.1 472.5,476.1 473.0,476.1 473.5,476.2 474.0,476.2 474.6,476.2 475.1,476.2 475.6,476.3 476.1,476.3 476.6,476.3 477.1,476.3" fill="none" stroke="#000" stroke-width="1.05" stroke-linejoin="round"/>
<polyline points="478.9,476.4 479.4,476.4 479.9,476.3 480.4,476.2 480.9,476.0 481.4,475.8 481.9,475.5 482.5,475.3 483.0,475.4 483.5,475.6 484.0,475.9 484.5,476.2 485.0,476.3 485.5,476.3 486.0,476.3 486.5,476.2 487.0,476.0 487.5,475.7 488.0,475.6 488.6,475.7 489.1,476.0 489.6,476.2 490.1,476.3 490.6,476.4 491.1,476.4" fill="none" stroke="#000" stroke-width="1.05" stroke-linejoin="round"/>
<polyline points="492.9,476.4 493.4,476.4 493.9,476.4 494.4,476.4 494.9,476.4 495.4,476.3 495.9,476.0 496.5,475.5 497.0,475.2 497.5,475.3 498.0,475.5 498.5,475.6 499.0,475.7 499.5,475.8 500.0,475.9 500.5,475.9 501.0,476.0 501.5,476.0 502.0,476.1 502.6,476.1 503.1,476.1 503.6,476.2 504.1,476.2 504.6,476.2 505.1,476.3" fill="none" stroke="#000" stroke-width="1.05" stroke-linejoin="round"/>
<polyline points="506.9,476.3 507.4,476.1 507.9,475.4 508.4,474.3 508.9,473.4 509.4,473.6 509.9,473.9 510.5,474.2 511.0,474.5 511.5,474.7 512.0,474.9 512.5,475.1 513.0,475.3 513.5,475.4 514.0,475.5 514.5,475.6 515.0,475.7 515.5,475.8 516.0,475.9 516.6,475.9 517.1,476.0 517.6,476.1 518.1,476.1 518.6,476.1 519.1,476.2" fill="none" stroke="#000" stroke-width="1.05" stroke-linejoin="round"/>
<polyline points="422.9,485.1 423.4,485.1 423.9,485.0 424.4,484.7 424.9,483.7 425.4,482.1 425.9,481.0 426.5,481.3 427.0,481.8 427.5,482.2 428.0,482.5 428.5,482.9 429.0,483.1 429.5,483.4 430.0,483.6 430.5,483.8 431.0,483.9 431.5,484.1 432.0,484.2 432.6,484.3 433.1,484.4 433.6,484.5 434.1,484.6 434.6,484.6 435.1,484.7" fill="none" stroke="#000" stroke-width="1.05" stroke-linejoin="round"/>
<polyline points="436.9,485.0 437.4,484.8 437.9,484.0 438.4,482.7 438.9,481.7 439.4,482.0 439.9,482.3 440.5,482.7 441.0,483.0 441.5,483.2 442.0,483.5 442.5,483.7 443.0,483.8 443.5,484.0 444.0,484.1 444.5,484.2 445.0,484.4 445.5,484.4 446.0,484.5 446.6,484.6 447.1,484.7 447.6,484.7 448.1,484.8 448.6,484.8 449.1,484.8" fill="none" stroke="#000" stroke-width="1.05" stroke-linejoin="round"/>
<polyline points="450.9,485.1 451.4,485.1 451.9,485.0 452.4,485.0 452.9,484.9 453.4,484.7 453.9,484.4 454.5,484.1 455.0,483.8 455.5,483.5 456.0,483.3 456.5,483.3 457.0,483.4 457.5,483.6 458.0,483.9 458.5,484.2 459.0,484.5 459.5,484.8 460.0,484.9 460.6,485.0 461.1,485.1 461.6,485.1 462.1,485.1 462.6,485.1 463.1,485.1" fill="none" stroke="#000" stroke-width="1.05" stroke-linejoin="round"/>
<polyline points="464.9,485.1 465.4,485.1 465.9,485.1 466.4,485.0 466.9,485.0 467.4,484.9 467.9,484.8 468.5,484.6 469.0,484.4 469.5,484.3 470.0,484.2 470.5,484.2 471.0,484.2 471.5,484.3 472.0,484.5 472.5,484.7 473.0,484.8 473.5,484.9 474.0,485.0 474.6,485.0 475.1,485.1 475.6,485.1 476.1,485.1 476.6,485.1 477.1,485.1" fill="none" stroke="#000" stroke-width="1.05" stroke-linejoin="round"/>
<polyline points="478.9,485.1 479.4,484.9 479.9,484.4 480.4,483.5 480.9,482.8 481.4,483.0 481.9,483.3 482.5,483.5 483.0,483.7 483.5,483.8 484.0,484.0 484.5,484.1 485.0,484.3 485.5,484.4 486.0,484.4 486.5,484.5 487.0,484.6 487.5,484.7 488.0,484.7 488.6,484.8 489.1,484.8 489.6,484.8 490.1,484.9 490.6,484.9 491.1,484.9" fill="none" stroke="#000" stroke-width="1.05" stroke-linejoin="round"/>
<polyline points="492.9,485.1 493.4,485.1 493.9,485.1 494.4,485.1 494.9,485.0 495.4,484.8 495.9,484.3 496.5,483.4 497.0,482.8 497.5,483.0 498.0,483.3 498.5,483.5 499.0,483.7 499.5,483.9 500.0,484.0 500.5,484.2 501.0,484.3 501.5,484.4 502.0,484.5 502.6,484.5 503.1,484.6 503.6,484.7 504.1,484.7 504.6,484.8 505.1,484.8" fill="none" stroke="#000" stroke-width="1.05" stroke-linejoin="round"/>
<polyline points="506.9,485.1 507.4,485.1 507.9,485.0 508.4,484.8 508.9,484.1 509.4,482.9 509.9,482.1 510.5,482.3 511.0,482.7 511.5,483.0 512.0,483.2 512.5,483.5 513.0,483.7 513.5,483.8 514.0,484.0 514.5,484.1 515.0,484.2 515.5,484.3 516.0,484.4 516.6,484.5 517.1,484.6 517.6,484.7 518.1,484.7 518.6,484.8 519.1,484.8" fill="none" stroke="#000" stroke-width="1.05" stroke-linejoin="round"/>
<polyline points="422.9,493.8 423.4,493.7 423.9,493.4 424.4,492.9 424.9,491.8 425.4,490.3 425.9,488.8 426.5,488.0 427.0,488.4 427.5,489.7 428.0,491.2 428.5,492.5 429.0,493.2 429.5,493.5 430.0,493.3 430.5,492.6 431.0,491.4 431.5,490.2 432.0,489.6 432.6,490.2 433.1,491.4 433.6,492.7 434.1,493.4 434.6,493.7 435.1,493.8" fill="none" stroke="#000" stroke-width="1.05" stroke-linejoin="round"/>
<polyline points="436.9,493.8 437.4,493.8 437.9,493.8 438.4,493.8 438.9,493.7 439.4,493.3 439.9,492.3 440.5,490.7 441.0,489.6 441.5,490.1 442.0,490.5 442.5,490.9 443.0,491.3 443.5,491.6 444.0,491.8 444.5,492.1 445.0,492.3 445.5,492.5 446.0,492.6 446.6,492.8 447.1,492.9 447.6,493.0 448.1,493.1 448.6,493.2 449.1,493.3" fill="none" stroke="#000" stroke-width="1.05" stroke-linejoin="round"/>
<polyline points="450.9,493.8 451.4,493.7 451.9,493.6 452.4,493.3 452.9,492.7 453.4,491.9 453.9,491.1 454.5,490.7 455.0,490.9 455.5,491.6 456.0,492.4 456.5,493.1 457.0,493.5 457.5,493.6 458.0,493.5 458.5,493.2 459.0,492.5 459.5,491.9 460.0,491.6 460.6,491.9 461.1,492.5 461.6,493.2 462.1,493.6 462.6,493.7 463.1,493.8" fill="none" stroke="#000" stroke-width="1.05" stroke-linejoin="round"/>
<polyline points="464.9,493.8 465.4,493.8 465.9,493.8 466.4,493.8 466.9,493.7 467.4,493.5 467.9,492.8 468.5,491.8 469.0,491.1 469.5,491.4 470.0,491.7 470.5,492.0 471.0,492.2 471.5,492.4 472.0,492.5 472.5,492.7 473.0,492.8 473.5,493.0 474.0,493.1 474.6,493.1 475.1,493.2 475.6,493.3 476.1,493.4 476.6,493.4 477.1,493.5" fill="none" stroke="#000" stroke-width="1.05" stroke-linejoin="round"/>
<polyline points="478.9,493.8 479.4,493.8 479.9,493.7 480.4,493.5 480.9,493.2 481.4,492.7 481.9,492.3 482.5,492.1 483.0,492.2 483.5,492.6 484.0,493.0 484.5,493.4 485.0,493.6 485.5,493.7 486.0,493.7 486.5,493.5 487.0,493.1 487.5,492.7 488.0,492.5 488.6,492.7 489.1,493.1 489.6,493.5 490.1,493.7 490.6,493.8 491.1,493.8" fill="none" stroke="#000" stroke-width="1.05" stroke-linejoin="round"/>
<polyline points="492.9,493.8 493.4,493.8 493.9,493.8 494.4,493.8 494.9,493.8 495.4,493.7 495.9,493.4 496.5,492.9 497.0,492.6 497.5,492.7 498.0,492.9 498.5,493.0 499.0,493.1 499.5,493.2 500.0,493.3 500.5,493.3 501.0,493.4 501.5,493.4 502.0,493.5 502.6,493.5 503.1,493.5 503.6,493.6 504.1,493.6 504.6,493.6 505.1,493.7" fill="none" stroke="#000" stroke-width="1.05" stroke-linejoin="round"/>
<polyline points="506.9,493.8 507.4,493.7 507.9,493.6 508.4,493.3 508.9,492.7 509.4,491.9 509.9,491.1 510.5,490.7 511.0,490.9 511.5,491.6 512.0,492.4 512.5,493.1 513.0,493.5 513.5,493.6 514.0,493.5 514.5,493.2 515.0,492.5 515.5,491.9 516.0,491.6 516.6,491.9 517.1,492.5 517.6,493.2 518.1,493.6 518.6,493.7 519.1,493.8" fill="none" stroke="#000" stroke-width="1.05" stroke-linejoin="round"/>
<polyline points="422.9,502.5 423.4,502.4 423.9,502.2 424.4,501.8 424.9,501.1 425.4,500.0 425.9,499.0 426.5,498.4 427.0,498.7 427.5,499.6 428.0,500.7 428.5,501.6 429.0,502.1 429.5,502.3 430.0,502.2 430.5,501.7 431.0,500.8 431.5,499.9 432.0,499.5 432.6,499.9 433.1,500.8 433.6,501.7 434.1,502.2 434.6,502.4 435.1,502.5" fill="none" stroke="#000" stroke-width="1.05" stroke-linejoin="round"/>
<polyline points="436.9,502.5 437.4,502.4 437.9,502.3 438.4,501.9 438.9,501.2 439.4,500.2 439.9,499.3 440.5,498.8 441.0,499.0 441.5,499.8 442.0,500.8 442.5,501.6 443.0,502.1 443.5,502.3 444.0,502.2 444.5,501.7 445.0,501.0 445.5,500.1 446.0,499.8 446.6,500.1 447.1,501.0 447.6,501.8 448.1,502.2 448.6,502.4 449.1,502.5" fill="none" stroke="#000" stroke-width="1.05" stroke-linejoin="round"/>
<polyline points="450.9,502.5 451.4,502.5 451.9,502.4 452.4,501.8 452.9,501.2 453.4,500.5 453.9,500.2 454.5,500.2 455.0,500.2 455.5,500.2 456.0,500.2 456.5,500.2 457.0,500.2 457.5,500.2 458.0,500.2 458.5,500.2 459.0,500.2 459.5,500.2 460.0,500.6 460.6,501.0 461.1,501.5 461.6,502.0 462.1,502.5 462.6,502.5 463.1,502.5" fill="none" stroke="#000" stroke-width="1.05" stroke-linejoin="round"/>
<polyline points="464.9,502.5 465.4,502.5 465.9,502.4 466.4,501.8 466.9,501.2 467.4,500.5 467.9,500.2 468.5,500.2 469.0,500.2 469.5,500.2 470.0,500.2 470.5,500.2 471.0,500.2 471.5,500.2 472.0,500.2 472.5,500.2 473.0,500.2 473.5,500.2 474.0,500.6 474.6,501.0 475.1,501.5 475.6,502.0 476.1,502.5 476.6,502.5 477.1,502.5" fill="none" stroke="#000" stroke-width="1.05" stroke-linejoin="round"/>
<polyline points="478.9,502.5 479.4,502.5 479.9,502.5 480.4,502.4 480.9,502.1 481.4,501.7 481.9,501.3 482.5,501.4 483.0,501.6 483.5,501.7 484.0,501.8 484.5,501.9 485.0,501.9 485.5,502.0 486.0,502.1 486.5,502.1 487.0,502.2 487.5,502.2 488.0,502.2 488.6,502.3 489.1,502.3 489.6,502.3 490.1,502.3 490.6,502.4 491.1,502.4" fill="none" stroke="#000" stroke-width="1.05" stroke-linejoin="round"/>
<polyline points="492.9,502.5 493.4,502.5 493.9,502.5 494.4,502.5 494.9,502.5 495.4,502.4 495.9,502.1 496.5,501.6 497.0,501.3 497.5,501.4 498.0,501.6 498.5,501.7 499.0,501.8 499.5,501.9 500.0,502.0 500.5,502.0 501.0,502.1 501.5,502.1 502.0,502.2 502.6,502.2 503.1,502.2 503.6,502.3 504.1,502.3 504.6,502.3 505.1,502.4" fill="none" stroke="#000" stroke-width="1.05" stroke-linejoin="round"/>
<polyline points="506.9,502.5 507.4,502.2 507.9,501.7 508.4,500.7 508.9,499.9 509.4,500.1 509.9,500.4 510.5,500.6 511.0,500.8 511.5,501.0 512.0,501.2 512.5,501.4 513.0,501.5 513.5,501.6 514.0,501.7 514.5,501.8 515.0,501.9 515.5,502.0 516.0,502.0 516.6,502.1 517.1,502.2 517.6,502.2 518.1,502.2 518.6,502.3 519.1,502.3" fill="none" stroke="#000" stroke-width="1.05" stroke-linejoin="round"/>
<polyline points="422.9,511.2 423.4,511.1 423.9,511.0 424.4,510.6 424.9,509.9 425.4,508.9 425.9,508.0 426.5,507.5 427.0,507.7 427.5,508.5 428.0,509.5 428.5,510.3 429.0,510.8 429.5,511.0 430.0,510.9 430.5,510.4 431.0,509.7 431.5,508.8 432.0,508.5 432.6,508.8 433.1,509.7 433.6,510.5 434.1,510.9 434.6,511.1 435.1,511.2" fill="none" stroke="#000" stroke-width="1.05" stroke-linejoin="round"/>
<polyline points="436.9,511.1 437.4,510.9 437.9,510.1 438.4,508.8 438.9,507.8 439.4,508.1 439.9,508.4 440.5,508.8 441.0,509.1 441.5,509.3 442.0,509.6 442.5,509.8 443.0,509.9 443.5,510.1 444.0,510.2 444.5,510.3 445.0,510.5 445.5,510.5 446.0,510.6 446.6,510.7 447.1,510.8 447.6,510.8 448.1,510.9 448.6,510.9 449.1,510.9" fill="none" stroke="#000" stroke-width="1.05" stroke-linejoin="round"/>
<polyline points="450.9,511.2 451.4,511.2 451.9,511.2 452.4,511.2 452.9,511.1 453.4,510.8 453.9,509.9 454.5,508.6 455.0,507.8 455.5,508.1 456.0,508.5 456.5,508.8 457.0,509.1 457.5,509.4 458.0,509.6 458.5,509.8 459.0,510.0 459.5,510.1 460.0,510.2 460.6,510.4 461.1,510.5 461.6,510.6 462.1,510.6 462.6,510.7 463.1,510.8" fill="none" stroke="#000" stroke-width="1.05" stroke-linejoin="round"/>
<polyline points="464.9,511.2 465.4,511.2 465.9,511.1 466.4,510.8 466.9,510.4 467.4,509.7 467.9,509.1 468.5,508.8 469.0,508.9 469.5,509.5 470.0,510.1 470.5,510.7 471.0,511.0 471.5,511.1 472.0,511.0 472.5,510.7 473.0,510.2 473.5,509.7 474.0,509.5 474.6,509.7 475.1,510.2 475.6,510.7 476.1,511.0 476.6,511.2 477.1,511.2" fill="none" stroke="#000" stroke-width="1.05" stroke-linejoin="round"/>
<polyline points="478.9,511.2 479.4,511.0 479.9,510.5 480.4,509.6 480.9,508.9 481.4,509.1 481.9,509.4 482.5,509.6 483.0,509.8 483.5,509.9 484.0,510.1 484.5,510.2 485.0,510.4 485.5,510.5 486.0,510.5 486.5,510.6 487.0,510.7 487.5,510.8 488.0,510.8 488.6,510.9 489.1,510.9 489.6,510.9 490.1,511.0 490.6,511.0 491.1,511.0" fill="none" stroke="#000" stroke-width="1.05" stroke-linejoin="round"/>
<polyline points="492.9,511.2 493.4,511.2 493.9,511.2 494.4,511.2 494.9,511.1 495.4,510.9 495.9,510.4 496.5,509.5 497.0,508.9 497.5,509.1 498.0,509.4 498.5,509.6 499.0,509.8 499.5,510.0 500.0,510.1 500.5,510.3 501.0,510.4 501.5,510.5 502.0,510.6 502.6,510.6 503.1,510.7 503.6,510.8 504.1,510.8 504.6,510.9 505.1,510.9" fill="none" stroke="#000" stroke-width="1.05" stroke-linejoin="round"/>
<polyline points="506.9,511.2 507.4,511.1 507.9,511.0 508.4,510.6 508.9,509.9 509.4,508.9 509.9,508.0 510.5,507.5 511.0,507.7 511.5,508.5 512.0,509.5 512.5,510.3 513.0,510.8 513.5,511.0 514.0,510.9 514.5,510.4 515.0,509.7 515.5,508.8 516.0,508.5 516.6,508.8 517.1,509.7 517.6,510.5 518.1,510.9 518.6,511.1 519.1,511.2" fill="none" stroke="#000" stroke-width="1.05" stroke-linejoin="round"/>
<polyline points="422.9,519.9 423.4,519.9 423.9,519.8 424.4,519.2 424.9,518.6 425.4,517.9 425.9,517.6 426.5,517.6 427.0,517.6 427.5,517.6 428.0,517.6 428.5,517.6 429.0,517.6 429.5,517.6 430.0,517.6 430.5,517.6 431.0,517.6 431.5,517.6 432.0,518.0 432.6,518.4 433.1,518.9 433.6,519.4 434.1,519.9 434.6,519.9 435.1,519.9" fill="none" stroke="#000" stroke-width="1.05" stroke-linejoin="round"/>
<polyline points="436.9,519.9 437.4,519.9 437.9,519.9 438.4,519.9 438.9,519.8 439.4,519.5 439.9,518.6 440.5,517.3 441.0,516.5 441.5,516.8 442.0,517.2 442.5,517.5 443.0,517.8 443.5,518.1 444.0,518.3 444.5,518.5 445.0,518.7 445.5,518.8 446.0,518.9 446.6,519.1 447.1,519.2 447.6,519.3 448.1,519.3 448.6,519.4 449.1,519.5" fill="none" stroke="#000" stroke-width="1.05" stroke-linejoin="round"/>
<polyline points="450.9,519.9 451.4,519.9 451.9,519.8 452.4,519.7 452.9,519.6 453.4,519.3 453.9,519.0 454.5,518.6 455.0,518.2 455.5,517.8 456.0,517.5 456.5,517.5 457.0,517.6 457.5,517.9 458.0,518.3 458.5,518.8 459.0,519.1 459.5,519.4 460.0,519.6 460.6,519.8 461.1,519.8 461.6,519.9 462.1,519.9 462.6,519.9 463.1,519.9" fill="none" stroke="#000" stroke-width="1.05" stroke-linejoin="round"/>
<polyline points="464.9,519.9 465.4,519.9 465.9,519.8 466.4,519.6 466.9,519.3 467.4,518.8 467.9,518.4 468.5,518.2 469.0,518.3 469.5,518.7 470.0,519.1 470.5,519.5 471.0,519.7 471.5,519.8 472.0,519.8 472.5,519.6 473.0,519.2 473.5,518.8 474.0,518.6 474.6,518.8 475.1,519.2 475.6,519.6 476.1,519.8 476.6,519.9 477.1,519.9" fill="none" stroke="#000" stroke-width="1.05" stroke-linejoin="round"/>
<polyline points="478.9,519.9 479.4,519.9 479.9,519.9 480.4,519.5 480.9,519.1 481.4,518.7 481.9,518.5 482.5,518.5 483.0,518.5 483.5,518.5 484.0,518.5 484.5,518.5 485.0,518.5 485.5,518.5 486.0,518.5 486.5,518.5 487.0,518.5 487.5,518.5 488.0,518.7 488.6,519.0 489.1,519.3 489.6,519.6 490.1,519.9 490.6,519.9 491.1,519.9" fill="none" stroke="#000" stroke-width="1.05" stroke-linejoin="round"/>
<polyline points="492.9,519.9 493.4,519.9 493.9,519.9 494.4,519.9 494.9,519.9 495.4,519.8 495.9,519.5 496.5,519.0 497.0,518.7 497.5,518.8 498.0,519.0 498.5,519.1 499.0,519.2 499.5,519.3 500.0,519.4 500.5,519.4 501.0,519.5 501.5,519.5 502.0,519.6 502.6,519.6 503.1,519.6 503.6,519.7 504.1,519.7 504.6,519.7 505.1,519.8" fill="none" stroke="#000" stroke-width="1.05" stroke-linejoin="round"/>
<polyline points="506.9,519.9 507.4,519.8 507.9,519.8 508.4,519.7 508.9,519.5 509.4,519.1 509.9,518.7 510.5,518.1 511.0,517.5 511.5,517.0 512.0,516.7 512.5,516.6 513.0,516.8 513.5,517.2 514.0,517.8 514.5,518.3 515.0,518.9 515.5,519.3 516.0,519.5 516.6,519.7 517.1,519.8 517.6,519.9 518.1,519.9 518.6,519.9 519.1,519.9" fill="none" stroke="#000" stroke-width="1.05" stroke-linejoin="round"/>
<rect x="555.00" y="443.00" width="14.00" height="8.70" fill="rgb(250,242,0)"/>
<rect x="569.00" y="443.00" width="14.00" height="8.70" fill="rgb(250,242,0)"/>
<rect x="583.00" y="443.00" width="14.00" height="8.70" fill="rgb(90,238,30)"/>
<rect x="597.00" y="443.00" width="14.00" height="8.70" fill="rgb(90,238,30)"/>
<rect x="611.00" y="443.00" width="14.00" height="8.70" fill="rgb(250,242,0)"/>
<rect x="625.00" y="443.00" width="14.00" height="8.70" fill="rgb(255,160,0)"/>
<rect x="639.00" y="443.00" width="14.00" height="8.70" fill="rgb(255,212,0)"/>
<rect x="653.00" y="443.00" width="14.00" height="8.70" fill="rgb(250,242,0)"/>
<rect x="667.00" y="443.00" width="14.00" height="8.70" fill="rgb(250,242,0)"/>
<rect x="555.00" y="451.70" width="14.00" height="8.70" fill="rgb(90,238,30)"/>
<rect x="569.00" y="451.70" width="14.00" height="8.70" fill="rgb(90,238,30)"/>
<rect x="583.00" y="451.70" width="14.00" height="8.70" fill="rgb(250,242,0)"/>
<rect x="597.00" y="451.70" width="14.00" height="8.70" fill="rgb(250,242,0)"/>
<rect x="611.00" y="451.70" width="14.00" height="8.70" fill="rgb(250,242,0)"/>
<rect x="625.00" y="451.70" width="14.00" height="8.70" fill="rgb(255,160,0)"/>
<rect x="639.00" y="451.70" width="14.00" height="8.70" fill="rgb(250,242,0)"/>
<rect x="653.00" y="451.70" width="14.00" height="8.70" fill="rgb(190,245,0)"/>
<rect x="667.00" y="451.70" width="14.00" height="8.70" fill="rgb(22,232,92)"/>
<rect x="555.00" y="460.40" width="14.00" height="8.70" fill="rgb(250,242,0)"/>
<rect x="569.00" y="460.40" width="14.00" height="8.70" fill="rgb(190,245,0)"/>
<rect x="583.00" y="460.40" width="14.00" height="8.70" fill="rgb(250,242,0)"/>
<rect x="597.00" y="460.40" width="14.00" height="8.70" fill="rgb(255,100,0)"/>
<rect x="611.00" y="460.40" width="14.00" height="8.70" fill="rgb(250,242,0)"/>
<rect x="625.00" y="460.40" width="14.00" height="8.70" fill="rgb(250,242,0)"/>
<rect x="639.00" y="460.40" width="14.00" height="8.70" fill="rgb(190,245,0)"/>
<rect x="653.00" y="460.40" width="14.00" height="8.70" fill="rgb(90,238,30)"/>
<rect x="667.00" y="460.40" width="14.00" height="8.70" fill="rgb(0,110,235)"/>
<rect x="555.00" y="469.10" width="14.00" height="8.70" fill="rgb(255,160,0)"/>
<rect x="569.00" y="469.10" width="14.00" height="8.70" fill="rgb(22,232,92)"/>
<rect x="583.00" y="469.10" width="14.00" height="8.70" fill="rgb(250,242,0)"/>
<rect x="597.00" y="469.10" width="14.00" height="8.70" fill="rgb(255,160,0)"/>
<rect x="611.00" y="469.10" width="14.00" height="8.70" fill="rgb(250,242,0)"/>
<rect x="625.00" y="469.10" width="14.00" height="8.70" fill="rgb(22,232,92)"/>
<rect x="639.00" y="469.10" width="14.00" height="8.70" fill="rgb(190,245,0)"/>
<rect x="653.00" y="469.10" width="14.00" height="8.70" fill="rgb(0,200,140)"/>
<rect x="667.00" y="469.10" width="14.00" height="8.70" fill="rgb(0,20,210)"/>
<rect x="555.00" y="477.80" width="14.00" height="8.70" fill="rgb(255,160,0)"/>
<rect x="569.00" y="477.80" width="14.00" height="8.70" fill="rgb(190,245,0)"/>
<rect x="583.00" y="477.80" width="14.00" height="8.70" fill="rgb(190,245,0)"/>
<rect x="597.00" y="477.80" width="14.00" height="8.70" fill="rgb(250,242,0)"/>
<rect x="611.00" y="477.80" width="14.00" height="8.70" fill="rgb(250,242,0)"/>
<rect x="625.00" y="477.80" width="14.00" height="8.70" fill="rgb(22,232,92)"/>
<rect x="639.00" y="477.80" width="14.00" height="8.70" fill="rgb(90,238,30)"/>
<rect x="653.00" y="477.80" width="14.00" height="8.70" fill="rgb(0,165,180)"/>
<rect x="667.00" y="477.80" width="14.00" height="8.70" fill="rgb(0,20,210)"/>
<rect x="555.00" y="486.50" width="14.00" height="8.70" fill="rgb(255,160,0)"/>
<rect x="569.00" y="486.50" width="14.00" height="8.70" fill="rgb(250,242,0)"/>
<rect x="583.00" y="486.50" width="14.00" height="8.70" fill="rgb(0,165,180)"/>
<rect x="597.00" y="486.50" width="14.00" height="8.70" fill="rgb(90,238,30)"/>
<rect x="611.00" y="486.50" width="14.00" height="8.70" fill="rgb(22,232,92)"/>
<rect x="625.00" y="486.50" width="14.00" height="8.70" fill="rgb(0,165,180)"/>
<rect x="639.00" y="486.50" width="14.00" height="8.70" fill="rgb(0,60,233)"/>
<rect x="653.00" y="486.50" width="14.00" height="8.70" fill="rgb(0,60,233)"/>
<rect x="667.00" y="486.50" width="14.00" height="8.70" fill="rgb(0,60,233)"/>
<rect x="555.00" y="495.20" width="14.00" height="8.70" fill="rgb(255,100,0)"/>
<rect x="569.00" y="495.20" width="14.00" height="8.70" fill="rgb(250,242,0)"/>
<rect x="583.00" y="495.20" width="14.00" height="8.70" fill="rgb(0,60,233)"/>
<rect x="597.00" y="495.20" width="14.00" height="8.70" fill="rgb(22,232,92)"/>
<rect x="611.00" y="495.20" width="14.00" height="8.70" fill="rgb(22,232,92)"/>
<rect x="625.00" y="495.20" width="14.00" height="8.70" fill="rgb(0,165,180)"/>
<rect x="639.00" y="495.20" width="14.00" height="8.70" fill="rgb(0,60,233)"/>
<rect x="653.00" y="495.20" width="14.00" height="8.70" fill="rgb(0,60,233)"/>
<rect x="667.00" y="495.20" width="14.00" height="8.70" fill="rgb(0,60,233)"/>
<rect x="555.00" y="503.90" width="14.00" height="8.70" fill="rgb(255,212,0)"/>
<rect x="569.00" y="503.90" width="14.00" height="8.70" fill="rgb(22,232,92)"/>
<rect x="583.00" y="503.90" width="14.00" height="8.70" fill="rgb(0,60,233)"/>
<rect x="597.00" y="503.90" width="14.00" height="8.70" fill="rgb(22,232,92)"/>
<rect x="611.00" y="503.90" width="14.00" height="8.70" fill="rgb(22,232,92)"/>
<rect x="625.00" y="503.90" width="14.00" height="8.70" fill="rgb(0,165,180)"/>
<rect x="639.00" y="503.90" width="14.00" height="8.70" fill="rgb(0,60,233)"/>
<rect x="653.00" y="503.90" width="14.00" height="8.70" fill="rgb(0,60,233)"/>
<rect x="667.00" y="503.90" width="14.00" height="8.70" fill="rgb(0,60,233)"/>
<rect x="555.00" y="512.60" width="14.00" height="8.70" fill="rgb(0,200,140)"/>
<rect x="569.00" y="512.60" width="14.00" height="8.70" fill="rgb(0,20,210)"/>
<rect x="583.00" y="512.60" width="14.00" height="8.70" fill="rgb(0,60,233)"/>
<rect x="597.00" y="512.60" width="14.00" height="8.70" fill="rgb(90,238,30)"/>
<rect x="611.00" y="512.60" width="14.00" height="8.70" fill="rgb(0,165,180)"/>
<rect x="625.00" y="512.60" width="14.00" height="8.70" fill="rgb(0,165,180)"/>
<rect x="639.00" y="512.60" width="14.00" height="8.70" fill="rgb(0,60,233)"/>
<rect x="653.00" y="512.60" width="14.00" height="8.70" fill="rgb(0,60,233)"/>
<rect x="667.00" y="512.60" width="14.00" height="8.70" fill="rgb(0,20,210)"/>
<path d="M555.00 443.00V521.30M569.00 443.00V521.30M583.00 443.00V521.30M597.00 443.00V521.30M611.00 443.00V521.30M625.00 443.00V521.30M639.00 443.00V521.30M653.00 443.00V521.30M667.00 443.00V521.30M681.00 443.00V521.30M555.00 443.00H681.00M555.00 451.70H681.00M555.00 460.40H681.00M555.00 469.10H681.00M555.00 477.80H681.00M555.00 486.50H681.00M555.00 495.20H681.00M555.00 503.90H681.00M555.00 512.60H681.00M555.00 521.30H681.00" stroke="#000" stroke-width="1.2" fill="none"/>
<path d="M555.00 447.35h-3.60M681.00 447.35h3.60M555.00 456.05h-2.00M681.00 456.05h2.00M555.00 464.75h-3.60M681.00 464.75h3.60M555.00 473.45h-2.00M681.00 473.45h2.00M555.00 482.15h-3.60M681.00 482.15h3.60M555.00 490.85h-2.00M681.00 490.85h2.00M555.00 499.55h-3.60M681.00 499.55h3.60M555.00 508.25h-2.00M681.00 508.25h2.00M555.00 516.95h-3.60M681.00 516.95h3.60M562.00 443.00v-3.60M562.00 521.30v3.60M576.00 443.00v-2.00M576.00 521.30v2.00M590.00 443.00v-3.60M590.00 521.30v3.60M604.00 443.00v-2.00M604.00 521.30v2.00M618.00 443.00v-3.60M618.00 521.30v3.60M632.00 443.00v-2.00M632.00 521.30v2.00M646.00 443.00v-3.60M646.00 521.30v3.60M660.00 443.00v-2.00M660.00 521.30v2.00M674.00 443.00v-3.60M674.00 521.30v3.60" stroke="#333" stroke-width="0.9" fill="none"/>
<text x="550.00" y="451.85" text-anchor="end" font-size="12">&#8722;10</text>
<text x="550.00" y="469.25" text-anchor="end" font-size="12">&#8722;5</text>
<text x="550.00" y="486.65" text-anchor="end" font-size="12">0</text>
<text x="550.00" y="504.05" text-anchor="end" font-size="12">5</text>
<text x="550.00" y="521.45" text-anchor="end" font-size="12">10</text>
<text x="562.00" y="535.30" text-anchor="middle" font-size="12">0</text>
<text x="590.00" y="535.30" text-anchor="middle" font-size="12">8</text>
<text x="618.00" y="535.30" text-anchor="middle" font-size="12">16</text>
<text x="646.00" y="535.30" text-anchor="middle" font-size="12">24</text>
<text x="674.00" y="535.30" text-anchor="middle" font-size="12">32</text>
<polyline points="555.9,450.2 556.4,449.9 556.9,449.0 557.4,447.4 557.9,446.2 558.4,446.5 558.9,446.9 559.5,447.4 560.0,447.7 560.5,448.0 561.0,448.3 561.5,448.6 562.0,448.8 562.5,449.0 563.0,449.1 563.5,449.3 564.0,449.4 564.5,449.5 565.0,449.6 565.6,449.7 566.1,449.8 566.6,449.8 567.1,449.9 567.6,449.9 568.1,450.0" fill="none" stroke="#000" stroke-width="1.05" stroke-linejoin="round"/>
<polyline points="569.9,450.3 570.4,450.2 570.9,450.1 571.4,449.7 571.9,449.0 572.4,448.0 572.9,447.1 573.5,446.6 574.0,446.8 574.5,447.6 575.0,448.6 575.5,449.4 576.0,449.9 576.5,450.1 577.0,450.0 577.5,449.5 578.0,448.8 578.5,447.9 579.0,447.6 579.6,447.9 580.1,448.8 580.6,449.6 581.1,450.0 581.6,450.2 582.1,450.3" fill="none" stroke="#000" stroke-width="1.05" stroke-linejoin="round"/>
<polyline points="583.9,450.3 584.4,450.3 584.9,450.2 585.4,450.1 585.9,449.9 586.4,449.7 586.9,449.3 587.5,448.8 588.0,448.4 588.5,447.9 589.0,447.6 589.5,447.6 590.0,447.7 590.5,448.1 591.0,448.5 591.5,449.0 592.0,449.5 592.5,449.8 593.0,450.0 593.6,450.2 594.1,450.2 594.6,450.3 595.1,450.3 595.6,450.3 596.1,450.3" fill="none" stroke="#000" stroke-width="1.05" stroke-linejoin="round"/>
<polyline points="597.9,450.3 598.4,450.3 598.9,450.2 599.4,449.5 599.9,448.8 600.4,448.1 600.9,447.7 601.5,447.7 602.0,447.7 602.5,447.7 603.0,447.7 603.5,447.7 604.0,447.7 604.5,447.7 605.0,447.7 605.5,447.7 606.0,447.7 606.5,447.7 607.0,448.1 607.6,448.7 608.1,449.2 608.6,449.7 609.1,450.3 609.6,450.3 610.1,450.3" fill="none" stroke="#000" stroke-width="1.05" stroke-linejoin="round"/>
<polyline points="611.9,450.3 612.4,450.3 612.9,450.2 613.4,449.9 613.9,448.9 614.4,447.3 614.9,446.2 615.5,446.5 616.0,447.0 616.5,447.4 617.0,447.7 617.5,448.1 618.0,448.3 618.5,448.6 619.0,448.8 619.5,449.0 620.0,449.1 620.5,449.3 621.0,449.4 621.6,449.5 622.1,449.6 622.6,449.7 623.1,449.8 623.6,449.8 624.1,449.9" fill="none" stroke="#000" stroke-width="1.05" stroke-linejoin="round"/>
<polyline points="625.9,450.3 626.4,450.3 626.9,450.3 627.4,450.3 627.9,450.2 628.4,449.7 628.9,448.5 629.5,446.6 630.0,445.4 630.5,445.9 631.0,446.4 631.5,446.9 632.0,447.3 632.5,447.7 633.0,448.0 633.5,448.3 634.0,448.5 634.5,448.7 635.0,448.9 635.6,449.1 636.1,449.2 636.6,449.4 637.1,449.5 637.6,449.6 638.1,449.7" fill="none" stroke="#000" stroke-width="1.05" stroke-linejoin="round"/>
<polyline points="639.9,450.3 640.4,450.2 640.9,450.0 641.4,449.6 641.9,448.9 642.4,447.8 642.9,446.8 643.5,446.2 644.0,446.5 644.5,447.4 645.0,448.5 645.5,449.4 646.0,449.9 646.5,450.1 647.0,450.0 647.5,449.5 648.0,448.6 648.5,447.7 649.0,447.3 649.6,447.7 650.1,448.6 650.6,449.5 651.1,450.0 651.6,450.2 652.1,450.3" fill="none" stroke="#000" stroke-width="1.05" stroke-linejoin="round"/>
<polyline points="653.9,450.3 654.4,450.2 654.9,450.2 655.4,450.1 655.9,449.9 656.4,449.5 656.9,449.1 657.5,448.5 658.0,447.9 658.5,447.4 659.0,447.1 659.5,447.0 660.0,447.2 660.5,447.6 661.0,448.2 661.5,448.7 662.0,449.3 662.5,449.7 663.0,449.9 663.6,450.1 664.1,450.2 664.6,450.3 665.1,450.3 665.6,450.3 666.1,450.3" fill="none" stroke="#000" stroke-width="1.05" stroke-linejoin="round"/>
<polyline points="667.9,450.3 668.4,450.3 668.9,450.2 669.4,449.4 669.9,448.5 670.4,447.6 670.9,447.2 671.5,447.2 672.0,447.2 672.5,447.2 673.0,447.2 673.5,447.2 674.0,447.2 674.5,447.2 675.0,447.2 675.5,447.2 676.0,447.2 676.5,447.2 677.0,447.6 677.6,448.3 678.1,448.9 678.6,449.6 679.1,450.2 679.6,450.3 680.1,450.3" fill="none" stroke="#000" stroke-width="1.05" stroke-linejoin="round"/>
<polyline points="555.9,459.0 556.4,459.0 556.9,458.9 557.4,458.8 557.9,458.6 558.4,458.4 558.9,458.0 559.5,457.5 560.0,457.1 560.5,456.6 561.0,456.3 561.5,456.3 562.0,456.4 562.5,456.8 563.0,457.2 563.5,457.7 564.0,458.2 564.5,458.5 565.0,458.7 565.6,458.9 566.1,458.9 566.6,459.0 567.1,459.0 567.6,459.0 568.1,459.0" fill="none" stroke="#000" stroke-width="1.05" stroke-linejoin="round"/>
<polyline points="569.9,458.9 570.4,458.7 570.9,457.9 571.4,456.6 571.9,455.6 572.4,455.9 572.9,456.2 573.5,456.6 574.0,456.9 574.5,457.1 575.0,457.4 575.5,457.6 576.0,457.7 576.5,457.9 577.0,458.0 577.5,458.1 578.0,458.3 578.5,458.3 579.0,458.4 579.6,458.5 580.1,458.6 580.6,458.6 581.1,458.7 581.6,458.7 582.1,458.7" fill="none" stroke="#000" stroke-width="1.05" stroke-linejoin="round"/>
<polyline points="583.9,459.0 584.4,458.9 584.9,458.8 585.4,458.4 585.9,457.7 586.4,456.7 586.9,455.8 587.5,455.3 588.0,455.5 588.5,456.3 589.0,457.3 589.5,458.1 590.0,458.6 590.5,458.8 591.0,458.7 591.5,458.2 592.0,457.5 592.5,456.6 593.0,456.3 593.6,456.6 594.1,457.5 594.6,458.3 595.1,458.7 595.6,458.9 596.1,459.0" fill="none" stroke="#000" stroke-width="1.05" stroke-linejoin="round"/>
<polyline points="597.9,459.0 598.4,458.9 598.9,458.8 599.4,458.4 599.9,457.7 600.4,456.7 600.9,455.8 601.5,455.3 602.0,455.5 602.5,456.3 603.0,457.3 603.5,458.1 604.0,458.6 604.5,458.8 605.0,458.7 605.5,458.2 606.0,457.5 606.5,456.6 607.0,456.3 607.6,456.6 608.1,457.5 608.6,458.3 609.1,458.7 609.6,458.9 610.1,459.0" fill="none" stroke="#000" stroke-width="1.05" stroke-linejoin="round"/>
<polyline points="611.9,459.0 612.4,459.0 612.9,458.9 613.4,458.1 613.9,457.2 614.4,456.3 614.9,455.9 615.5,455.9 616.0,455.9 616.5,455.9 617.0,455.9 617.5,455.9 618.0,455.9 618.5,455.9 619.0,455.9 619.5,455.9 620.0,455.9 620.5,455.9 621.0,456.3 621.6,457.0 622.1,457.6 622.6,458.3 623.1,458.9 623.6,459.0 624.1,459.0" fill="none" stroke="#000" stroke-width="1.05" stroke-linejoin="round"/>
<polyline points="625.9,459.0 626.4,459.0 626.9,459.0 627.4,459.0 627.9,458.9 628.4,458.4 628.9,457.2 629.5,455.3 630.0,454.1 630.5,454.6 631.0,455.1 631.5,455.6 632.0,456.0 632.5,456.4 633.0,456.7 633.5,457.0 634.0,457.2 634.5,457.4 635.0,457.6 635.6,457.8 636.1,457.9 636.6,458.1 637.1,458.2 637.6,458.3 638.1,458.4" fill="none" stroke="#000" stroke-width="1.05" stroke-linejoin="round"/>
<polyline points="639.9,459.0 640.4,458.9 640.9,458.9 641.4,458.8 641.9,458.6 642.4,458.2 642.9,457.8 643.5,457.2 644.0,456.6 644.5,456.1 645.0,455.8 645.5,455.7 646.0,455.9 646.5,456.3 647.0,456.9 647.5,457.4 648.0,458.0 648.5,458.4 649.0,458.6 649.6,458.8 650.1,458.9 650.6,459.0 651.1,459.0 651.6,459.0 652.1,459.0" fill="none" stroke="#000" stroke-width="1.05" stroke-linejoin="round"/>
<polyline points="653.9,458.9 654.4,458.6 654.9,457.8 655.4,456.4 655.9,455.3 656.4,455.5 656.9,455.9 657.5,456.3 658.0,456.6 658.5,456.9 659.0,457.2 659.5,457.4 660.0,457.6 660.5,457.8 661.0,457.9 661.5,458.1 662.0,458.2 662.5,458.3 663.0,458.4 663.6,458.4 664.1,458.5 664.6,458.6 665.1,458.6 665.6,458.7 666.1,458.7" fill="none" stroke="#000" stroke-width="1.05" stroke-linejoin="round"/>
<polyline points="667.9,459.0 668.4,458.9 668.9,458.8 669.4,458.6 669.9,458.0 670.4,457.3 670.9,456.6 671.5,456.3 672.0,456.4 672.5,457.0 673.0,457.8 673.5,458.4 674.0,458.7 674.5,458.9 675.0,458.8 675.5,458.4 676.0,457.9 676.5,457.3 677.0,457.0 677.6,457.3 678.1,457.9 678.6,458.5 679.1,458.8 679.6,458.9 680.1,459.0" fill="none" stroke="#000" stroke-width="1.05" stroke-linejoin="round"/>
<polyline points="555.9,467.7 556.4,467.6 556.9,467.6 557.4,467.5 557.9,467.3 558.4,466.9 558.9,466.5 559.5,465.9 560.0,465.3 560.5,464.8 561.0,464.5 561.5,464.4 562.0,464.6 562.5,465.0 563.0,465.6 563.5,466.1 564.0,466.7 564.5,467.1 565.0,467.3 565.6,467.5 566.1,467.6 566.6,467.7 567.1,467.7 567.6,467.7 568.1,467.7" fill="none" stroke="#000" stroke-width="1.05" stroke-linejoin="round"/>
<polyline points="569.9,467.7 570.4,467.7 570.9,467.7 571.4,467.7 571.9,467.6 572.4,467.3 572.9,466.3 573.5,464.9 574.0,463.9 574.5,464.3 575.0,464.7 575.5,465.1 576.0,465.4 576.5,465.7 577.0,465.9 577.5,466.1 578.0,466.3 578.5,466.5 579.0,466.6 579.6,466.8 580.1,466.9 580.6,467.0 581.1,467.1 581.6,467.1 582.1,467.2" fill="none" stroke="#000" stroke-width="1.05" stroke-linejoin="round"/>
<polyline points="583.9,467.7 584.4,467.7 584.9,467.6 585.4,466.8 585.9,465.9 586.4,465.0 586.9,464.6 587.5,464.6 588.0,464.6 588.5,464.6 589.0,464.6 589.5,464.6 590.0,464.6 590.5,464.6 591.0,464.6 591.5,464.6 592.0,464.6 592.5,464.6 593.0,465.0 593.6,465.7 594.1,466.3 594.6,467.0 595.1,467.6 595.6,467.7 596.1,467.7" fill="none" stroke="#000" stroke-width="1.05" stroke-linejoin="round"/>
<polyline points="597.9,467.7 598.4,467.6 598.9,467.4 599.4,466.9 599.9,465.9 600.4,464.6 600.9,463.3 601.5,462.6 602.0,462.9 602.5,464.0 603.0,465.4 603.5,466.5 604.0,467.2 604.5,467.4 605.0,467.3 605.5,466.7 606.0,465.6 606.5,464.5 607.0,464.0 607.6,464.5 608.1,465.6 608.6,466.7 609.1,467.3 609.6,467.6 610.1,467.7" fill="none" stroke="#000" stroke-width="1.05" stroke-linejoin="round"/>
<polyline points="611.9,467.7 612.4,467.6 612.9,467.6 613.4,467.5 613.9,467.3 614.4,466.9 614.9,466.5 615.5,465.9 616.0,465.3 616.5,464.8 617.0,464.5 617.5,464.4 618.0,464.6 618.5,465.0 619.0,465.6 619.5,466.1 620.0,466.7 620.5,467.1 621.0,467.3 621.6,467.5 622.1,467.6 622.6,467.7 623.1,467.7 623.6,467.7 624.1,467.7" fill="none" stroke="#000" stroke-width="1.05" stroke-linejoin="round"/>
<polyline points="625.9,467.7 626.4,467.7 626.9,467.7 627.4,467.7 627.9,467.6 628.4,467.2 628.9,466.2 629.5,464.6 630.0,463.5 630.5,464.0 631.0,464.4 631.5,464.8 632.0,465.2 632.5,465.5 633.0,465.7 633.5,466.0 634.0,466.2 634.5,466.4 635.0,466.5 635.6,466.7 636.1,466.8 636.6,466.9 637.1,467.0 637.6,467.1 638.1,467.2" fill="none" stroke="#000" stroke-width="1.05" stroke-linejoin="round"/>
<polyline points="639.9,467.7 640.4,467.7 640.9,467.6 641.4,466.8 641.9,466.1 642.4,465.3 642.9,464.8 643.5,464.8 644.0,464.8 644.5,464.8 645.0,464.8 645.5,464.8 646.0,464.8 646.5,464.8 647.0,464.8 647.5,464.8 648.0,464.8 648.5,464.8 649.0,465.3 649.6,465.9 650.1,466.5 650.6,467.1 651.1,467.7 651.6,467.7 652.1,467.7" fill="none" stroke="#000" stroke-width="1.05" stroke-linejoin="round"/>
<polyline points="653.9,467.7 654.4,467.6 654.9,467.5 655.4,467.2 655.9,466.6 656.4,465.8 656.9,465.0 657.5,464.6 658.0,464.8 658.5,465.5 659.0,466.3 659.5,467.0 660.0,467.4 660.5,467.5 661.0,467.4 661.5,467.1 662.0,466.4 662.5,465.8 663.0,465.5 663.6,465.8 664.1,466.4 664.6,467.1 665.1,467.5 665.6,467.6 666.1,467.7" fill="none" stroke="#000" stroke-width="1.05" stroke-linejoin="round"/>
<polyline points="667.9,467.7 668.4,467.7 668.9,467.6 669.4,467.6 669.9,467.5 670.4,467.3 670.9,467.1 671.5,466.9 672.0,466.6 672.5,466.4 673.0,466.2 673.5,466.2 674.0,466.3 674.5,466.5 675.0,466.7 675.5,467.0 676.0,467.2 676.5,467.4 677.0,467.5 677.6,467.6 678.1,467.7 678.6,467.7 679.1,467.7 679.6,467.7 680.1,467.7" fill="none" stroke="#000" stroke-width="1.05" stroke-linejoin="round"/>
<polyline points="555.9,476.3 556.4,475.9 556.9,474.8 557.4,473.0 557.9,471.6 558.4,471.9 558.9,472.4 559.5,472.9 560.0,473.3 560.5,473.7 561.0,474.0 561.5,474.3 562.0,474.6 562.5,474.8 563.0,475.0 563.5,475.2 564.0,475.3 564.5,475.5 565.0,475.6 565.6,475.7 566.1,475.8 566.6,475.8 567.1,475.9 567.6,476.0 568.1,476.0" fill="none" stroke="#000" stroke-width="1.05" stroke-linejoin="round"/>
<polyline points="569.9,476.4 570.4,476.3 570.9,476.2 571.4,476.0 571.9,475.4 572.4,474.7 572.9,474.0 573.5,473.7 574.0,473.8 574.5,474.4 575.0,475.2 575.5,475.8 576.0,476.1 576.5,476.3 577.0,476.2 577.5,475.8 578.0,475.3 578.5,474.7 579.0,474.4 579.6,474.7 580.1,475.3 580.6,475.9 581.1,476.2 581.6,476.3 582.1,476.4" fill="none" stroke="#000" stroke-width="1.05" stroke-linejoin="round"/>
<polyline points="583.9,476.4 584.4,476.4 584.9,476.4 585.4,476.4 585.9,476.3 586.4,475.9 586.9,474.9 587.5,473.3 588.0,472.2 588.5,472.7 589.0,473.1 589.5,473.5 590.0,473.9 590.5,474.2 591.0,474.4 591.5,474.7 592.0,474.9 592.5,475.1 593.0,475.2 593.6,475.4 594.1,475.5 594.6,475.6 595.1,475.7 595.6,475.8 596.1,475.9" fill="none" stroke="#000" stroke-width="1.05" stroke-linejoin="round"/>
<polyline points="597.9,476.3 598.4,475.9 598.9,474.8 599.4,473.0 599.9,471.6 600.4,471.9 600.9,472.4 601.5,472.9 602.0,473.3 602.5,473.7 603.0,474.0 603.5,474.3 604.0,474.6 604.5,474.8 605.0,475.0 605.5,475.2 606.0,475.3 606.5,475.5 607.0,475.6 607.6,475.7 608.1,475.8 608.6,475.8 609.1,475.9 609.6,476.0 610.1,476.0" fill="none" stroke="#000" stroke-width="1.05" stroke-linejoin="round"/>
<polyline points="611.9,476.4 612.4,476.3 612.9,476.2 613.4,475.8 613.9,475.1 614.4,474.1 614.9,473.2 615.5,472.7 616.0,472.9 616.5,473.7 617.0,474.7 617.5,475.5 618.0,476.0 618.5,476.2 619.0,476.1 619.5,475.6 620.0,474.9 620.5,474.0 621.0,473.7 621.6,474.0 622.1,474.9 622.6,475.7 623.1,476.1 623.6,476.3 624.1,476.4" fill="none" stroke="#000" stroke-width="1.05" stroke-linejoin="round"/>
<polyline points="625.9,476.4 626.4,476.4 626.9,476.4 627.4,476.4 627.9,476.3 628.4,476.0 628.9,475.3 629.5,474.1 630.0,473.4 630.5,473.7 631.0,474.0 631.5,474.3 632.0,474.6 632.5,474.8 633.0,475.0 633.5,475.1 634.0,475.3 634.5,475.4 635.0,475.6 635.6,475.7 636.1,475.7 636.6,475.8 637.1,475.9 637.6,476.0 638.1,476.0" fill="none" stroke="#000" stroke-width="1.05" stroke-linejoin="round"/>
<polyline points="639.9,476.3 640.4,476.0 640.9,475.2 641.4,473.8 641.9,472.7 642.4,472.9 642.9,473.3 643.5,473.7 644.0,474.0 644.5,474.3 645.0,474.6 645.5,474.8 646.0,475.0 646.5,475.2 647.0,475.3 647.5,475.5 648.0,475.6 648.5,475.7 649.0,475.8 649.6,475.8 650.1,475.9 650.6,476.0 651.1,476.0 651.6,476.1 652.1,476.1" fill="none" stroke="#000" stroke-width="1.05" stroke-linejoin="round"/>
<polyline points="653.9,476.4 654.4,476.4 654.9,476.3 655.4,476.0 655.9,475.6 656.4,474.9 656.9,474.3 657.5,474.0 658.0,474.1 658.5,474.7 659.0,475.3 659.5,475.9 660.0,476.2 660.5,476.3 661.0,476.2 661.5,475.9 662.0,475.4 662.5,474.9 663.0,474.7 663.6,474.9 664.1,475.4 664.6,475.9 665.1,476.2 665.6,476.4 666.1,476.4" fill="none" stroke="#000" stroke-width="1.05" stroke-linejoin="round"/>
<polyline points="667.9,476.4 668.4,476.4 668.9,476.4 669.4,476.4 669.9,476.4 670.4,476.3 670.9,476.1 671.5,475.8 672.0,475.6 672.5,475.7 673.0,475.8 673.5,475.8 674.0,475.9 674.5,476.0 675.0,476.0 675.5,476.1 676.0,476.1 676.5,476.1 677.0,476.2 677.6,476.2 678.1,476.2 678.6,476.2 679.1,476.3 679.6,476.3 680.1,476.3" fill="none" stroke="#000" stroke-width="1.05" stroke-linejoin="round"/>
<polyline points="555.9,485.1 556.4,485.1 556.9,485.0 557.4,484.6 557.9,483.4 558.4,481.6 558.9,480.2 559.5,480.6 560.0,481.2 560.5,481.7 561.0,482.1 561.5,482.5 562.0,482.8 562.5,483.1 563.0,483.3 563.5,483.5 564.0,483.7 564.5,483.9 565.0,484.0 565.6,484.2 566.1,484.3 566.6,484.4 567.1,484.5 567.6,484.5 568.1,484.6" fill="none" stroke="#000" stroke-width="1.05" stroke-linejoin="round"/>
<polyline points="569.9,485.0 570.4,484.7 570.9,483.9 571.4,482.5 571.9,481.4 572.4,481.6 572.9,482.0 573.5,482.4 574.0,482.7 574.5,483.0 575.0,483.3 575.5,483.5 576.0,483.7 576.5,483.9 577.0,484.0 577.5,484.2 578.0,484.3 578.5,484.4 579.0,484.5 579.6,484.5 580.1,484.6 580.6,484.7 581.1,484.7 581.6,484.8 582.1,484.8" fill="none" stroke="#000" stroke-width="1.05" stroke-linejoin="round"/>
<polyline points="583.9,485.1 584.4,485.1 584.9,485.0 585.4,484.9 585.9,484.7 586.4,484.4 586.9,484.0 587.5,483.5 588.0,482.9 588.5,482.5 589.0,482.1 589.5,482.1 590.0,482.2 590.5,482.6 591.0,483.2 591.5,483.7 592.0,484.2 592.5,484.5 593.0,484.8 593.6,484.9 594.1,485.0 594.6,485.1 595.1,485.1 595.6,485.1 596.1,485.1" fill="none" stroke="#000" stroke-width="1.05" stroke-linejoin="round"/>
<polyline points="597.9,485.1 598.4,485.0 598.9,485.0 599.4,484.9 599.9,484.7 600.4,484.3 600.9,483.9 601.5,483.3 602.0,482.7 602.5,482.2 603.0,481.9 603.5,481.8 604.0,482.0 604.5,482.4 605.0,483.0 605.5,483.5 606.0,484.1 606.5,484.5 607.0,484.7 607.6,484.9 608.1,485.0 608.6,485.1 609.1,485.1 609.6,485.1 610.1,485.1" fill="none" stroke="#000" stroke-width="1.05" stroke-linejoin="round"/>
<polyline points="611.9,485.0 612.4,484.7 612.9,483.8 613.4,482.2 613.9,481.0 614.4,481.3 614.9,481.7 615.5,482.2 616.0,482.5 616.5,482.8 617.0,483.1 617.5,483.4 618.0,483.6 618.5,483.8 619.0,483.9 619.5,484.1 620.0,484.2 620.5,484.3 621.0,484.4 621.6,484.5 622.1,484.6 622.6,484.6 623.1,484.7 623.6,484.7 624.1,484.8" fill="none" stroke="#000" stroke-width="1.05" stroke-linejoin="round"/>
<polyline points="625.9,485.1 626.4,485.1 626.9,485.1 627.4,485.1 627.9,485.0 628.4,484.7 628.9,484.0 629.5,482.8 630.0,482.1 630.5,482.4 631.0,482.7 631.5,483.0 632.0,483.3 632.5,483.5 633.0,483.7 633.5,483.8 634.0,484.0 634.5,484.1 635.0,484.3 635.6,484.4 636.1,484.4 636.6,484.5 637.1,484.6 637.6,484.7 638.1,484.7" fill="none" stroke="#000" stroke-width="1.05" stroke-linejoin="round"/>
<polyline points="639.9,485.1 640.4,485.1 640.9,485.0 641.4,484.7 641.9,483.9 642.4,482.6 642.9,481.7 643.5,482.0 644.0,482.4 644.5,482.7 645.0,483.0 645.5,483.3 646.0,483.5 646.5,483.7 647.0,483.9 647.5,484.0 648.0,484.1 648.5,484.3 649.0,484.4 649.6,484.4 650.1,484.5 650.6,484.6 651.1,484.7 651.6,484.7 652.1,484.8" fill="none" stroke="#000" stroke-width="1.05" stroke-linejoin="round"/>
<polyline points="653.9,485.1 654.4,485.1 654.9,485.1 655.4,484.6 655.9,484.1 656.4,483.6 656.9,483.4 657.5,483.4 658.0,483.4 658.5,483.4 659.0,483.4 659.5,483.4 660.0,483.4 660.5,483.4 661.0,483.4 661.5,483.4 662.0,483.4 662.5,483.4 663.0,483.6 663.6,484.0 664.1,484.4 664.6,484.7 665.1,485.1 665.6,485.1 666.1,485.1" fill="none" stroke="#000" stroke-width="1.05" stroke-linejoin="round"/>
<polyline points="667.9,485.1 668.4,485.1 668.9,485.1 669.4,484.9 669.9,484.8 670.4,484.6 670.9,484.5 671.5,484.5 672.0,484.5 672.5,484.5 673.0,484.5 673.5,484.5 674.0,484.5 674.5,484.5 675.0,484.5 675.5,484.5 676.0,484.5 676.5,484.5 677.0,484.6 677.6,484.7 678.1,484.8 678.6,485.0 679.1,485.1 679.6,485.1 680.1,485.1" fill="none" stroke="#000" stroke-width="1.05" stroke-linejoin="round"/>
<polyline points="555.9,493.8 556.4,493.7 556.9,493.5 557.4,493.1 557.9,492.3 558.4,491.1 558.9,490.0 559.5,489.4 560.0,489.6 560.5,490.6 561.0,491.8 561.5,492.8 562.0,493.4 562.5,493.6 563.0,493.4 563.5,492.9 564.0,492.0 564.5,491.0 565.0,490.6 565.6,491.0 566.1,492.0 566.6,492.9 567.1,493.5 567.6,493.7 568.1,493.8" fill="none" stroke="#000" stroke-width="1.05" stroke-linejoin="round"/>
<polyline points="569.9,493.8 570.4,493.8 570.9,493.8 571.4,493.8 571.9,493.7 572.4,493.3 572.9,492.3 573.5,490.7 574.0,489.6 574.5,490.1 575.0,490.5 575.5,490.9 576.0,491.3 576.5,491.6 577.0,491.8 577.5,492.1 578.0,492.3 578.5,492.5 579.0,492.6 579.6,492.8 580.1,492.9 580.6,493.0 581.1,493.1 581.6,493.2 582.1,493.3" fill="none" stroke="#000" stroke-width="1.05" stroke-linejoin="round"/>
<polyline points="583.9,493.8 584.4,493.8 584.9,493.7 585.4,493.5 585.9,493.1 586.4,492.5 586.9,492.0 587.5,491.7 588.0,491.9 588.5,492.3 589.0,492.9 589.5,493.3 590.0,493.6 590.5,493.7 591.0,493.6 591.5,493.4 592.0,493.0 592.5,492.5 593.0,492.3 593.6,492.5 594.1,493.0 594.6,493.4 595.1,493.6 595.6,493.8 596.1,493.8" fill="none" stroke="#000" stroke-width="1.05" stroke-linejoin="round"/>
<polyline points="597.9,493.8 598.4,493.8 598.9,493.8 599.4,493.8 599.9,493.7 600.4,493.4 600.9,492.5 601.5,491.2 602.0,490.4 602.5,490.7 603.0,491.1 603.5,491.4 604.0,491.7 604.5,492.0 605.0,492.2 605.5,492.4 606.0,492.6 606.5,492.7 607.0,492.8 607.6,493.0 608.1,493.1 608.6,493.2 609.1,493.2 609.6,493.3 610.1,493.4" fill="none" stroke="#000" stroke-width="1.05" stroke-linejoin="round"/>
<polyline points="611.9,493.8 612.4,493.7 612.9,493.6 613.4,493.4 613.9,492.8 614.4,492.1 614.9,491.4 615.5,491.1 616.0,491.2 616.5,491.8 617.0,492.6 617.5,493.2 618.0,493.5 618.5,493.7 619.0,493.6 619.5,493.2 620.0,492.7 620.5,492.1 621.0,491.8 621.6,492.1 622.1,492.7 622.6,493.3 623.1,493.6 623.6,493.7 624.1,493.8" fill="none" stroke="#000" stroke-width="1.05" stroke-linejoin="round"/>
<polyline points="625.9,493.8 626.4,493.8 626.9,493.8 627.4,493.8 627.9,493.7 628.4,493.5 628.9,493.0 629.5,492.1 630.0,491.5 630.5,491.7 631.0,492.0 631.5,492.2 632.0,492.4 632.5,492.6 633.0,492.7 633.5,492.9 634.0,493.0 634.5,493.1 635.0,493.2 635.6,493.2 636.1,493.3 636.6,493.4 637.1,493.4 637.6,493.5 638.1,493.5" fill="none" stroke="#000" stroke-width="1.05" stroke-linejoin="round"/>
<polyline points="639.9,493.8 640.4,493.8 640.9,493.7 641.4,493.6 641.9,493.4 642.4,493.2 642.9,492.9 643.5,492.7 644.0,492.8 644.5,493.0 645.0,493.3 645.5,493.6 646.0,493.7 646.5,493.7 647.0,493.7 647.5,493.6 648.0,493.4 648.5,493.1 649.0,493.0 649.6,493.1 650.1,493.4 650.6,493.6 651.1,493.7 651.6,493.8 652.1,493.8" fill="none" stroke="#000" stroke-width="1.05" stroke-linejoin="round"/>
<polyline points="653.9,493.8 654.4,493.8 654.9,493.8 655.4,493.8 655.9,493.8 656.4,493.7 656.9,493.4 657.5,492.9 658.0,492.6 658.5,492.7 659.0,492.9 659.5,493.0 660.0,493.1 660.5,493.2 661.0,493.3 661.5,493.3 662.0,493.4 662.5,493.4 663.0,493.5 663.6,493.5 664.1,493.5 664.6,493.6 665.1,493.6 665.6,493.6 666.1,493.7" fill="none" stroke="#000" stroke-width="1.05" stroke-linejoin="round"/>
<polyline points="667.9,493.8 668.4,493.8 668.9,493.7 669.4,493.6 669.9,493.4 670.4,493.2 670.9,492.9 671.5,492.7 672.0,492.8 672.5,493.0 673.0,493.3 673.5,493.6 674.0,493.7 674.5,493.7 675.0,493.7 675.5,493.6 676.0,493.4 676.5,493.1 677.0,493.0 677.6,493.1 678.1,493.4 678.6,493.6 679.1,493.7 679.6,493.8 680.1,493.8" fill="none" stroke="#000" stroke-width="1.05" stroke-linejoin="round"/>
<polyline points="555.9,502.5 556.4,502.4 556.9,502.2 557.4,501.7 557.9,500.7 558.4,499.4 558.9,498.1 559.5,497.4 560.0,497.7 560.5,498.8 561.0,500.2 561.5,501.3 562.0,502.0 562.5,502.2 563.0,502.1 563.5,501.5 564.0,500.4 564.5,499.3 565.0,498.8 565.6,499.3 566.1,500.4 566.6,501.5 567.1,502.1 567.6,502.4 568.1,502.5" fill="none" stroke="#000" stroke-width="1.05" stroke-linejoin="round"/>
<polyline points="569.9,502.5 570.4,502.4 570.9,502.3 571.4,501.9 571.9,501.2 572.4,500.2 572.9,499.3 573.5,498.8 574.0,499.0 574.5,499.8 575.0,500.8 575.5,501.6 576.0,502.1 576.5,502.3 577.0,502.2 577.5,501.7 578.0,501.0 578.5,500.1 579.0,499.8 579.6,500.1 580.1,501.0 580.6,501.8 581.1,502.2 581.6,502.4 582.1,502.5" fill="none" stroke="#000" stroke-width="1.05" stroke-linejoin="round"/>
<polyline points="583.9,502.5 584.4,502.5 584.9,502.5 585.4,502.2 585.9,502.0 586.4,501.7 586.9,501.6 587.5,501.6 588.0,501.6 588.5,501.6 589.0,501.6 589.5,501.6 590.0,501.6 590.5,501.6 591.0,501.6 591.5,501.6 592.0,501.6 592.5,501.6 593.0,501.8 593.6,501.9 594.1,502.1 594.6,502.3 595.1,502.5 595.6,502.5 596.1,502.5" fill="none" stroke="#000" stroke-width="1.05" stroke-linejoin="round"/>
<polyline points="597.9,502.5 598.4,502.5 598.9,502.4 599.4,501.8 599.9,501.2 600.4,500.5 600.9,500.2 601.5,500.2 602.0,500.2 602.5,500.2 603.0,500.2 603.5,500.2 604.0,500.2 604.5,500.2 605.0,500.2 605.5,500.2 606.0,500.2 606.5,500.2 607.0,500.6 607.6,501.0 608.1,501.5 608.6,502.0 609.1,502.5 609.6,502.5 610.1,502.5" fill="none" stroke="#000" stroke-width="1.05" stroke-linejoin="round"/>
<polyline points="611.9,502.5 612.4,502.5 612.9,502.4 613.4,502.2 613.9,501.5 614.4,500.3 614.9,499.5 615.5,499.7 616.0,500.1 616.5,500.4 617.0,500.6 617.5,500.9 618.0,501.1 618.5,501.2 619.0,501.4 619.5,501.5 620.0,501.6 620.5,501.7 621.0,501.8 621.6,501.9 622.1,502.0 622.6,502.1 623.1,502.1 623.6,502.2 624.1,502.2" fill="none" stroke="#000" stroke-width="1.05" stroke-linejoin="round"/>
<polyline points="625.9,502.5 626.4,502.5 626.9,502.5 627.4,502.5 627.9,502.4 628.4,502.2 628.9,501.7 629.5,500.8 630.0,500.2 630.5,500.4 631.0,500.7 631.5,500.9 632.0,501.1 632.5,501.3 633.0,501.4 633.5,501.6 634.0,501.7 634.5,501.8 635.0,501.9 635.6,501.9 636.1,502.0 636.6,502.1 637.1,502.1 637.6,502.2 638.1,502.2" fill="none" stroke="#000" stroke-width="1.05" stroke-linejoin="round"/>
<polyline points="639.9,502.5 640.4,502.4 640.9,502.1 641.4,501.7 641.9,501.4 642.4,501.4 642.9,501.6 643.5,501.7 644.0,501.8 644.5,501.9 645.0,501.9 645.5,502.0 646.0,502.1 646.5,502.1 647.0,502.2 647.5,502.2 648.0,502.2 648.5,502.3 649.0,502.3 649.6,502.3 650.1,502.3 650.6,502.4 651.1,502.4 651.6,502.4 652.1,502.4" fill="none" stroke="#000" stroke-width="1.05" stroke-linejoin="round"/>
<polyline points="653.9,502.5 654.4,502.5 654.9,502.5 655.4,502.4 655.9,502.4 656.4,502.3 656.9,502.2 657.5,502.0 658.0,501.8 658.5,501.7 659.0,501.6 659.5,501.6 660.0,501.6 660.5,501.7 661.0,501.9 661.5,502.1 662.0,502.2 662.5,502.3 663.0,502.4 663.6,502.4 664.1,502.5 664.6,502.5 665.1,502.5 665.6,502.5 666.1,502.5" fill="none" stroke="#000" stroke-width="1.05" stroke-linejoin="round"/>
<polyline points="667.9,502.5 668.4,502.5 668.9,502.5 669.4,502.4 669.9,502.4 670.4,502.3 670.9,502.2 671.5,502.0 672.0,501.8 672.5,501.7 673.0,501.6 673.5,501.6 674.0,501.6 674.5,501.7 675.0,501.9 675.5,502.1 676.0,502.2 676.5,502.3 677.0,502.4 677.6,502.4 678.1,502.5 678.6,502.5 679.1,502.5 679.6,502.5 680.1,502.5" fill="none" stroke="#000" stroke-width="1.05" stroke-linejoin="round"/>
<polyline points="555.9,511.2 556.4,511.1 556.9,510.9 557.4,510.5 557.9,509.8 558.4,508.7 558.9,507.7 559.5,507.1 560.0,507.4 560.5,508.3 561.0,509.4 561.5,510.3 562.0,510.8 562.5,511.0 563.0,510.9 563.5,510.4 564.0,509.5 564.5,508.6 565.0,508.2 565.6,508.6 566.1,509.5 566.6,510.4 567.1,510.9 567.6,511.1 568.1,511.2" fill="none" stroke="#000" stroke-width="1.05" stroke-linejoin="round"/>
<polyline points="569.9,511.1 570.4,510.9 570.9,510.2 571.4,509.1 571.9,508.2 572.4,508.4 572.9,508.7 573.5,509.0 574.0,509.3 574.5,509.5 575.0,509.7 575.5,509.9 576.0,510.1 576.5,510.2 577.0,510.3 577.5,510.4 578.0,510.5 578.5,510.6 579.0,510.7 579.6,510.7 580.1,510.8 580.6,510.9 581.1,510.9 581.6,510.9 582.1,511.0" fill="none" stroke="#000" stroke-width="1.05" stroke-linejoin="round"/>
<polyline points="583.9,511.2 584.4,511.2 584.9,511.2 585.4,511.2 585.9,511.2 586.4,511.1 586.9,510.8 587.5,510.3 588.0,510.0 588.5,510.1 589.0,510.3 589.5,510.4 590.0,510.5 590.5,510.6 591.0,510.7 591.5,510.7 592.0,510.8 592.5,510.8 593.0,510.9 593.6,510.9 594.1,510.9 594.6,511.0 595.1,511.0 595.6,511.0 596.1,511.1" fill="none" stroke="#000" stroke-width="1.05" stroke-linejoin="round"/>
<polyline points="597.9,511.2 598.4,511.1 598.9,511.0 599.4,510.8 599.9,510.2 600.4,509.5 600.9,508.8 601.5,508.5 602.0,508.6 602.5,509.2 603.0,510.0 603.5,510.6 604.0,510.9 604.5,511.1 605.0,511.0 605.5,510.6 606.0,510.1 606.5,509.5 607.0,509.2 607.6,509.5 608.1,510.1 608.6,510.7 609.1,511.0 609.6,511.1 610.1,511.2" fill="none" stroke="#000" stroke-width="1.05" stroke-linejoin="round"/>
<polyline points="611.9,511.1 612.4,510.9 612.9,510.2 613.4,509.1 613.9,508.2 614.4,508.4 614.9,508.7 615.5,509.0 616.0,509.3 616.5,509.5 617.0,509.7 617.5,509.9 618.0,510.1 618.5,510.2 619.0,510.3 619.5,510.4 620.0,510.5 620.5,510.6 621.0,510.7 621.6,510.7 622.1,510.8 622.6,510.9 623.1,510.9 623.6,510.9 624.1,511.0" fill="none" stroke="#000" stroke-width="1.05" stroke-linejoin="round"/>
<polyline points="625.9,511.2 626.4,511.2 626.9,511.2 627.4,511.2 627.9,511.1 628.4,510.9 628.9,510.4 629.5,509.5 630.0,508.9 630.5,509.1 631.0,509.4 631.5,509.6 632.0,509.8 632.5,510.0 633.0,510.1 633.5,510.3 634.0,510.4 634.5,510.5 635.0,510.6 635.6,510.6 636.1,510.7 636.6,510.8 637.1,510.8 637.6,510.9 638.1,510.9" fill="none" stroke="#000" stroke-width="1.05" stroke-linejoin="round"/>
<polyline points="639.9,511.2 640.4,511.2 640.9,511.1 641.4,511.0 641.9,510.8 642.4,510.6 642.9,510.3 643.5,510.1 644.0,510.2 644.5,510.4 645.0,510.7 645.5,511.0 646.0,511.1 646.5,511.1 647.0,511.1 647.5,511.0 648.0,510.8 648.5,510.5 649.0,510.4 649.6,510.5 650.1,510.8 650.6,511.0 651.1,511.1 651.6,511.2 652.1,511.2" fill="none" stroke="#000" stroke-width="1.05" stroke-linejoin="round"/>
<polyline points="653.9,511.2 654.4,511.1 654.9,510.8 655.4,510.4 655.9,510.1 656.4,510.1 656.9,510.3 657.5,510.4 658.0,510.5 658.5,510.6 659.0,510.6 659.5,510.7 660.0,510.8 660.5,510.8 661.0,510.9 661.5,510.9 662.0,510.9 662.5,511.0 663.0,511.0 663.6,511.0 664.1,511.0 664.6,511.1 665.1,511.1 665.6,511.1 666.1,511.1" fill="none" stroke="#000" stroke-width="1.05" stroke-linejoin="round"/>
<polyline points="667.9,511.2 668.4,511.2 668.9,511.2 669.4,511.2 669.9,511.2 670.4,511.1 670.9,510.8 671.5,510.3 672.0,510.0 672.5,510.1 673.0,510.3 673.5,510.4 674.0,510.5 674.5,510.6 675.0,510.7 675.5,510.7 676.0,510.8 676.5,510.8 677.0,510.9 677.6,510.9 678.1,510.9 678.6,511.0 679.1,511.0 679.6,511.0 680.1,511.1" fill="none" stroke="#000" stroke-width="1.05" stroke-linejoin="round"/>
<polyline points="555.9,519.9 556.4,519.9 556.9,519.9 557.4,519.3 557.9,518.7 558.4,518.2 558.9,517.9 559.5,517.9 560.0,517.9 560.5,517.9 561.0,517.9 561.5,517.9 562.0,517.9 562.5,517.9 563.0,517.9 563.5,517.9 564.0,517.9 564.5,517.9 565.0,518.2 565.6,518.6 566.1,519.0 566.6,519.4 567.1,519.9 567.6,519.9 568.1,519.9" fill="none" stroke="#000" stroke-width="1.05" stroke-linejoin="round"/>
<polyline points="569.9,519.9 570.4,519.9 570.9,519.9 571.4,519.9 571.9,519.9 572.4,519.8 572.9,519.6 573.5,519.3 574.0,519.1 574.5,519.2 575.0,519.3 575.5,519.3 576.0,519.4 576.5,519.5 577.0,519.5 577.5,519.6 578.0,519.6 578.5,519.6 579.0,519.7 579.6,519.7 580.1,519.7 580.6,519.7 581.1,519.8 581.6,519.8 582.1,519.8" fill="none" stroke="#000" stroke-width="1.05" stroke-linejoin="round"/>
<polyline points="583.9,519.9 584.4,519.9 584.9,519.9 585.4,519.8 585.9,519.8 586.4,519.7 586.9,519.6 587.5,519.4 588.0,519.2 588.5,519.1 589.0,519.0 589.5,519.0 590.0,519.0 590.5,519.1 591.0,519.3 591.5,519.5 592.0,519.6 592.5,519.7 593.0,519.8 593.6,519.8 594.1,519.9 594.6,519.9 595.1,519.9 595.6,519.9 596.1,519.9" fill="none" stroke="#000" stroke-width="1.05" stroke-linejoin="round"/>
<polyline points="597.9,519.9 598.4,519.8 598.9,519.7 599.4,519.4 599.9,518.8 600.4,518.0 600.9,517.2 601.5,516.8 602.0,517.0 602.5,517.7 603.0,518.5 603.5,519.2 604.0,519.6 604.5,519.7 605.0,519.6 605.5,519.3 606.0,518.6 606.5,518.0 607.0,517.7 607.6,518.0 608.1,518.6 608.6,519.3 609.1,519.7 609.6,519.8 610.1,519.9" fill="none" stroke="#000" stroke-width="1.05" stroke-linejoin="round"/>
<polyline points="611.9,519.9 612.4,519.9 612.9,519.9 613.4,519.4 613.9,518.9 614.4,518.4 614.9,518.2 615.5,518.2 616.0,518.2 616.5,518.2 617.0,518.2 617.5,518.2 618.0,518.2 618.5,518.2 619.0,518.2 619.5,518.2 620.0,518.2 620.5,518.2 621.0,518.4 621.6,518.8 622.1,519.2 622.6,519.5 623.1,519.9 623.6,519.9 624.1,519.9" fill="none" stroke="#000" stroke-width="1.05" stroke-linejoin="round"/>
<polyline points="625.9,519.9 626.4,519.9 626.9,519.9 627.4,519.9 627.9,519.8 628.4,519.6 628.9,519.1 629.5,518.2 630.0,517.6 630.5,517.8 631.0,518.1 631.5,518.3 632.0,518.5 632.5,518.7 633.0,518.8 633.5,519.0 634.0,519.1 634.5,519.2 635.0,519.3 635.6,519.3 636.1,519.4 636.6,519.5 637.1,519.5 637.6,519.6 638.1,519.6" fill="none" stroke="#000" stroke-width="1.05" stroke-linejoin="round"/>
<polyline points="639.9,519.9 640.4,519.9 640.9,519.9 641.4,519.8 641.9,519.8 642.4,519.7 642.9,519.6 643.5,519.4 644.0,519.2 644.5,519.1 645.0,519.0 645.5,519.0 646.0,519.0 646.5,519.1 647.0,519.3 647.5,519.5 648.0,519.6 648.5,519.7 649.0,519.8 649.6,519.8 650.1,519.9 650.6,519.9 651.1,519.9 651.6,519.9 652.1,519.9" fill="none" stroke="#000" stroke-width="1.05" stroke-linejoin="round"/>
<polyline points="653.9,519.9 654.4,519.9 654.9,519.8 655.4,519.7 655.9,519.5 656.4,519.3 656.9,519.0 657.5,518.8 658.0,518.9 658.5,519.1 659.0,519.4 659.5,519.7 660.0,519.8 660.5,519.8 661.0,519.8 661.5,519.7 662.0,519.5 662.5,519.2 663.0,519.1 663.6,519.2 664.1,519.5 664.6,519.7 665.1,519.8 665.6,519.9 666.1,519.9" fill="none" stroke="#000" stroke-width="1.05" stroke-linejoin="round"/>
<polyline points="667.9,519.9 668.4,519.9 668.9,519.9 669.4,519.7 669.9,519.6 670.4,519.4 670.9,519.3 671.5,519.3 672.0,519.3 672.5,519.3 673.0,519.3 673.5,519.3 674.0,519.3 674.5,519.3 675.0,519.3 675.5,519.3 676.0,519.3 676.5,519.3 677.0,519.4 677.6,519.5 678.1,519.6 678.6,519.8 679.1,519.9 679.6,519.9 680.1,519.9" fill="none" stroke="#000" stroke-width="1.05" stroke-linejoin="round"/>
<text x="366.30" y="293.30" text-anchor="middle" font-size="12.4" fill="#111">Segment C (1st)</text>
<text x="366.00" y="301.60" text-anchor="middle" font-size="9" fill="#111">ISK001</text>
<polygon points="361.70,303.90 370.90,303.90 366.30,312.10" fill="#000"/>
<text x="86.30" y="435.20" text-anchor="middle" font-size="12.4" fill="#111">Segment A</text>
<text x="240.40" y="422.80" text-anchor="middle" font-size="12.4" fill="#111">Segment B</text>
<text x="239.70" y="431.00" text-anchor="middle" font-size="9" fill="#111">ISK003</text>
<polygon points="234.80,432.60 244.00,432.60 239.40,440.80" fill="#000"/>
<text x="366.20" y="422.80" text-anchor="middle" font-size="12.4" fill="#111">Segment C (2nd)</text>
<text x="366.00" y="431.00" text-anchor="middle" font-size="9" fill="#111">ISK001</text>
<polygon points="361.40,432.60 370.60,432.60 366.00,440.80" fill="#000"/>
<text x="471.30" y="422.80" text-anchor="middle" font-size="12.4" fill="#111">Segment D</text>
<text x="437.50" y="431.00" text-anchor="middle" font-size="9" fill="#111">ISKH01</text>
<polygon points="429.60,432.60 438.80,432.60 434.20,440.80" fill="#000"/>
<text x="618.10" y="434.50" text-anchor="middle" font-size="12.4" fill="#111">Segment F [NW]</text>
<text transform="translate(9.0,481.60) rotate(-90)" text-anchor="middle" font-size="12.4">Along Dip (km)</text>
<text transform="translate(316.7,353.30) rotate(-90)" text-anchor="middle" font-size="12.4">Along Dip (km)</text>
<text x="366.00" y="547.80" text-anchor="middle" font-size="12.4" fill="#111">Along Strike (km)</text>
<rect x="441" y="328.80" width="105" height="5.8" fill="url(#cbg)" stroke="#888" stroke-width="0.4"/>
<path d="M441.00 334.60v3.20M458.50 334.60v2.00M476.00 334.60v3.20M493.50 334.60v2.00M511.00 334.60v3.20M528.50 334.60v2.00M546.00 334.60v3.20" stroke="#333" stroke-width="0.8"/>
<text x="441.00" y="347.80" text-anchor="middle" font-size="12.4" fill="#111">0</text>
<text x="476.00" y="347.80" text-anchor="middle" font-size="12.4" fill="#111">1</text>
<text x="511.00" y="347.80" text-anchor="middle" font-size="12.4" fill="#111">2</text>
<text x="546.00" y="347.80" text-anchor="middle" font-size="12.4" fill="#111">3</text>
<text x="494.20" y="360.20" text-anchor="middle" font-size="12.4" fill="#111">Max. Slip Velocity (m/s)</text>
<text x="6.6" y="43.2" font-size="17.8" font-weight="bold">a</text>
<text x="7.7" y="327.5" font-size="17.9" font-weight="bold">b</text>
<rect x="93.3" y="192.4" width="42.1" height="26.8" fill="none" stroke="rgb(245,20,240)" stroke-width="2.6"/>
<rect x="184.2" y="183.5" width="70.3" height="53.3" fill="none" stroke="rgb(245,20,240)" stroke-width="2.6"/>
<path d="M311 183.5H268V201H311" fill="none" stroke="rgb(245,20,240)" stroke-width="2.6"/>
<path d="M345.5 183.5H359.6V201H345.5" fill="none" stroke="rgb(245,20,240)" stroke-width="2.6"/>
<path d="M312 183.5H345.5M312 201H345.5" fill="none" stroke="rgb(245,20,240)" stroke-width="2.6" stroke-dasharray="4.6 3"/>
<rect x="422" y="201.5" width="28" height="26.5" fill="none" stroke="rgb(245,20,240)" stroke-width="2.6"/>
<rect x="568.8" y="157.3" width="84.2" height="43.2" fill="none" stroke="rgb(245,20,240)" stroke-width="2.6"/>
<text x="146.60" y="208.60" text-anchor="middle" font-size="13" font-weight="bold" fill="rgb(245,20,240)">L5</text>
<text x="220.60" y="263.00" text-anchor="middle" font-size="13" font-weight="bold" fill="rgb(245,20,240)">L3</text>
<text x="323.80" y="216.40" text-anchor="middle" font-size="13" font-weight="bold" fill="rgb(245,20,240)">L1</text>
<text x="403.50" y="228.30" text-anchor="middle" font-size="13" font-weight="bold" fill="rgb(245,20,240)">L2</text>
<text x="561.00" y="149.00" text-anchor="middle" font-size="13" font-weight="bold" fill="rgb(245,20,240)">L4</text>
<rect x="373.5" y="46.6" width="14.3" height="26.2" fill="none" stroke="rgb(0,235,255)" stroke-width="2.6"/>
<text x="399.80" y="63.60" text-anchor="middle" font-size="12.8" font-weight="bold" fill="rgb(30,185,240)">S1</text>
<polygon points="380.30,59.00 382.47,64.81 388.67,65.08 383.82,68.94 385.47,74.92 380.30,71.50 375.13,74.92 376.78,68.94 371.93,65.08 378.13,64.81" fill="none" stroke="rgb(235,170,70)" stroke-width="1.50" stroke-linejoin="miter"/>
<polygon points="128.20,208.70 129.48,212.13 133.15,212.29 130.28,214.57 131.26,218.11 128.20,216.08 125.14,218.11 126.12,214.57 123.25,212.29 126.92,212.13" fill="none" stroke="#000" stroke-width="1.10" stroke-linejoin="miter"/>
<polygon points="303.40,208.30 304.68,211.73 308.35,211.89 305.48,214.17 306.46,217.71 303.40,215.68 300.34,217.71 301.32,214.17 298.45,211.89 302.12,211.73" fill="none" stroke="#000" stroke-width="1.10" stroke-linejoin="miter"/>
<polygon points="380.50,207.50 382.10,211.79 386.68,211.99 383.10,214.84 384.32,219.26 380.50,216.73 376.68,219.26 377.90,214.84 374.32,211.99 378.90,211.79" fill="none" stroke="rgb(20,230,20)" stroke-width="1.40" stroke-linejoin="miter"/>
<polygon points="428.30,208.00 429.90,212.29 434.48,212.49 430.90,215.34 432.12,219.76 428.30,217.23 424.48,219.76 425.70,215.34 422.12,212.49 426.70,212.29" fill="none" stroke="rgb(20,240,20)" stroke-width="1.40" stroke-linejoin="miter"/>
<polygon points="560.90,191.80 562.18,195.23 565.85,195.39 562.98,197.67 563.96,201.21 560.90,199.18 557.84,201.21 558.82,197.67 555.95,195.39 559.62,195.23" fill="none" stroke="#000" stroke-width="1.10" stroke-linejoin="miter"/>
<polygon points="380.20,343.30 382.67,349.90 389.71,350.21 384.19,354.60 386.08,361.39 380.20,357.50 374.32,361.39 376.21,354.60 370.69,350.21 377.73,349.90" fill="none" stroke="rgb(240,170,70)" stroke-width="1.60" stroke-linejoin="miter"/>
<polygon points="128.20,493.70 129.48,497.13 133.15,497.29 130.28,499.57 131.26,503.11 128.20,501.08 125.14,503.11 126.12,499.57 123.25,497.29 126.92,497.13" fill="none" stroke="#000" stroke-width="1.10" stroke-linejoin="miter"/>
<polygon points="303.40,493.30 304.68,496.73 308.35,496.89 305.48,499.17 306.46,502.71 303.40,500.68 300.34,502.71 301.32,499.17 298.45,496.89 302.12,496.73" fill="none" stroke="#000" stroke-width="1.10" stroke-linejoin="miter"/>
<polygon points="380.50,492.50 382.10,496.79 386.68,496.99 383.10,499.84 384.32,504.26 380.50,501.73 376.68,504.26 377.90,499.84 374.32,496.99 378.90,496.79" fill="none" stroke="rgb(20,230,20)" stroke-width="1.40" stroke-linejoin="miter"/>
<polygon points="428.30,493.00 429.90,497.29 434.48,497.49 430.90,500.34 432.12,504.76 428.30,502.23 424.48,504.76 425.70,500.34 422.12,497.49 426.70,497.29" fill="none" stroke="rgb(20,240,20)" stroke-width="1.40" stroke-linejoin="miter"/>
<polygon points="560.90,476.80 562.18,480.23 565.85,480.39 562.98,482.67 563.96,486.21 560.90,484.18 557.84,486.21 558.82,482.67 555.95,480.39 559.62,480.23" fill="none" stroke="#000" stroke-width="1.10" stroke-linejoin="miter"/>
<text x="674.00" y="428.60" text-anchor="middle" font-size="12.4" fill="#111">6 s</text>
<path d="M668.5 433.6H680" stroke="#000" stroke-width="1"/>
<polygon points="667.6,433.6 671.6,431.6 671.6,435.6" fill="#000"/>
<polygon points="681,433.6 677,431.6 677,435.6" fill="#000"/>
</svg>
</body></html>
